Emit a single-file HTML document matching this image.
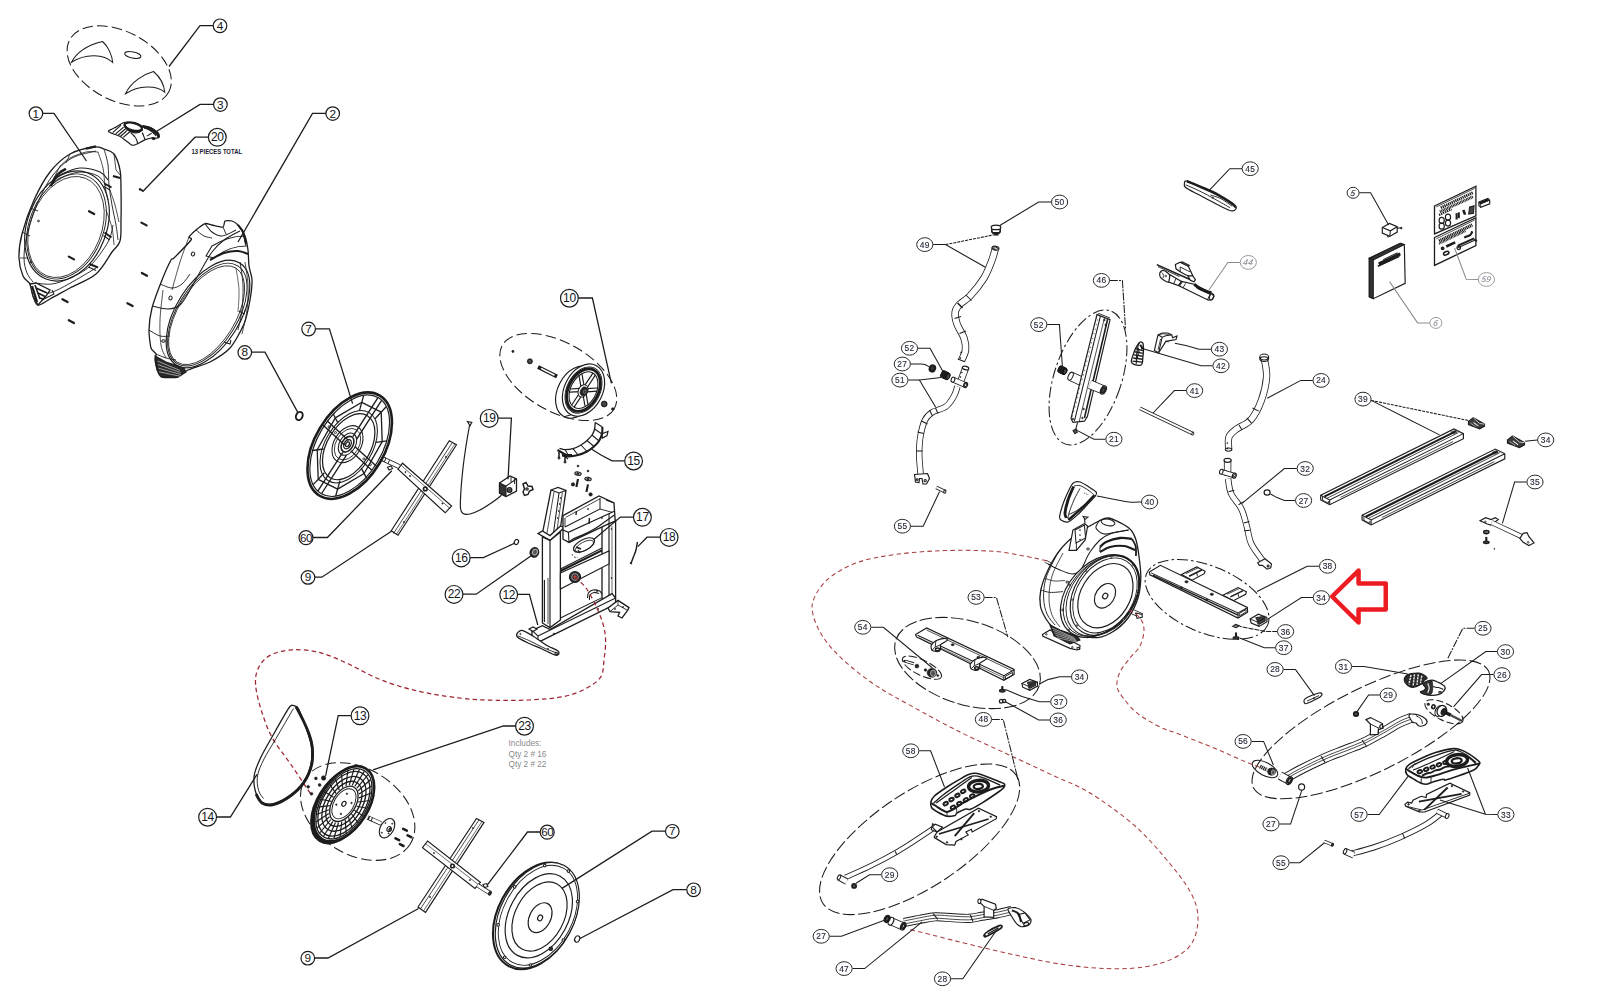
<!DOCTYPE html>
<html><head><meta charset="utf-8"><title>Exploded parts diagram</title>
<style>html,body{margin:0;padding:0;background:#fff;}svg{display:block;font-family:"Liberation Sans",sans-serif;}</style>
</head><body>
<svg width="1600" height="1000" viewBox="0 0 1600 1000">
<defs><filter id="soft" x="0" y="0" width="1600" height="1000" filterUnits="userSpaceOnUse"><feGaussianBlur stdDeviation="0.32"/></filter></defs>
<rect x="0" y="0" width="1600" height="1000" fill="#fff"/>
<g id="left-top">
<ellipse cx="119.2" cy="65.9" rx="56" ry="34.5" transform="rotate(27.5 119.2 65.9)" stroke="#1c1c1c" stroke-width="1.04" fill="none" stroke-dasharray="10.5 4.2"/>
<path d="M71.5 62.2 C78 50 92 44 102.5 41.5 C108 46 112 55 112.7 62.5 C104 54 86 53 71.5 62.2Z" stroke="#1c1c1c" stroke-width="1.04" fill="none"/>
<path d="M125.5 93.7 C131 82 144 74 153.5 71.5 C160 77 164 85 164.75 92.2 C156 85 139 85 125.5 93.7Z" stroke="#1c1c1c" stroke-width="1.04" fill="none"/>
<ellipse cx="132.8" cy="55" rx="8.2" ry="3" transform="rotate(12 132.8 55)" stroke="#1c1c1c" stroke-width="1.04" fill="none"/>
<path d="M108.3 131.5 C107.8 130.5 114.6 127.8 116.2 126.9 C117.8 126 122.2 122.9 124.1 122.5 C125.9 122.1 133.2 122.1 135 122.5 C136.8 122.8 140.5 125.5 142 126 C143.5 126.5 148.7 127 150.3 127.7 C151.9 128.4 157.3 132 158.2 133 C159.1 134 159.3 136.8 159.1 137.4 C158.8 137.9 156.6 138.2 156 138.2 C155.3 138.3 153.5 137.7 152.5 137.8 C151.4 137.9 146.9 139 145.5 139.6 C144.1 140.1 139.2 142.9 138.1 143.5 C136.9 144.1 134.9 145.2 134.1 145.2 C133.4 145.3 131.9 145.2 130.6 144.4 C129.3 143.5 123.2 138.2 121 136.9 C118.8 135.6 108.8 132.5 108.3 131.5Z" stroke="#1c1c1c" stroke-width="1.17" fill="#fff"/>
<ellipse cx="133.2" cy="126.7" rx="9" ry="3.7" transform="rotate(14 133.2 126.7)" stroke="#1c1c1c" stroke-width="2.21" fill="none"/>
<path d="M124.5 125.1 C125.1 125.9 126.4 128.4 128 129.5 C129.6 130.6 132.2 131.4 134.1 131.7 C136 132 138 131.6 139.4 131.2 C140.8 130.9 141.9 129.8 142.4 129.5" stroke="#1c1c1c" stroke-width="2.08" fill="none"/>
<path d="M124.5 126.9 C125.2 127.5 127.1 129.8 128.9 130.8 C130.6 131.8 133.1 132.8 135 133 C136.9 133.2 139.4 132.3 140.2 132.1" stroke="#1c1c1c" stroke-width="1.04" fill="none"/>
<polyline points="121,125.1 112.7,132.6" stroke="#1c1c1c" stroke-width="1.17" fill="none"/>
<polyline points="123.6,127.1 115.7,133.9" stroke="#1c1c1c" stroke-width="1.17" fill="none"/>
<polyline points="125.6,128.8 118.4,135" stroke="#1c1c1c" stroke-width="1.17" fill="none"/>
<polyline points="127.3,130.4 120.6,136.3" stroke="#1c1c1c" stroke-width="1.17" fill="none"/>
<polyline points="130.2,131.5 123.2,137.4" stroke="#1c1c1c" stroke-width="1.17" fill="none"/>
<path d="M130.6 132.6 C131.3 133.2 133.5 135.3 134.6 136.5 C135.6 137.7 136.2 138.8 136.7 140 C137.3 141.2 137.5 143.1 137.7 143.7" stroke="#1c1c1c" stroke-width="1.17" fill="none"/>
<path d="M142.2 132.6 C142.5 133.1 143.3 134.9 143.7 136.1 C144.2 137.3 144.8 139.2 145.1 139.8" stroke="#1c1c1c" stroke-width="1.17" fill="none"/>
<path d="M142.4 126.2 C143.7 126.6 147.8 127.2 150.3 128.4 C152.8 129.6 155.9 131.9 157.3 133.4 C158.7 134.9 158.4 136.7 158.6 137.4" stroke="#1c1c1c" stroke-width="2.86" fill="none"/>
<path d="M144.2 127.7 C145.2 128.2 148.3 129.1 150.3 130.4 C152.3 131.7 155.4 134.7 156.4 135.6" stroke="#1c1c1c" stroke-width="1.56" fill="none"/>
<polyline points="146.8,136.1 151.6,133.2" stroke="#1c1c1c" stroke-width="1.04" fill="none"/>
<ellipse cx="153.6" cy="138.6" rx="1.6" ry="0.9" stroke="#1c1c1c" stroke-width="1.04" fill="#1c1c1c"/>
<path d="M94 147 C88.3 147.8 77.3 149.8 70 154 C62.7 158.2 56 164.3 50 172 C44 179.7 38.7 189.7 34 200 C29.3 210.3 24.5 224.3 22 234 C19.5 243.7 18.8 251 19 258 C19.2 265 21.2 271.7 23 276 C24.8 280.3 28.3 280.7 30 284 C31.7 287.3 31.7 292.5 33 296 C34.3 299.5 35.2 304.5 38 305 C40.8 305.5 44.7 301.8 50 299 C55.3 296.2 62.3 292.2 70 288 C77.7 283.8 89 280 96 274 C103 268 108 257.5 112 252 C116 246.5 118.5 246.3 120 241 C121.5 235.7 120.8 228.5 121 220 C121.2 211.5 121.2 198.3 121 190 C120.8 181.7 121.2 176 120 170 C118.8 164 116.7 157.5 114 154 C111.3 150.5 107.3 150.2 104 149 C100.7 147.8 99.7 146.2 94 147Z" stroke="#1c1c1c" stroke-width="1.30" fill="none"/>
<path d="M96 151 C92 152.2 79.2 154 72 158 C64.8 162 58.7 167.7 53 175 C47.3 182.3 42.3 192 38 202 C33.7 212 29.3 225.7 27 235 C24.7 244.3 24 251.7 24 258 C24 264.3 25.5 269 27 273 C28.5 277 32 280.5 33 282" stroke="#1c1c1c" stroke-width="0.91" fill="none"/>
<path d="M35 283 C37.8 283.2 46.2 284.8 52 284 C57.8 283.2 63.7 281 70 278 C76.3 275 83.7 272 90 266 C96.3 260 104.2 248.8 108 242 C111.8 235.2 112.2 227.8 113 225" stroke="#1c1c1c" stroke-width="0.91" fill="none"/>
<path d="M38 296 C40.8 295.2 49 293.5 55 291 C61 288.5 67.2 284.8 74 281 C80.8 277.2 92.3 270.2 96 268" stroke="#1c1c1c" stroke-width="0.91" fill="none"/>
<ellipse cx="67" cy="226" rx="57" ry="39.5" transform="rotate(-68.4 67 226)" stroke="#1c1c1c" stroke-width="1.17" fill="none"/>
<ellipse cx="66.5" cy="226.5" rx="54.5" ry="37" transform="rotate(-68.4 66.5 226.5)" stroke="#1c1c1c" stroke-width="0.91" fill="none"/>
<ellipse cx="66" cy="227" rx="52.5" ry="35.5" transform="rotate(-68.4 66 227)" stroke="#1c1c1c" stroke-width="0.78" fill="none"/>
<path d="M52 182 C53.7 180.7 57.3 176.3 62 174 C66.7 171.7 73.7 168.3 80 168 C86.3 167.7 95.3 170 100 172 C104.7 174 106.7 178.7 108 180" stroke="#1c1c1c" stroke-width="1.04" fill="none"/>
<path d="M49 186 C50.8 184.7 54.8 180.3 60 178 C65.2 175.7 73.7 172.3 80 172 C86.3 171.7 93.7 173.7 98 176 C102.3 178.3 104.7 184.3 106 186" stroke="#1c1c1c" stroke-width="0.91" fill="none"/>
<path d="M60 166 C61.7 164.7 65.7 160.3 70 158 C74.3 155.7 81.3 153 86 152 C90.7 151 96 152 98 152" stroke="#1c1c1c" stroke-width="0.78" fill="none"/>
<polyline points="60,166 52,182" stroke="#1c1c1c" stroke-width="0.91" fill="none"/>
<polyline points="70,154 66,163" stroke="#1c1c1c" stroke-width="0.78" fill="none"/>
<path d="M104 149 C104.7 151.7 107.2 159 108 165 C108.8 171 108.3 178.3 109 185 C109.7 191.7 110.8 198.3 112 205 C113.2 211.7 115 219.2 116 225 C117 230.8 117.7 237.5 118 240" stroke="#1c1c1c" stroke-width="0.91" fill="none"/>
<path d="M98 152 C98.8 154.7 101.8 162.3 103 168 C104.2 173.7 104.2 180.7 105 186 C105.8 191.3 107.5 197.7 108 200" stroke="#1c1c1c" stroke-width="0.78" fill="none"/>
<path d="M110 190 C110.8 192.5 113.5 199.7 115 205 C116.5 210.3 118.3 219.2 119 222" stroke="#1c1c1c" stroke-width="0.78" fill="none"/>
<path d="M106 210 C107 213 110.7 222.2 112 228 C113.3 233.8 113.7 242.2 114 245" stroke="#1c1c1c" stroke-width="0.78" fill="none"/>
<polyline points="113,176 120,178" stroke="#1c1c1c" stroke-width="2.08" fill="none"/>
<polyline points="114,154 116,170 121,176" stroke="#1c1c1c" stroke-width="0.78" fill="none"/>
<polyline points="30,208 38,211" stroke="#1c1c1c" stroke-width="0.91" fill="none"/>
<polyline points="22,232 30,236" stroke="#1c1c1c" stroke-width="0.91" fill="none"/>
<polyline points="20,258 28,258" stroke="#1c1c1c" stroke-width="0.78" fill="none"/>
<polyline points="104.5,183.5 111.5,187.5" stroke="#1c1c1c" stroke-width="1.95" fill="none"/>
<polyline points="104,186.5 110,190" stroke="#1c1c1c" stroke-width="1.04" fill="none"/>
<polyline points="104.5,232.5 111.5,237.5" stroke="#1c1c1c" stroke-width="1.95" fill="none"/>
<polyline points="103.5,235.5 109.5,240" stroke="#1c1c1c" stroke-width="1.04" fill="none"/>
<polyline points="89.5,264 98,267.5" stroke="#1c1c1c" stroke-width="1.95" fill="none"/>
<polyline points="88.5,267 96,270.5" stroke="#1c1c1c" stroke-width="1.04" fill="none"/>
<path d="M50.8 186 C51.5 184.7 53.5 180.2 55 178 C56.5 175.8 58.2 174 60 172.5 C61.8 171 65 169.4 66 168.8" stroke="#1c1c1c" stroke-width="2.47" fill="none"/>
<polyline points="86,148.6 96,146.4" stroke="#1c1c1c" stroke-width="2.21" fill="none"/>
<ellipse cx="38.5" cy="221" rx="0.9" ry="0.9" stroke="#1c1c1c" stroke-width="0.91" fill="none"/>
<ellipse cx="31" cy="262" rx="0.9" ry="0.9" stroke="#1c1c1c" stroke-width="0.91" fill="none"/>
<polygon points="30,284 36,283 50,290 46,296 38,305 33,296" stroke="#1c1c1c" stroke-width="1.30" fill="#fff"/>
<polyline points="32,286 37,302" stroke="#1c1c1c" stroke-width="2.34" fill="none"/>
<polyline points="35,285 40,299" stroke="#1c1c1c" stroke-width="1.56" fill="none"/>
<polyline points="36,288 47,293" stroke="#1c1c1c" stroke-width="1.82" fill="none"/>
<polyline points="38,293 45,296.5" stroke="#1c1c1c" stroke-width="1.56" fill="none"/>
<polyline points="40,298 44,299.5" stroke="#1c1c1c" stroke-width="1.82" fill="none"/>
<polyline points="42,300 54,294 52,290" stroke="#1c1c1c" stroke-width="1.04" fill="none"/>
<polyline points="89,211.2 94.2,214" stroke="#1c1c1c" stroke-width="2.21" fill="none" stroke-linecap="round"/>
<polyline points="68.8,256.6 74,259.4" stroke="#1c1c1c" stroke-width="2.21" fill="none" stroke-linecap="round"/>
<polyline points="62.4,299.2 67.6,302" stroke="#1c1c1c" stroke-width="2.21" fill="none" stroke-linecap="round"/>
<polyline points="68.8,320.2 74,323" stroke="#1c1c1c" stroke-width="2.21" fill="none" stroke-linecap="round"/>
<polyline points="141.4,222.6 146.6,225.4" stroke="#1c1c1c" stroke-width="2.21" fill="none" stroke-linecap="round"/>
<polyline points="141.8,273 147,275.8" stroke="#1c1c1c" stroke-width="2.21" fill="none" stroke-linecap="round"/>
<polyline points="127.4,303.2 132.6,306" stroke="#1c1c1c" stroke-width="2.21" fill="none" stroke-linecap="round"/>
<polyline points="139.5,189 143.8,191.3" stroke="#1c1c1c" stroke-width="1.95" fill="none"/>
<polyline points="139.2,190.2 140.2,188" stroke="#1c1c1c" stroke-width="1.30" fill="none"/>
<path d="M238 225 C236.5 223.2 233.5 221.5 232 221 C230.5 220.5 226.1 220.3 225 221 C223.9 221.7 224.5 226.5 223 227 C221.5 227.5 214.1 225.4 212 225 C209.9 224.6 206.9 223 205 223.6 C203.1 224.2 197.9 228.4 196 230 C194.1 231.6 189.6 235.8 189 237 C188.4 238.2 192.8 237.6 191 240 C189.2 242.4 176.3 255.7 174 258 C171.7 260.3 172.4 257.4 171 260 C169.6 262.6 164.2 274.4 162 280 C159.8 285.6 153.5 302.2 152 308 C150.5 313.8 149.1 325.3 149 330 C148.9 334.7 150.2 345.2 151 348 C151.8 350.8 155.5 352.6 156 354 C156.5 355.4 154.8 357.9 155 360 C155.2 362.1 157.2 370 158 372 C158.8 374 159.7 376.4 162 377 C164.3 377.6 175 377.8 178 377 C181 376.2 184.3 371.8 188 370 C191.7 368.2 205.1 364.6 210 362 C214.9 359.4 226 352.4 230 348 C234 343.6 241.7 329.6 244 324 C246.3 318.4 249.1 305.1 250 300 C250.9 294.9 252.1 284 252 280 C251.9 276 249.5 269.5 249 266 C248.5 262.5 248.5 253.5 248 250 C247.5 246.5 246.2 238.9 245 236 C243.8 233.1 239.5 226.8 238 225Z" stroke="#1c1c1c" stroke-width="1.30" fill="none"/>
<ellipse cx="208" cy="314" rx="60" ry="32" transform="rotate(-58 208 314)" stroke="#1c1c1c" stroke-width="1.17" fill="none"/>
<ellipse cx="207.3" cy="314.6" rx="57.5" ry="30" transform="rotate(-58 207.3 314.6)" stroke="#1c1c1c" stroke-width="0.91" fill="none"/>
<ellipse cx="206.6" cy="315.2" rx="55.5" ry="28.5" transform="rotate(-58 206.6 315.2)" stroke="#1c1c1c" stroke-width="0.78" fill="none"/>
<path d="M152 306 C154.7 306.5 163.3 309.2 168 309 C172.7 308.8 176.3 308.2 180 305 C183.7 301.8 186.7 295.5 190 290 C193.3 284.5 196.3 278.3 200 272 C203.7 265.7 208 257.3 212 252 C216 246.7 219.3 243.5 224 240 C228.7 236.5 237.3 232.5 240 231" stroke="#1c1c1c" stroke-width="1.04" fill="none"/>
<path d="M160 284 C162 284.7 168.3 288 172 288 C175.7 288 179 286.3 182 284 C185 281.7 188.7 275.7 190 274" stroke="#1c1c1c" stroke-width="0.91" fill="none"/>
<path d="M149 330 C150.8 331 156.5 335 160 336 C163.5 337 168.3 336 170 336" stroke="#1c1c1c" stroke-width="0.91" fill="none"/>
<path d="M156 354 C157.7 354.7 162.7 357 166 358 C169.3 359 174.3 359.7 176 360" stroke="#1c1c1c" stroke-width="0.91" fill="none"/>
<path d="M163 290 C162.5 295 160.3 310.8 160 320 C159.7 329.2 160 338.7 161 345 C162 351.3 165.2 355.8 166 358" stroke="#1c1c1c" stroke-width="0.78" fill="none"/>
<path d="M189 237 C187.5 241.2 182.8 253.2 180 262 C177.2 270.8 173.3 285.3 172 290" stroke="#1c1c1c" stroke-width="0.78" fill="none"/>
<path d="M205 223.6 C206.2 225 209.2 229.9 212 232 C214.8 234.1 218 236.3 222 236 C226 235.7 233.7 231 236 230" stroke="#1c1c1c" stroke-width="1.04" fill="none"/>
<path d="M196 230 C197.3 231 201.3 234.7 204 236 C206.7 237.3 210.7 237.7 212 238" stroke="#1c1c1c" stroke-width="0.91" fill="none"/>
<polyline points="223,227 226,234" stroke="#1c1c1c" stroke-width="0.91" fill="none"/>
<path d="M206 256 L212 246 C222 240 234 236 244 236 L246 246 C236 246 224 250 214 258 Z" stroke="#1c1c1c" stroke-width="1.04" fill="none"/>
<path d="M210 260 C212.3 258.8 219.3 254.5 224 253 C228.7 251.5 234 250.8 238 251 C242 251.2 246.3 253.5 248 254" stroke="#1c1c1c" stroke-width="2.08" fill="none"/>
<path d="M238 225 C238.8 226.2 241.7 228.8 243 232 C244.3 235.2 245.5 242 246 244" stroke="#1c1c1c" stroke-width="2.08" fill="none"/>
<path d="M240 262 C240.5 265.8 242.7 277 243 285 C243.3 293 242.8 302.5 242 310 C241.2 317.5 238.7 326.7 238 330" stroke="#1c1c1c" stroke-width="0.91" fill="none"/>
<path d="M245 262 C245.5 265.8 247.7 277 248 285 C248.3 293 248 301.8 247 310 C246 318.2 242.8 330 242 334" stroke="#1c1c1c" stroke-width="0.78" fill="none"/>
<path d="M236 268 C236.5 271.7 238.7 282.7 239 290 C239.3 297.3 238.2 308.3 238 312" stroke="#1c1c1c" stroke-width="0.65" fill="none"/>
<polyline points="239,311 244,314 245,310" stroke="#1c1c1c" stroke-width="1.04" fill="none"/>
<polyline points="224,342 230,344 231,340" stroke="#1c1c1c" stroke-width="1.04" fill="none"/>
<ellipse cx="193" cy="254" rx="1.6" ry="2" transform="rotate(20 193 254)" stroke="#1c1c1c" stroke-width="1.04" fill="none"/>
<ellipse cx="170.5" cy="298" rx="1.6" ry="2" transform="rotate(20 170.5 298)" stroke="#1c1c1c" stroke-width="1.04" fill="none"/>
<ellipse cx="163.5" cy="341" rx="1.8" ry="1.2" stroke="#1c1c1c" stroke-width="1.04" fill="none"/>
<polygon points="155,356 166,362 184,368 186,372 178,377 162,377 157,370" stroke="#1c1c1c" stroke-width="1.04" fill="#2a2a2a"/>
<polyline points="157.5,361 180,370.5" stroke="#ddd" stroke-width="0.65" fill="none"/>
<polyline points="158,364.6 180.5,372.5" stroke="#ddd" stroke-width="0.65" fill="none"/>
<polyline points="158.5,368.2 181,374.5" stroke="#ddd" stroke-width="0.65" fill="none"/>
<polyline points="159,371.8 181.5,376.5" stroke="#ddd" stroke-width="0.65" fill="none"/>
</g>
<g id="left-mid">
<ellipse cx="299.3" cy="416" rx="3.2" ry="4.2" transform="rotate(25 299.3 416)" stroke="#1c1c1c" stroke-width="1.95" fill="none"/>
<ellipse cx="349.7" cy="445.7" rx="58.4" ry="34.6" transform="rotate(-59 349.7 445.7)" stroke="#1c1c1c" stroke-width="2.60" fill="none"/>
<ellipse cx="349.7" cy="445.7" rx="55.8" ry="32.2" transform="rotate(-59 349.7 445.7)" stroke="#1c1c1c" stroke-width="1.17" fill="none"/>
<ellipse cx="348.7" cy="446.7" rx="36.2" ry="21.5" transform="rotate(-59 348.7 446.7)" stroke="#1c1c1c" stroke-width="1.23" fill="none"/>
<ellipse cx="348.7" cy="446.7" rx="39.7" ry="23.5" transform="rotate(-59 348.7 446.7)" stroke="#1c1c1c" stroke-width="1.04" fill="none"/>
<ellipse cx="347.5" cy="444.2" rx="20" ry="13.5" transform="rotate(-59 347.5 444.2)" stroke="#1c1c1c" stroke-width="1.04" fill="none"/>
<ellipse cx="347.5" cy="444.2" rx="17" ry="11.5" transform="rotate(-59 347.5 444.2)" stroke="#1c1c1c" stroke-width="0.78" fill="none"/>
<ellipse cx="347.5" cy="444.2" rx="12" ry="8" transform="rotate(-59 347.5 444.2)" stroke="#1c1c1c" stroke-width="1.04" fill="none"/>
<ellipse cx="347.5" cy="444.2" rx="8.5" ry="5.5" transform="rotate(-59 347.5 444.2)" stroke="#1c1c1c" stroke-width="1.56" fill="none"/>
<ellipse cx="347.5" cy="444.2" rx="5" ry="3.3" transform="rotate(-59 347.5 444.2)" stroke="#1c1c1c" stroke-width="1.30" fill="none"/>
<ellipse cx="347.5" cy="444.2" rx="2.6" ry="1.7" transform="rotate(-59 347.5 444.2)" stroke="#1c1c1c" stroke-width="1.30" fill="none"/>
<polyline points="356.7,439.1 381.6,400.3" stroke="#1c1c1c" stroke-width="1.37" fill="none"/>
<polyline points="352.8,436.6 377.8,397.9" stroke="#1c1c1c" stroke-width="1.37" fill="none"/>
<polyline points="342.7,452.3 317.8,491.1" stroke="#1c1c1c" stroke-width="1.37" fill="none"/>
<polyline points="346.6,454.8 321.6,493.5" stroke="#1c1c1c" stroke-width="1.37" fill="none"/>
<polyline points="350.8,450.8 372.1,470.5" stroke="#1c1c1c" stroke-width="1.37" fill="none"/>
<polyline points="354.8,446.4 376.2,466.1" stroke="#1c1c1c" stroke-width="1.37" fill="none"/>
<polyline points="348.6,440.6 327.3,420.9" stroke="#1c1c1c" stroke-width="1.37" fill="none"/>
<polyline points="344.6,445 323.2,425.3" stroke="#1c1c1c" stroke-width="1.37" fill="none"/>
<polyline points="375,418.7 386.2,406.8" stroke="#1c1c1c" stroke-width="1.30" fill="none"/>
<polyline points="375.8,442.4 387.3,440.9" stroke="#1c1c1c" stroke-width="1.30" fill="none"/>
<polyline points="361.3,468.1 366.4,477.9" stroke="#1c1c1c" stroke-width="1.30" fill="none"/>
<polyline points="340,480.6 335.7,496" stroke="#1c1c1c" stroke-width="1.30" fill="none"/>
<polyline points="324.4,472.7 313.2,484.6" stroke="#1c1c1c" stroke-width="1.30" fill="none"/>
<polyline points="323.6,449 312.1,450.5" stroke="#1c1c1c" stroke-width="1.30" fill="none"/>
<polyline points="338.1,423.3 333,413.5" stroke="#1c1c1c" stroke-width="1.30" fill="none"/>
<polyline points="359.4,410.8 363.7,395.4" stroke="#1c1c1c" stroke-width="1.30" fill="none"/>
<polyline points="381.2,412.1 382.2,441.6" stroke="#1c1c1c" stroke-width="1.30" fill="none"/>
<polyline points="382.2,441.6 364.1,473.5" stroke="#1c1c1c" stroke-width="1.30" fill="none"/>
<polyline points="364.1,473.5 337.6,489.1" stroke="#1c1c1c" stroke-width="1.30" fill="none"/>
<polyline points="337.6,489.1 318.2,479.3" stroke="#1c1c1c" stroke-width="1.30" fill="none"/>
<polyline points="318.2,479.3 317.2,449.8" stroke="#1c1c1c" stroke-width="1.30" fill="none"/>
<polyline points="317.2,449.8 335.3,417.9" stroke="#1c1c1c" stroke-width="1.30" fill="none"/>
<polyline points="335.3,417.9 361.8,402.3" stroke="#1c1c1c" stroke-width="1.30" fill="none"/>
<polyline points="361.8,402.3 381.2,412.1" stroke="#1c1c1c" stroke-width="1.30" fill="none"/>
<ellipse cx="363.9" cy="458.8" rx="1" ry="1" stroke="#1c1c1c" stroke-width="0.91" fill="none"/>
<ellipse cx="370.3" cy="464.7" rx="1" ry="1" stroke="#1c1c1c" stroke-width="0.91" fill="none"/>
<ellipse cx="335.5" cy="432.6" rx="1" ry="1" stroke="#1c1c1c" stroke-width="0.91" fill="none"/>
<ellipse cx="329.1" cy="426.7" rx="1" ry="1" stroke="#1c1c1c" stroke-width="0.91" fill="none"/>
<polygon points="449.3,440.8 456.5,444.8 398,535.2 391.2,530.8" stroke="#1c1c1c" stroke-width="1.17" fill="#fff"/>
<polyline points="452,443 393.5,533.5" stroke="#1c1c1c" stroke-width="0.78" fill="none"/>
<polyline points="454.8,444 396.4,534.3" stroke="#1c1c1c" stroke-width="0.65" fill="none"/>
<polygon points="398,469.1 402.5,463.2 451.6,506 445.2,512.8" stroke="#1c1c1c" stroke-width="1.17" fill="#fff"/>
<polyline points="400.5,464.8 449.5,508" stroke="#1c1c1c" stroke-width="0.65" fill="none"/>
<path d="M384 459.5 L399 466.5" stroke="#1c1c1c" stroke-width="5.1" fill="none" stroke-linecap="butt" stroke-linejoin="round"/>
<path d="M384 459.5 L399 466.5" stroke="#fff" stroke-width="3.5" fill="none" stroke-linecap="butt" stroke-linejoin="round"/>
<ellipse cx="384" cy="459.5" rx="1.3" ry="2.2" transform="rotate(25 384 459.5)" stroke="#1c1c1c" stroke-width="0.91" fill="#fff"/>
<polyline points="389.5,460.2 388,463.6" stroke="#1c1c1c" stroke-width="0.91" fill="none"/>
<polygon points="387.5,467.2 391,466 392.6,468.6 389,470" stroke="#1c1c1c" stroke-width="1.04" fill="none"/>
<ellipse cx="425.3" cy="488.9" rx="1.8" ry="1.8" stroke="#1c1c1c" stroke-width="1.56" fill="none"/>
<ellipse cx="405.5" cy="472" rx="0.6" ry="0.6" stroke="#1c1c1c" stroke-width="0.78" fill="#1c1c1c"/>
<ellipse cx="410" cy="476" rx="0.6" ry="0.6" stroke="#1c1c1c" stroke-width="0.78" fill="#1c1c1c"/>
<ellipse cx="442.5" cy="503.5" rx="0.6" ry="0.6" stroke="#1c1c1c" stroke-width="0.78" fill="#1c1c1c"/>
<ellipse cx="446" cy="457" rx="0.6" ry="0.6" stroke="#1c1c1c" stroke-width="0.78" fill="#1c1c1c"/>
<ellipse cx="404" cy="522" rx="0.6" ry="0.6" stroke="#1c1c1c" stroke-width="0.78" fill="#1c1c1c"/>
<path d="M469.6 425 C469 428.5 467.1 438.8 466 446 C464.9 453.2 463.8 460.7 463 468 C462.2 475.3 461.4 483.4 461 490 C460.6 496.6 460.1 503.6 460.4 507.5 C460.7 511.4 461.4 512.4 463 513.5 C464.6 514.6 467.2 514.6 470 514 C472.8 513.4 476.3 511.9 480 510 C483.7 508.1 488.6 504.8 492 502.5 C495.4 500.2 498.5 498 500.5 496 C502.5 494 503.2 491.3 503.8 490.4" stroke="#1c1c1c" stroke-width="1.17" fill="none"/>
<polygon points="467.4,421.5 471.8,422.5 470,425.8" stroke="#1c1c1c" stroke-width="1.17" fill="none"/>
<polygon points="499.5,483 510,476 516.5,479 516.5,491 506,496.5 499.5,493" stroke="#1c1c1c" stroke-width="1.30" fill="#fff"/>
<polygon points="499.5,483 506,486 506,496.5 499.5,493" stroke="#1c1c1c" stroke-width="1.04" fill="#333"/>
<polyline points="506,486 516.5,479" stroke="#1c1c1c" stroke-width="1.04" fill="none"/>
<ellipse cx="509.5" cy="490" rx="2.2" ry="2.2" stroke="#1c1c1c" stroke-width="1.56" fill="none"/>
<ellipse cx="509.5" cy="490" rx="0.8" ry="0.8" stroke="#1c1c1c" stroke-width="1.04" fill="none"/>
<polyline points="511,477 511,482" stroke="#1c1c1c" stroke-width="0.91" fill="none"/>
<polyline points="514.5,478.5 514.5,484" stroke="#1c1c1c" stroke-width="0.91" fill="none"/>
<polygon points="523,484 526,482.5 528,486 532,486.5 533,489.5 529.5,491 528,494.5 524.5,495.5 523,492 524.5,489" stroke="#1c1c1c" stroke-width="1.43" fill="#fff"/>
<ellipse cx="527" cy="489" rx="1.2" ry="1.2" stroke="#1c1c1c" stroke-width="1.17" fill="none"/>
<ellipse cx="558.3" cy="377" rx="64.3" ry="34.4" transform="rotate(29.5 558.3 377)" stroke="#1c1c1c" stroke-width="1.04" fill="none" stroke-dasharray="10.5 4.2"/>
<ellipse cx="512.9" cy="351.4" rx="1.1" ry="1.1" stroke="#1c1c1c" stroke-width="0.65" fill="#1c1c1c"/>
<ellipse cx="529.9" cy="361.3" rx="2.6" ry="2.6" stroke="#1c1c1c" stroke-width="0.65" fill="#222"/>
<ellipse cx="529.9" cy="361.3" rx="1" ry="1" stroke="#888" stroke-width="0.65" fill="none"/>
<polyline points="538,366.9 557,376.4" stroke="#1c1c1c" stroke-width="3.90" fill="none"/>
<polyline points="541,368.4 554.5,375.2" stroke="#fff" stroke-width="1.56" fill="none"/>
<ellipse cx="604.2" cy="404" rx="3" ry="3" stroke="#1c1c1c" stroke-width="0.65" fill="#222"/>
<ellipse cx="604.2" cy="404" rx="1.2" ry="1.2" stroke="#888" stroke-width="0.65" fill="none"/>
<ellipse cx="612.8" cy="409" rx="1.3" ry="1.3" stroke="#1c1c1c" stroke-width="0.65" fill="#1c1c1c"/>
<ellipse cx="576.7" cy="392.1" rx="27.6" ry="19.1" transform="rotate(-63 576.7 392.1)" stroke="#1c1c1c" stroke-width="1.17" fill="#fff"/>
<path d="M589.2 367.5 L596 365.5" stroke="#1c1c1c" stroke-width="1.17" fill="none"/>
<path d="M564.2 416.7 L571 414.7" stroke="#1c1c1c" stroke-width="1.17" fill="none"/>
<ellipse cx="583.5" cy="390.1" rx="27.6" ry="19.1" transform="rotate(-63 583.5 390.1)" stroke="#1c1c1c" stroke-width="1.17" fill="#fff"/>
<ellipse cx="583.5" cy="390.1" rx="24.6" ry="16.6" transform="rotate(-63 583.5 390.1)" stroke="#1c1c1c" stroke-width="0.91" fill="none"/>
<ellipse cx="583.5" cy="390.1" rx="22.6" ry="15" transform="rotate(-63 583.5 390.1)" stroke="#1c1c1c" stroke-width="2.86" fill="none"/>
<ellipse cx="583.5" cy="390.1" rx="19.5" ry="12.8" transform="rotate(-63 583.5 390.1)" stroke="#1c1c1c" stroke-width="1.04" fill="none"/>
<polyline points="584.4,385.9 592.9,373.1" stroke="#1c1c1c" stroke-width="1.17" fill="none"/>
<polyline points="587.1,387.7 595.5,374.9" stroke="#1c1c1c" stroke-width="1.17" fill="none"/>
<polyline points="586.6,388.6 597.2,388" stroke="#1c1c1c" stroke-width="1.17" fill="none"/>
<polyline points="586.7,391.8 597.3,391.2" stroke="#1c1c1c" stroke-width="1.17" fill="none"/>
<polyline points="586,393.2 588.1,405.4" stroke="#1c1c1c" stroke-width="1.17" fill="none"/>
<polyline points="582.8,393.7 585,406" stroke="#1c1c1c" stroke-width="1.17" fill="none"/>
<polyline points="582.6,394.3 574.1,407.1" stroke="#1c1c1c" stroke-width="1.17" fill="none"/>
<polyline points="579.9,392.5 571.5,405.3" stroke="#1c1c1c" stroke-width="1.17" fill="none"/>
<polyline points="580.4,391.6 569.8,392.2" stroke="#1c1c1c" stroke-width="1.17" fill="none"/>
<polyline points="580.3,388.4 569.7,389" stroke="#1c1c1c" stroke-width="1.17" fill="none"/>
<polyline points="581,387 578.9,374.8" stroke="#1c1c1c" stroke-width="1.17" fill="none"/>
<polyline points="584.2,386.5 582,374.2" stroke="#1c1c1c" stroke-width="1.17" fill="none"/>
<ellipse cx="583" cy="390.9" rx="6.5" ry="4.6" transform="rotate(-63 583 390.9)" stroke="#1c1c1c" stroke-width="1.04" fill="#fff"/>
<ellipse cx="583.8" cy="391.3" rx="4.6" ry="3.3" transform="rotate(-63 583.8 391.3)" stroke="#1c1c1c" stroke-width="0.65" fill="#222"/>
<ellipse cx="584.7" cy="391.7" rx="1.8" ry="1.3" transform="rotate(-63 584.7 391.7)" stroke="#999" stroke-width="0.65" fill="none"/>
<path d="M595.2 422.5 C595.1 423.6 595.1 426.9 594.6 429 C594.1 431.1 593.3 433.1 592 435 C590.7 436.9 588.8 438.8 587 440.5 C585.2 442.2 583.3 443.6 581 445 C578.7 446.4 575.7 447.8 573 448.6 C570.3 449.4 567.2 449.6 565 449.6 C562.8 449.6 560.4 448.6 559.5 448.4" stroke="#1c1c1c" stroke-width="1.30" fill="none"/>
<path d="M602.4 427 C602.3 428.2 602.6 431.7 602 434 C601.4 436.3 600.3 438.9 599 441 C597.7 443.1 596 444.8 594 446.5 C592 448.2 589.7 450.1 587 451.5 C584.3 452.9 581 454.2 578 455 C575 455.8 571.7 456.3 569 456.4 C566.3 456.5 563.2 455.6 562 455.4" stroke="#1c1c1c" stroke-width="2.08" fill="none"/>
<polyline points="595.2,422.5 602.4,427" stroke="#1c1c1c" stroke-width="1.17" fill="none"/>
<polyline points="594.6,429 602,434" stroke="#1c1c1c" stroke-width="1.04" fill="none"/>
<polyline points="592,435 599,441" stroke="#1c1c1c" stroke-width="1.04" fill="none"/>
<polyline points="587,440.5 594,446.5" stroke="#1c1c1c" stroke-width="1.04" fill="none"/>
<polyline points="581,445 587,451.5" stroke="#1c1c1c" stroke-width="1.04" fill="none"/>
<polyline points="573,448.6 578,455" stroke="#1c1c1c" stroke-width="1.04" fill="none"/>
<polyline points="565,449.6 569,456.4" stroke="#1c1c1c" stroke-width="1.04" fill="none"/>
<polygon points="601.5,434 608,431.5 607,435.5 602.5,438" stroke="#1c1c1c" stroke-width="1.17" fill="none"/>
<polyline points="557.5,450 566,455 572,455" stroke="#1c1c1c" stroke-width="2.08" fill="none"/>
<polyline points="559,452 559,457" stroke="#1c1c1c" stroke-width="1.56" fill="none"/>
<polyline points="565,455.5 565,461" stroke="#1c1c1c" stroke-width="1.56" fill="none"/>
<polyline points="562,454 568,459" stroke="#1c1c1c" stroke-width="1.17" fill="none"/>
<ellipse cx="559" cy="458" rx="0.9" ry="0.9" stroke="#1c1c1c" stroke-width="1.04" fill="none"/>
<ellipse cx="565" cy="462" rx="0.9" ry="0.9" stroke="#1c1c1c" stroke-width="1.04" fill="none"/>
</g>
<g id="left-frame">
<ellipse cx="578" cy="466" rx="0.9" ry="0.9" stroke="#1c1c1c" stroke-width="0.65" fill="#1c1c1c"/>
<ellipse cx="588" cy="471" rx="0.9" ry="0.9" stroke="#1c1c1c" stroke-width="0.65" fill="#1c1c1c"/>
<ellipse cx="578" cy="473.6" rx="3.2" ry="1.6" transform="rotate(10 578 473.6)" stroke="#1c1c1c" stroke-width="1.17" fill="#fff"/>
<ellipse cx="578" cy="473.6" rx="1.4" ry="0.7" transform="rotate(10 578 473.6)" stroke="#1c1c1c" stroke-width="0.65" fill="#1c1c1c"/>
<ellipse cx="588" cy="479" rx="3.2" ry="1.6" transform="rotate(10 588 479)" stroke="#1c1c1c" stroke-width="1.17" fill="#fff"/>
<ellipse cx="588" cy="479" rx="1.4" ry="0.7" transform="rotate(10 588 479)" stroke="#1c1c1c" stroke-width="0.65" fill="#1c1c1c"/>
<polyline points="578,479 576.4,487" stroke="#1c1c1c" stroke-width="2.08" fill="none"/>
<polyline points="588,484.4 586.4,492" stroke="#1c1c1c" stroke-width="2.08" fill="none"/>
<ellipse cx="573" cy="484.4" rx="1.7" ry="1.7" stroke="#1c1c1c" stroke-width="0.65" fill="#1c1c1c"/>
<ellipse cx="590.6" cy="494.4" rx="1.7" ry="1.7" stroke="#1c1c1c" stroke-width="0.65" fill="#1c1c1c"/>
<ellipse cx="516.4" cy="542" rx="2" ry="2.6" transform="rotate(30 516.4 542)" stroke="#1c1c1c" stroke-width="1.17" fill="none"/>
<ellipse cx="534.4" cy="552.4" rx="4.2" ry="4.8" transform="rotate(20 534.4 552.4)" stroke="#1c1c1c" stroke-width="1.30" fill="#333"/>
<ellipse cx="535" cy="552.1" rx="2.4" ry="2.9" transform="rotate(20 535 552.1)" stroke="#bbb" stroke-width="0.91" fill="#555"/>
<polygon points="551,490 558,487.4 566,490.4 560.4,528 550,538.4 542.4,533.6" stroke="#1c1c1c" stroke-width="1.30" fill="#fff"/>
<polyline points="551,490 559,493 566,490.4" stroke="#1c1c1c" stroke-width="1.04" fill="none"/>
<polyline points="559,493 553.6,532" stroke="#1c1c1c" stroke-width="1.04" fill="none"/>
<polyline points="554,492 547,533" stroke="#1c1c1c" stroke-width="0.78" fill="none"/>
<polyline points="562.4,492.4 557,530" stroke="#1c1c1c" stroke-width="0.78" fill="none"/>
<ellipse cx="560.4" cy="498" rx="0.5" ry="0.5" stroke="#1c1c1c" stroke-width="0.65" fill="#1c1c1c"/>
<ellipse cx="559.6" cy="504" rx="0.5" ry="0.5" stroke="#1c1c1c" stroke-width="0.65" fill="#1c1c1c"/>
<ellipse cx="558.6" cy="511" rx="0.5" ry="0.5" stroke="#1c1c1c" stroke-width="0.65" fill="#1c1c1c"/>
<ellipse cx="557.6" cy="518" rx="0.5" ry="0.5" stroke="#1c1c1c" stroke-width="0.65" fill="#1c1c1c"/>
<polygon points="538,533.6 542.4,531 550,535.6 560.4,526 564.4,527.6 550,540.4" stroke="#1c1c1c" stroke-width="1.30" fill="#fff"/>
<polygon points="542.4,537 550,540.4 560.4,532 560.4,620 550,627.6 542.4,623" stroke="#1c1c1c" stroke-width="1.30" fill="#fff"/>
<polyline points="550,540.4 550,627.6" stroke="#1c1c1c" stroke-width="1.17" fill="none"/>
<polyline points="544.4,580 544.4,622" stroke="#1c1c1c" stroke-width="1.17" fill="none"/>
<polyline points="548,578 548,624" stroke="#1c1c1c" stroke-width="0.78" fill="none"/>
<polygon points="602,520 609,523.6 615.6,520 615.6,598 609,602.4 602,598" stroke="#1c1c1c" stroke-width="1.30" fill="#fff"/>
<polyline points="609,523.6 609,602.4" stroke="#1c1c1c" stroke-width="1.17" fill="none"/>
<polyline points="612,526 612,600" stroke="#1c1c1c" stroke-width="0.65" fill="none"/>
<ellipse cx="611.4" cy="529" rx="0.5" ry="0.5" stroke="#1c1c1c" stroke-width="0.65" fill="#1c1c1c"/>
<ellipse cx="611.4" cy="578" rx="0.5" ry="0.5" stroke="#1c1c1c" stroke-width="0.65" fill="#1c1c1c"/>
<polygon points="563,515.6 599,496 614,503 615.2,521 609,523.6 569,542.4 563,539.2" stroke="#1c1c1c" stroke-width="1.30" fill="#fff"/>
<polyline points="565,527 600,509 600,498" stroke="#1c1c1c" stroke-width="1.04" fill="none"/>
<polyline points="565,527 565,518" stroke="#1c1c1c" stroke-width="0.91" fill="none"/>
<polyline points="600,509 612.4,512.4" stroke="#1c1c1c" stroke-width="0.91" fill="none"/>
<polyline points="606,500 614,503" stroke="#1c1c1c" stroke-width="1.04" fill="none"/>
<polyline points="565.6,517.4 600.4,498.6" stroke="#1c1c1c" stroke-width="0.78" fill="none"/>
<polyline points="563,530 568.4,532.4 614.8,511" stroke="#1c1c1c" stroke-width="1.17" fill="none"/>
<polyline points="609,513.6 609,523.6" stroke="#1c1c1c" stroke-width="1.04" fill="none"/>
<polyline points="568.4,532.4 569,542.4" stroke="#1c1c1c" stroke-width="1.04" fill="none"/>
<polyline points="576.4,511 576,515" stroke="#1c1c1c" stroke-width="1.43" fill="none"/>
<polyline points="589.4,518 589,524" stroke="#1c1c1c" stroke-width="1.43" fill="none"/>
<ellipse cx="588" cy="509" rx="0.6" ry="0.6" stroke="#1c1c1c" stroke-width="0.65" fill="#1c1c1c"/>
<ellipse cx="602" cy="518" rx="0.6" ry="0.6" stroke="#1c1c1c" stroke-width="0.65" fill="#1c1c1c"/>
<path d="M569 542.4 C569.7 541.8 570.5 540.3 573 539 C575.5 537.7 580.2 536.2 584 534.4 C587.8 532.6 592.3 530.2 596 528 C599.7 525.8 602.9 523.2 606 521 C609.1 518.8 613 516 614.4 515" stroke="#1c1c1c" stroke-width="1.17" fill="none"/>
<ellipse cx="584" cy="545" rx="11.5" ry="5.5" transform="rotate(-28 584 545)" stroke="#1c1c1c" stroke-width="1.17" fill="none"/>
<ellipse cx="584.5" cy="546.2" rx="10" ry="4.2" transform="rotate(-28 584.5 546.2)" stroke="#1c1c1c" stroke-width="0.78" fill="none"/>
<polyline points="576,547 581,549" stroke="#1c1c1c" stroke-width="1.82" fill="none"/>
<polyline points="578,550 580,553" stroke="#1c1c1c" stroke-width="1.30" fill="none"/>
<path d="M572 554 C572.3 554.5 573 556.4 574 557 C575 557.6 577.3 557.5 578 557.6" stroke="#1c1c1c" stroke-width="0.78" fill="none" stroke-dasharray="2 1.5"/>
<polyline points="560.4,569 602,548" stroke="#1c1c1c" stroke-width="1.04" fill="none"/>
<polyline points="560.4,571 602,550.4" stroke="#1c1c1c" stroke-width="2.08" fill="none"/>
<polygon points="560.4,573 609,551 609,564 560.4,589" stroke="#1c1c1c" stroke-width="1.17" fill="#fff"/>
<ellipse cx="575" cy="577" rx="5.6" ry="5.6" stroke="#1c1c1c" stroke-width="1.04" fill="#2a2a2a"/>
<ellipse cx="575" cy="577" rx="3.3" ry="3.3" stroke="#aaa" stroke-width="0.91" fill="none"/>
<ellipse cx="575" cy="577" rx="1.2" ry="1.2" stroke="#c44" stroke-width="0.78" fill="#c44"/>
<polygon points="532,630.4 542.4,625.6 550,629.6 612,593.6 615.6,598 615.6,604 538,642.4 532,636.4" stroke="#1c1c1c" stroke-width="1.30" fill="#fff"/>
<polyline points="538,636 615.6,598" stroke="#1c1c1c" stroke-width="1.04" fill="none"/>
<polyline points="532,630.4 538,636 538,642.4" stroke="#1c1c1c" stroke-width="1.04" fill="none"/>
<polyline points="560.4,618 602,597.6" stroke="#1c1c1c" stroke-width="1.04" fill="none"/>
<ellipse cx="554" cy="633.6" rx="0.6" ry="0.6" stroke="#1c1c1c" stroke-width="0.65" fill="#1c1c1c"/>
<ellipse cx="598" cy="609" rx="0.6" ry="0.6" stroke="#1c1c1c" stroke-width="0.65" fill="#1c1c1c"/>
<polygon points="529,629 533,627 537,629 533,631.6" stroke="#1c1c1c" stroke-width="1.17" fill="#fff"/>
<path d="M517 633.6 C517.5 632.6 519.9 630.1 522 630.4 C524.1 630.7 529.8 634.1 533 636 C536.2 637.9 542.7 643 546 645 C549.3 647 556.3 649.7 558 651 C559.7 652.3 558.8 653.9 558.4 654.4 C558 654.9 557.2 655.7 555 655 C552.8 654.3 545.6 650.6 542 649 C538.4 647.4 531.2 644.5 528 643 C524.8 641.5 519.5 638.9 518 637.6 C516.5 636.3 516.5 634.6 517 633.6Z" stroke="#1c1c1c" stroke-width="1.30" fill="#fff"/>
<path d="M518 636 C520 636.8 525.7 639 530 641 C534.3 643 539.5 646 544 648 C548.5 650 554.8 652.2 557 653" stroke="#1c1c1c" stroke-width="0.91" fill="none"/>
<ellipse cx="520.4" cy="634" rx="0.7" ry="0.7" stroke="#1c1c1c" stroke-width="0.78" fill="none"/>
<ellipse cx="548" cy="649" rx="0.7" ry="0.7" stroke="#1c1c1c" stroke-width="0.78" fill="none"/>
<ellipse cx="556.4" cy="653.6" rx="1.6" ry="1" transform="rotate(30 556.4 653.6)" stroke="#1c1c1c" stroke-width="1.04" fill="none"/>
<polygon points="608,608 618,600.4 629,607.6 627.6,610.4 622,618 618,616 619.6,612.4 610,611.6" stroke="#1c1c1c" stroke-width="1.30" fill="#fff"/>
<polyline points="610,611.6 618,605 627.6,610.4" stroke="#1c1c1c" stroke-width="0.91" fill="none"/>
<polyline points="618,605 618,600.4" stroke="#1c1c1c" stroke-width="0.78" fill="none"/>
<ellipse cx="623" cy="607" rx="0.6" ry="0.6" stroke="#1c1c1c" stroke-width="0.65" fill="#1c1c1c"/>
<ellipse cx="615" cy="609" rx="0.6" ry="0.6" stroke="#1c1c1c" stroke-width="0.65" fill="#1c1c1c"/>
<path d="M587.6 598 C587.7 597.2 587.5 594.3 588.4 593 C589.3 591.7 591.1 590.3 593 590 C594.9 589.7 598.1 590.3 599.6 591 C601.1 591.7 601.6 593.8 602 594.4" stroke="#1c1c1c" stroke-width="1.17" fill="none"/>
<path d="M589.4 600 C589.5 599.2 589.2 596.3 590 595 C590.8 593.7 592.5 592.6 594 592.4 C595.5 592.2 598.2 593.4 599 593.6" stroke="#1c1c1c" stroke-width="1.04" fill="none"/>
<ellipse cx="597" cy="591" rx="0.7" ry="0.7" stroke="#1c1c1c" stroke-width="0.78" fill="none"/>
<path d="M637.4 542 C637.2 543.3 636.7 547.3 636 550 C635.3 552.7 633.8 555.8 633 558 C632.2 560.2 631.3 562.5 631 563.4" stroke="#1c1c1c" stroke-width="1.43" fill="none"/>
<polyline points="630,562.6 632,564" stroke="#1c1c1c" stroke-width="1.30" fill="none"/>
</g>
<path d="M575 577 C576.8 578.8 582.5 583.2 586 588 C589.5 592.8 593.2 600 596 606 C598.8 612 601.4 618.3 603 624 C604.6 629.7 605.4 634 605.6 640 C605.8 646 604.8 653.9 604 660 C603.2 666.1 603.7 672.1 600.8 676.8 C597.9 681.5 592.9 684.7 586.8 688 C580.7 691.3 574.2 694.4 564.4 696.4 C554.6 698.4 541.1 699.4 528 700 C514.9 700.6 497.7 700.4 486 700 C474.3 699.6 467.3 698.9 458 697.8 C448.7 696.7 439 695.3 430 693.6 C421 691.9 413 690.2 404 687.6 C395 685 385.3 681.8 376 677.8 C366.7 673.8 357.3 668 348 663.8 C338.7 659.6 329.3 654.9 320 652.6 C310.7 650.3 300.3 649.3 292 649.8 C283.7 650.3 275.6 652.4 270 655.4 C264.4 658.4 260.8 663.1 258.4 668 C256 672.9 255.1 677.8 255.6 684.8 C256.1 691.8 258.4 701.1 261.2 710 C264 718.9 267.3 728.7 272.4 738 C277.5 747.3 285.5 756.4 292 766 C298.5 775.6 308.3 790.5 311.6 795.4" stroke="#9c2530" stroke-width="1.25" fill="none" stroke-dasharray="4.5 3.2"/>
<g id="left-bottom">
<path d="M292.8 705.4 C294.3 705.4 296.7 706.4 298.3 708.7 C299.9 711 302 717.2 303.5 721 C305 724.8 307 730.1 308.2 734 C309.4 737.9 311.1 742.6 311.5 747.2 C311.9 751.8 312.1 759.5 310.8 764.8 C309.5 770.1 306.2 777.8 303 782.4 C299.8 787 293.9 792.4 289.5 795.6 C285.1 798.8 277.6 802.6 273.5 803.6 C269.4 804.6 264.7 804.1 262 802.2 C259.3 800.3 256.6 795.3 255.4 791.2 C254.2 787.1 253.5 780.1 254.3 775 C255.1 769.9 258.3 762.7 261 757 C263.7 751.3 267.9 744.2 272 737 C276.1 729.8 285.3 713.4 288.4 708.7 C291.5 704 291.3 705.4 292.8 705.4Z" stroke="#1c1c1c" stroke-width="1.30" fill="none"/>
<path d="M296 706.5 C297.2 708.9 301.3 716.4 303.5 721 C305.7 725.6 307.5 729.6 309 734 C310.5 738.4 311.9 742 312.3 747.2 C312.7 752.4 313.1 759 311.6 765 C310.2 771 307.2 777.8 303.6 783 C300 788.2 295 792.8 290 796.4 C285 800 278.2 803.5 273.5 804.6 C268.8 805.7 264.9 804.8 262 803 C259.1 801.2 257 795.5 256 794" stroke="#1c1c1c" stroke-width="2.86" fill="none"/>
<path d="M293.5 708.5 C290.6 713.5 280.9 730.1 276 738.5 C271.1 746.9 267.1 752.8 264 759 C260.9 765.2 258.4 770.8 257.5 776 C256.6 781.2 257.6 786.7 258.6 790.5 C259.6 794.3 262.7 797.2 263.5 798.6" stroke="#1c1c1c" stroke-width="0.91" fill="none"/>
<ellipse cx="357.7" cy="811.5" rx="61.8" ry="42.9" transform="rotate(31.7 357.7 811.5)" stroke="#1c1c1c" stroke-width="1.04" fill="none" stroke-dasharray="10.5 4.2"/>
<ellipse cx="323.6" cy="778" rx="2.2" ry="2.2" stroke="#1c1c1c" stroke-width="0.65" fill="#1c1c1c"/>
<ellipse cx="315.9" cy="778.4" rx="1.4" ry="1.4" stroke="#1c1c1c" stroke-width="0.52" fill="#1c1c1c"/>
<ellipse cx="319.6" cy="785" rx="1.4" ry="1.4" stroke="#1c1c1c" stroke-width="0.52" fill="#1c1c1c"/>
<ellipse cx="308.2" cy="786.8" rx="1.4" ry="1.4" stroke="#1c1c1c" stroke-width="0.52" fill="#1c1c1c"/>
<ellipse cx="311.5" cy="793.8" rx="1.4" ry="1.4" stroke="#1c1c1c" stroke-width="0.52" fill="#1c1c1c"/>
<ellipse cx="341.5" cy="805.6" rx="41.5" ry="24.5" transform="rotate(-58 341.5 805.6)" stroke="#1c1c1c" stroke-width="2.34" fill="#1c1c1c"/>
<ellipse cx="343.9" cy="803.8" rx="41.5" ry="24.5" transform="rotate(-58 343.9 803.8)" stroke="#1c1c1c" stroke-width="2.60" fill="#fff"/>
<ellipse cx="343.9" cy="803.8" rx="38.9" ry="22.5" transform="rotate(-58 343.9 803.8)" stroke="#1c1c1c" stroke-width="1.30" fill="none"/>
<ellipse cx="343.9" cy="803.8" rx="35.7" ry="21.1" transform="rotate(-58 343.9 803.8)" stroke="#1c1c1c" stroke-width="1.30" fill="none"/>
<ellipse cx="343.9" cy="803.8" rx="30.3" ry="17.9" transform="rotate(-58 343.9 803.8)" stroke="#1c1c1c" stroke-width="1.30" fill="none"/>
<ellipse cx="343.9" cy="803.8" rx="24.9" ry="14.7" transform="rotate(-58 343.9 803.8)" stroke="#1c1c1c" stroke-width="1.30" fill="none"/>
<polyline points="354.9,786.2 364.4,771.1" stroke="#1c1c1c" stroke-width="1.17" fill="none"/>
<polyline points="356.9,788.1 368.1,774.6" stroke="#1c1c1c" stroke-width="1.17" fill="none"/>
<polyline points="358.3,790.8 370.7,779.5" stroke="#1c1c1c" stroke-width="1.17" fill="none"/>
<polyline points="359,794.1 371.9,785.7" stroke="#1c1c1c" stroke-width="1.17" fill="none"/>
<polyline points="358.9,797.9 371.8,792.8" stroke="#1c1c1c" stroke-width="1.17" fill="none"/>
<polyline points="358,802 370.2,800.5" stroke="#1c1c1c" stroke-width="1.17" fill="none"/>
<polyline points="356.5,806.2 367.3,808.3" stroke="#1c1c1c" stroke-width="1.17" fill="none"/>
<polyline points="354.3,810.3 363.2,815.9" stroke="#1c1c1c" stroke-width="1.17" fill="none"/>
<polyline points="351.6,814 358.2,822.9" stroke="#1c1c1c" stroke-width="1.17" fill="none"/>
<polyline points="348.5,817.3 352.4,828.9" stroke="#1c1c1c" stroke-width="1.17" fill="none"/>
<polyline points="345.2,819.8 346.3,833.6" stroke="#1c1c1c" stroke-width="1.17" fill="none"/>
<polyline points="341.8,821.6 340,836.9" stroke="#1c1c1c" stroke-width="1.17" fill="none"/>
<polyline points="338.5,822.5 333.9,838.5" stroke="#1c1c1c" stroke-width="1.17" fill="none"/>
<polyline points="335.5,822.4 328.3,838.4" stroke="#1c1c1c" stroke-width="1.17" fill="none"/>
<polyline points="332.9,821.4 323.4,836.5" stroke="#1c1c1c" stroke-width="1.17" fill="none"/>
<polyline points="330.9,819.5 319.7,833" stroke="#1c1c1c" stroke-width="1.17" fill="none"/>
<polyline points="329.5,816.8 317.1,828.1" stroke="#1c1c1c" stroke-width="1.17" fill="none"/>
<polyline points="328.8,813.5 315.9,821.9" stroke="#1c1c1c" stroke-width="1.17" fill="none"/>
<polyline points="328.9,809.7 316,814.8" stroke="#1c1c1c" stroke-width="1.17" fill="none"/>
<polyline points="329.8,805.6 317.6,807.1" stroke="#1c1c1c" stroke-width="1.17" fill="none"/>
<polyline points="331.3,801.4 320.5,799.3" stroke="#1c1c1c" stroke-width="1.17" fill="none"/>
<polyline points="333.5,797.3 324.6,791.7" stroke="#1c1c1c" stroke-width="1.17" fill="none"/>
<polyline points="336.2,793.6 329.6,784.7" stroke="#1c1c1c" stroke-width="1.17" fill="none"/>
<polyline points="339.3,790.3 335.4,778.7" stroke="#1c1c1c" stroke-width="1.17" fill="none"/>
<polyline points="342.6,787.8 341.5,774" stroke="#1c1c1c" stroke-width="1.17" fill="none"/>
<polyline points="346,786 347.8,770.7" stroke="#1c1c1c" stroke-width="1.17" fill="none"/>
<polyline points="349.3,785.1 353.9,769.1" stroke="#1c1c1c" stroke-width="1.17" fill="none"/>
<polyline points="352.3,785.2 359.5,769.2" stroke="#1c1c1c" stroke-width="1.17" fill="none"/>
<ellipse cx="343.9" cy="803.8" rx="19.5" ry="11.5" transform="rotate(-58 343.9 803.8)" stroke="#1c1c1c" stroke-width="1.30" fill="#fff"/>
<ellipse cx="343.9" cy="803.8" rx="16.6" ry="9.8" transform="rotate(-58 343.9 803.8)" stroke="#1c1c1c" stroke-width="0.91" fill="none"/>
<ellipse cx="343.9" cy="803.8" rx="2.6" ry="1.9" transform="rotate(-58 343.9 803.8)" stroke="#1c1c1c" stroke-width="1.17" fill="none"/>
<ellipse cx="351.5" cy="803" rx="0.8" ry="0.8" stroke="#1c1c1c" stroke-width="0.52" fill="#1c1c1c"/>
<ellipse cx="340.9" cy="813.9" rx="0.8" ry="0.8" stroke="#1c1c1c" stroke-width="0.52" fill="#1c1c1c"/>
<ellipse cx="336.3" cy="804.6" rx="0.8" ry="0.8" stroke="#1c1c1c" stroke-width="0.52" fill="#1c1c1c"/>
<ellipse cx="346.9" cy="793.7" rx="0.8" ry="0.8" stroke="#1c1c1c" stroke-width="0.52" fill="#1c1c1c"/>
<path d="M367.6 817.4 L381 823.4" stroke="#1c1c1c" stroke-width="4.4" fill="none" stroke-linecap="butt" stroke-linejoin="round"/>
<path d="M367.6 817.4 L381 823.4" stroke="#fff" stroke-width="2.8" fill="none" stroke-linecap="butt" stroke-linejoin="round"/>
<polyline points="369.5,816.2 368,819.8" stroke="#1c1c1c" stroke-width="1.56" fill="none"/>
<polyline points="372.5,817.6 371,821.2" stroke="#1c1c1c" stroke-width="1.04" fill="none"/>
<ellipse cx="387" cy="828.2" rx="10.5" ry="6.6" transform="rotate(-60 387 828.2)" stroke="#1c1c1c" stroke-width="1.17" fill="#fff"/>
<ellipse cx="389" cy="829" rx="2.6" ry="1.9" transform="rotate(-60 389 829)" stroke="#1c1c1c" stroke-width="1.04" fill="#fff"/>
<ellipse cx="390.2" cy="829.6" rx="1.6" ry="1.2" transform="rotate(-60 390.2 829.6)" stroke="#1c1c1c" stroke-width="1.04" fill="#555"/>
<ellipse cx="392.2" cy="823.7" rx="0.6" ry="0.6" stroke="#1c1c1c" stroke-width="0.52" fill="#1c1c1c"/>
<ellipse cx="388.6" cy="833.4" rx="0.6" ry="0.6" stroke="#1c1c1c" stroke-width="0.52" fill="#1c1c1c"/>
<ellipse cx="381.8" cy="832.7" rx="0.6" ry="0.6" stroke="#1c1c1c" stroke-width="0.52" fill="#1c1c1c"/>
<ellipse cx="385.4" cy="823" rx="0.6" ry="0.6" stroke="#1c1c1c" stroke-width="0.52" fill="#1c1c1c"/>
<polyline points="403.2,828.8 406.8,830.6" stroke="#1c1c1c" stroke-width="2.60" fill="none" stroke-linecap="round"/>
<polyline points="407.6,835.4 411.2,837.2" stroke="#1c1c1c" stroke-width="2.60" fill="none" stroke-linecap="round"/>
<polyline points="395.5,838.3 399.1,840.1" stroke="#1c1c1c" stroke-width="2.60" fill="none" stroke-linecap="round"/>
<polyline points="399.9,844.2 403.5,846" stroke="#1c1c1c" stroke-width="2.60" fill="none" stroke-linecap="round"/>
<polygon points="476.5,818.5 484,822.4 425.5,912.4 418,907" stroke="#1c1c1c" stroke-width="1.17" fill="#fff"/>
<polyline points="479,819.8 420.5,908.8" stroke="#1c1c1c" stroke-width="0.78" fill="none"/>
<polyline points="482,821.4 423.5,911" stroke="#1c1c1c" stroke-width="0.65" fill="none"/>
<polygon points="422.5,847.6 427.6,841 480.4,882.4 475,888.4" stroke="#1c1c1c" stroke-width="1.17" fill="#fff"/>
<polyline points="425.6,843.6 478.4,884.6" stroke="#1c1c1c" stroke-width="0.65" fill="none"/>
<path d="M477.5 885.2 L490 893.2" stroke="#1c1c1c" stroke-width="4.4" fill="none" stroke-linecap="butt" stroke-linejoin="round"/>
<path d="M477.5 885.2 L490 893.2" stroke="#fff" stroke-width="2.8" fill="none" stroke-linecap="butt" stroke-linejoin="round"/>
<ellipse cx="490" cy="893.2" rx="1.2" ry="2" transform="rotate(30 490 893.2)" stroke="#1c1c1c" stroke-width="1.04" fill="#333"/>
<polygon points="483,884.6 486.5,883.6 488,886.4 484.6,887.6" stroke="#1c1c1c" stroke-width="1.04" fill="#fff"/>
<ellipse cx="452.5" cy="866" rx="1.8" ry="1.8" stroke="#1c1c1c" stroke-width="1.56" fill="none"/>
<ellipse cx="434" cy="853" rx="0.6" ry="0.6" stroke="#1c1c1c" stroke-width="0.65" fill="#1c1c1c"/>
<ellipse cx="470" cy="880" rx="0.6" ry="0.6" stroke="#1c1c1c" stroke-width="0.65" fill="#1c1c1c"/>
<ellipse cx="473" cy="828" rx="0.6" ry="0.6" stroke="#1c1c1c" stroke-width="0.65" fill="#1c1c1c"/>
<ellipse cx="430" cy="897" rx="0.6" ry="0.6" stroke="#1c1c1c" stroke-width="0.65" fill="#1c1c1c"/>
<ellipse cx="535.7" cy="915.9" rx="57" ry="37.5" transform="rotate(-61.6 535.7 915.9)" stroke="#1c1c1c" stroke-width="2.08" fill="none"/>
<ellipse cx="537.3" cy="915.3" rx="56.5" ry="36.7" transform="rotate(-61.6 537.3 915.3)" stroke="#1c1c1c" stroke-width="1.17" fill="#fff"/>
<ellipse cx="537.9" cy="915.3" rx="53.6" ry="34.5" transform="rotate(-61.6 537.9 915.3)" stroke="#1c1c1c" stroke-width="0.91" fill="none"/>
<ellipse cx="538.8" cy="915.8" rx="45" ry="29.5" transform="rotate(-61.6 538.8 915.8)" stroke="#1c1c1c" stroke-width="1.17" fill="none"/>
<ellipse cx="539.5" cy="916.5" rx="37" ry="24.2" transform="rotate(-61.6 539.5 916.5)" stroke="#1c1c1c" stroke-width="1.17" fill="none"/>
<ellipse cx="540.1" cy="917.7" rx="16" ry="10.5" transform="rotate(-61.6 540.1 917.7)" stroke="#1c1c1c" stroke-width="1.17" fill="none"/>
<ellipse cx="540.1" cy="917.9" rx="3" ry="2.3" transform="rotate(-61.6 540.1 917.9)" stroke="#1c1c1c" stroke-width="1.17" fill="none"/>
<ellipse cx="568.4" cy="871.1" rx="1.3" ry="1.3" stroke="#1c1c1c" stroke-width="1.04" fill="#fff"/>
<ellipse cx="577.6" cy="901.5" rx="1.3" ry="1.3" stroke="#1c1c1c" stroke-width="1.04" fill="#fff"/>
<ellipse cx="563.3" cy="940" rx="1.3" ry="1.3" stroke="#1c1c1c" stroke-width="1.04" fill="#fff"/>
<ellipse cx="530.5" cy="965" rx="1.3" ry="1.3" stroke="#1c1c1c" stroke-width="1.04" fill="#fff"/>
<ellipse cx="504.7" cy="957.2" rx="1.3" ry="1.3" stroke="#1c1c1c" stroke-width="1.04" fill="#fff"/>
<ellipse cx="498.1" cy="924.9" rx="1.3" ry="1.3" stroke="#1c1c1c" stroke-width="1.04" fill="#fff"/>
<ellipse cx="514.6" cy="886.9" rx="1.3" ry="1.3" stroke="#1c1c1c" stroke-width="1.04" fill="#fff"/>
<ellipse cx="544.7" cy="865.6" rx="1.3" ry="1.3" stroke="#1c1c1c" stroke-width="1.04" fill="#fff"/>
<ellipse cx="550.8" cy="948.8" rx="1.7" ry="1.7" stroke="#1c1c1c" stroke-width="1.04" fill="#333"/>
<ellipse cx="577.2" cy="939" rx="2.4" ry="3.3" transform="rotate(25 577.2 939)" stroke="#1c1c1c" stroke-width="1.17" fill="none"/>
</g>
<text x="191.4" y="154" font-size="8" fill="#1a2030" text-anchor="start" textLength="50.6" lengthAdjust="spacingAndGlyphs" font-weight="bold">13 PIECES TOTAL</text>
<text x="508.6" y="746.4" font-size="8.2" fill="#8a8a8a" text-anchor="start" >Includes:</text>
<text x="508.6" y="756.5" font-size="8.2" fill="#8a8a8a" text-anchor="start" >Qty 2 # 16</text>
<text x="508.6" y="766.6" font-size="8.2" fill="#8a8a8a" text-anchor="start" >Qty 2 # 22</text>
<g id="callouts-left">
<polyline points="213,25.6 200,25.6 169,66.5" stroke="#1c1c1c" stroke-width="1.27" fill="none"/>
<ellipse cx="220" cy="25.8" rx="6.8" ry="6.8" stroke="#1c1c1c" stroke-width="1.2" fill="#fff"/>
<text x="220" y="29.7" font-size="11.8" fill="#15161a" text-anchor="middle" >4</text>
<polyline points="213,104.4 200,104.4 154,133" stroke="#1c1c1c" stroke-width="1.27" fill="none"/>
<ellipse cx="220.4" cy="104.6" rx="6.8" ry="6.8" stroke="#1c1c1c" stroke-width="1.2" fill="#fff"/>
<text x="220.4" y="108.5" font-size="11.8" fill="#15161a" text-anchor="middle" >3</text>
<polyline points="209,137.2 195,137.2 143.5,190.8" stroke="#1c1c1c" stroke-width="1.27" fill="none"/>
<ellipse cx="217.3" cy="137.3" rx="8.9" ry="8.9" stroke="#1c1c1c" stroke-width="1.2" fill="#fff"/>
<text x="217.3" y="141.3" font-size="12" fill="#15161a" text-anchor="middle" letter-spacing="-0.4">20</text>
<polyline points="42,113.4 54,113.4 86.5,161" stroke="#1c1c1c" stroke-width="1.27" fill="none"/>
<ellipse cx="35.9" cy="113.6" rx="6.8" ry="6.8" stroke="#1c1c1c" stroke-width="1.2" fill="#fff"/>
<text x="35.9" y="117.5" font-size="11.8" fill="#15161a" text-anchor="middle" >1</text>
<polyline points="326,113.4 312.5,113.4 238,242" stroke="#1c1c1c" stroke-width="1.27" fill="none"/>
<ellipse cx="332.7" cy="113.6" rx="6.8" ry="6.8" stroke="#1c1c1c" stroke-width="1.2" fill="#fff"/>
<text x="332.7" y="117.5" font-size="11.8" fill="#15161a" text-anchor="middle" >2</text>
<polyline points="315,328.8 329.4,328.8 352.6,403.6" stroke="#1c1c1c" stroke-width="1.27" fill="none"/>
<ellipse cx="308.6" cy="329" rx="6.8" ry="6.8" stroke="#1c1c1c" stroke-width="1.2" fill="#fff"/>
<text x="308.6" y="332.9" font-size="11.8" fill="#15161a" text-anchor="middle" >7</text>
<polyline points="251,352.2 265,352.2 297.8,412.4" stroke="#1c1c1c" stroke-width="1.27" fill="none"/>
<ellipse cx="244.8" cy="352.4" rx="6.8" ry="6.8" stroke="#1c1c1c" stroke-width="1.2" fill="#fff"/>
<text x="244.8" y="356.3" font-size="11.8" fill="#15161a" text-anchor="middle" >8</text>
<polyline points="312,537.5 327.4,537.5 391.8,470.8" stroke="#1c1c1c" stroke-width="1.27" fill="none"/>
<ellipse cx="306" cy="537.7" rx="7" ry="7" stroke="#1c1c1c" stroke-width="1.2" fill="#fff"/>
<text x="306" y="541.5" font-size="11.6" fill="#15161a" text-anchor="middle" letter-spacing="-0.4">60</text>
<polyline points="314,577.2 321.8,577.2 391.8,531" stroke="#1c1c1c" stroke-width="1.27" fill="none"/>
<ellipse cx="308" cy="577.4" rx="6.8" ry="6.8" stroke="#1c1c1c" stroke-width="1.2" fill="#fff"/>
<text x="308" y="581.3" font-size="11.8" fill="#15161a" text-anchor="middle" >9</text>
<polyline points="497,418.2 511.4,418.2 508,479.2" stroke="#1c1c1c" stroke-width="1.27" fill="none"/>
<ellipse cx="489.2" cy="418.4" rx="8.9" ry="8.9" stroke="#1c1c1c" stroke-width="1.2" fill="#fff"/>
<text x="489.2" y="422.4" font-size="12" fill="#15161a" text-anchor="middle" letter-spacing="-0.4">19</text>
<polyline points="469,557.7 483.4,557.7 515,543" stroke="#1c1c1c" stroke-width="1.27" fill="none"/>
<ellipse cx="461.2" cy="557.9" rx="8.9" ry="8.9" stroke="#1c1c1c" stroke-width="1.2" fill="#fff"/>
<text x="461.2" y="561.9" font-size="12" fill="#15161a" text-anchor="middle" letter-spacing="-0.4">16</text>
<polyline points="577,298 592.4,298 611.4,383.4" stroke="#1c1c1c" stroke-width="1.27" fill="none"/>
<ellipse cx="569.4" cy="298.2" rx="8.9" ry="8.9" stroke="#1c1c1c" stroke-width="1.2" fill="#fff"/>
<text x="569.4" y="302.2" font-size="12" fill="#15161a" text-anchor="middle" letter-spacing="-0.4">10</text>
<polyline points="625,460.8 612,460.8 601,455 591.8,449.2" stroke="#1c1c1c" stroke-width="1.27" fill="none"/>
<ellipse cx="633.6" cy="461" rx="8.9" ry="8.9" stroke="#1c1c1c" stroke-width="1.2" fill="#fff"/>
<text x="633.6" y="465" font-size="12" fill="#15161a" text-anchor="middle" letter-spacing="-0.4">15</text>
<polyline points="634,517.1 620.4,517.1 593.8,539.6" stroke="#1c1c1c" stroke-width="1.27" fill="none"/>
<ellipse cx="642.4" cy="517.3" rx="8.9" ry="8.9" stroke="#1c1c1c" stroke-width="1.2" fill="#fff"/>
<text x="642.4" y="521.3" font-size="12" fill="#15161a" text-anchor="middle" letter-spacing="-0.4">17</text>
<polyline points="660,537.2 647,537.2 637.8,546.6" stroke="#1c1c1c" stroke-width="1.27" fill="none"/>
<ellipse cx="669.1" cy="537.4" rx="8.9" ry="8.9" stroke="#1c1c1c" stroke-width="1.2" fill="#fff"/>
<text x="669.1" y="541.4" font-size="12" fill="#15161a" text-anchor="middle" letter-spacing="-0.4">18</text>
<polyline points="462,594.2 476.2,594.2 532.2,555" stroke="#1c1c1c" stroke-width="1.27" fill="none"/>
<ellipse cx="454" cy="594.4" rx="8.9" ry="8.9" stroke="#1c1c1c" stroke-width="1.2" fill="#fff"/>
<text x="454" y="598.4" font-size="12" fill="#15161a" text-anchor="middle" letter-spacing="-0.4">22</text>
<polyline points="517,594.4 529.4,594.4 537.8,625" stroke="#1c1c1c" stroke-width="1.27" fill="none"/>
<ellipse cx="508.7" cy="594.6" rx="8.9" ry="8.9" stroke="#1c1c1c" stroke-width="1.2" fill="#fff"/>
<text x="508.7" y="598.6" font-size="12" fill="#15161a" text-anchor="middle" letter-spacing="-0.4">12</text>
<polyline points="516,726 503.5,726 373,769.8" stroke="#1c1c1c" stroke-width="1.27" fill="none"/>
<ellipse cx="524.5" cy="726.2" rx="8.9" ry="8.9" stroke="#1c1c1c" stroke-width="1.2" fill="#fff"/>
<text x="524.5" y="730.2" font-size="12" fill="#15161a" text-anchor="middle" letter-spacing="-0.4">23</text>
<polyline points="351,715.6 338.2,715.6 325.6,775.8" stroke="#1c1c1c" stroke-width="1.27" fill="none"/>
<ellipse cx="360" cy="715.8" rx="8.9" ry="8.9" stroke="#1c1c1c" stroke-width="1.2" fill="#fff"/>
<text x="360" y="719.8" font-size="12" fill="#15161a" text-anchor="middle" letter-spacing="-0.4">13</text>
<polyline points="216,817 230.4,817 257,774.4" stroke="#1c1c1c" stroke-width="1.27" fill="none"/>
<ellipse cx="207.6" cy="817.2" rx="8.9" ry="8.9" stroke="#1c1c1c" stroke-width="1.2" fill="#fff"/>
<text x="207.6" y="821.2" font-size="12" fill="#15161a" text-anchor="middle" letter-spacing="-0.4">14</text>
<polyline points="540,832 527.5,832 487,885.4" stroke="#1c1c1c" stroke-width="1.27" fill="none"/>
<ellipse cx="547.2" cy="832.2" rx="7" ry="7" stroke="#1c1c1c" stroke-width="1.2" fill="#fff"/>
<text x="547.2" y="836" font-size="11.6" fill="#15161a" text-anchor="middle" letter-spacing="-0.4">60</text>
<polyline points="665,831.1 652,831.1 562,888.4" stroke="#1c1c1c" stroke-width="1.27" fill="none"/>
<ellipse cx="672.3" cy="831.3" rx="6.8" ry="6.8" stroke="#1c1c1c" stroke-width="1.2" fill="#fff"/>
<text x="672.3" y="835.2" font-size="11.8" fill="#15161a" text-anchor="middle" >7</text>
<polyline points="686.5,889.6 673,889.6 580,938.5" stroke="#1c1c1c" stroke-width="1.27" fill="none"/>
<ellipse cx="693.6" cy="889.8" rx="6.8" ry="6.8" stroke="#1c1c1c" stroke-width="1.2" fill="#fff"/>
<text x="693.6" y="893.7" font-size="11.8" fill="#15161a" text-anchor="middle" >8</text>
<polyline points="314.5,958 328,958 418.6,908.5" stroke="#1c1c1c" stroke-width="1.27" fill="none"/>
<ellipse cx="307.8" cy="958.2" rx="6.8" ry="6.8" stroke="#1c1c1c" stroke-width="1.2" fill="#fff"/>
<text x="307.8" y="962.1" font-size="11.8" fill="#15161a" text-anchor="middle" >9</text>
</g>
<g filter="url(#soft)">
<g id="right-handles">
<ellipse cx="996" cy="231" rx="4.6" ry="3.4" stroke="#1c1c1c" stroke-width="1.04" fill="#fff"/>
<path d="M991.4 227.6 L992.6 232.5 L999.4 232.5 L1000.6 227.6" stroke="#1c1c1c" stroke-width="1.04" fill="#fff"/>
<ellipse cx="996" cy="227.4" rx="4.8" ry="2.3" stroke="#1c1c1c" stroke-width="1.17" fill="#fff"/>
<polyline points="992.8,233.6 999.2,233.6" stroke="#1c1c1c" stroke-width="1.17" fill="none"/>
<polyline points="993.4,235 998.6,235" stroke="#1c1c1c" stroke-width="1.17" fill="none"/>
<path d="M995.4 248.5 C994.8 250.4 993.9 255.1 992 260 C990.1 264.9 987.7 272 984 278 C980.3 284 974.1 291.6 970 296 C965.9 300.4 962 301.8 959.5 304.5 C957 307.2 955.6 308.8 955.2 312 C954.8 315.2 955.5 319.7 957 324 C958.5 328.3 962.6 333.7 964 338 C965.4 342.3 965.9 346.2 965.5 350 C965.1 353.8 962.2 358.8 961.5 360.5" stroke="#1c1c1c" stroke-width="7.4" fill="none" stroke-linecap="butt" stroke-linejoin="round"/>
<path d="M995.4 248.5 C994.8 250.4 993.9 255.1 992 260 C990.1 264.9 987.7 272 984 278 C980.3 284 974.1 291.6 970 296 C965.9 300.4 962 301.8 959.5 304.5 C957 307.2 955.6 308.8 955.2 312 C954.8 315.2 955.5 319.7 957 324 C958.5 328.3 962.6 333.7 964 338 C965.4 342.3 965.9 346.2 965.5 350 C965.1 353.8 962.2 358.8 961.5 360.5" stroke="#fff" stroke-width="5.8" fill="none" stroke-linecap="butt" stroke-linejoin="round"/>
<ellipse cx="995.5" cy="248.2" rx="3.5" ry="1.9" transform="rotate(12 995.5 248.2)" stroke="#1c1c1c" stroke-width="1.17" fill="#fff"/>
<ellipse cx="995.5" cy="248.2" rx="2.2" ry="1" transform="rotate(12 995.5 248.2)" stroke="#1c1c1c" stroke-width="0.78" fill="none"/>
<polyline points="965.8,295 971.5,300.5" stroke="#1c1c1c" stroke-width="1.04" fill="none"/>
<polyline points="957.6,303 962.5,308" stroke="#1c1c1c" stroke-width="1.56" fill="none"/>
<polyline points="954.5,318.5 961,316.5" stroke="#1c1c1c" stroke-width="1.04" fill="none"/>
<polyline points="959.5,333.5 966,331" stroke="#1c1c1c" stroke-width="1.04" fill="none"/>
<polyline points="957.8,359 964.8,361.8" stroke="#1c1c1c" stroke-width="1.04" fill="none"/>
<ellipse cx="961.3" cy="352.4" rx="0.6" ry="0.6" stroke="#1c1c1c" stroke-width="0.65" fill="#222"/>
<ellipse cx="960.3" cy="358" rx="0.6" ry="0.6" stroke="#1c1c1c" stroke-width="0.65" fill="#222"/>
<g transform="rotate(25 945.2 375.2)">
<rect x="940.9" y="371.5" width="8.6" height="7.4" rx="2" fill="#1e1e1e" stroke="#111" stroke-width="0.8"/>
<ellipse cx="948.3" cy="375.2" rx="1.8" ry="3.1" fill="#444" stroke="#000" stroke-width="0.8"/>
</g>
<ellipse cx="932.4" cy="368.4" rx="2.7" ry="3.2" transform="rotate(20 932.4 368.4)" stroke="#1c1c1c" stroke-width="1.95" fill="#333"/>
<path d="M965.4 368.5 L960.5 382" stroke="#1c1c1c" stroke-width="7" fill="none" stroke-linecap="butt" stroke-linejoin="round"/>
<path d="M965.4 368.5 L960.5 382" stroke="#fff" stroke-width="5.4" fill="none" stroke-linecap="butt" stroke-linejoin="round"/>
<ellipse cx="965.6" cy="368" rx="3.3" ry="1.7" transform="rotate(15 965.6 368)" stroke="#1c1c1c" stroke-width="1.17" fill="#fff"/>
<ellipse cx="961.8" cy="372.5" rx="0.5" ry="0.5" stroke="#1c1c1c" stroke-width="0.65" fill="#222"/>
<ellipse cx="960.4" cy="377" rx="0.5" ry="0.5" stroke="#1c1c1c" stroke-width="0.65" fill="#222"/>
<path d="M953 379.6 L965 384.8" stroke="#1c1c1c" stroke-width="5.8" fill="none" stroke-linecap="butt" stroke-linejoin="round"/>
<path d="M953 379.6 L965 384.8" stroke="#fff" stroke-width="4.2" fill="none" stroke-linecap="butt" stroke-linejoin="round"/>
<ellipse cx="965.6" cy="385" rx="1.9" ry="2.7" transform="rotate(20 965.6 385)" stroke="#1c1c1c" stroke-width="1.17" fill="#fff"/>
<ellipse cx="965.6" cy="385" rx="1" ry="1.6" transform="rotate(20 965.6 385)" stroke="#1c1c1c" stroke-width="0.91" fill="none"/>
<ellipse cx="953" cy="379.6" rx="1.8" ry="2.6" transform="rotate(20 953 379.6)" stroke="#1c1c1c" stroke-width="1.04" fill="#fff"/>
<path d="M957.5 386.5 C956.9 388.1 955.9 392.7 954 396 C952.1 399.3 949.7 403.8 946 406.5 C942.3 409.2 935.5 410.2 932 412.5 C928.5 414.8 926.9 416.1 925 420 C923.1 423.9 921.5 430.3 920.5 436 C919.5 441.7 919.2 447.7 919.2 454 C919.2 460.3 920.4 470.7 920.6 474" stroke="#1c1c1c" stroke-width="6.4" fill="none" stroke-linecap="butt" stroke-linejoin="round"/>
<path d="M957.5 386.5 C956.9 388.1 955.9 392.7 954 396 C952.1 399.3 949.7 403.8 946 406.5 C942.3 409.2 935.5 410.2 932 412.5 C928.5 414.8 926.9 416.1 925 420 C923.1 423.9 921.5 430.3 920.5 436 C919.5 441.7 919.2 447.7 919.2 454 C919.2 460.3 920.4 470.7 920.6 474" stroke="#fff" stroke-width="4.8" fill="none" stroke-linecap="butt" stroke-linejoin="round"/>
<polyline points="929.5,410 932.5,416" stroke="#1c1c1c" stroke-width="1.04" fill="none"/>
<polyline points="935.5,408 938,413.5" stroke="#1c1c1c" stroke-width="1.04" fill="none"/>
<polyline points="921.5,421 927.5,424" stroke="#1c1c1c" stroke-width="1.04" fill="none"/>
<polyline points="917.5,432 923.8,433.5" stroke="#1c1c1c" stroke-width="1.04" fill="none"/>
<polyline points="916.2,451 922.5,451" stroke="#1c1c1c" stroke-width="1.04" fill="none"/>
<path d="M914.5 474.5 L927.5 473.5 L929.5 478.5 L926.5 484 L923 484 L922 478.5 L919.5 478.5 L919 482.5 L915.5 482 Z" stroke="#1c1c1c" stroke-width="1.17" fill="#fff"/>
<ellipse cx="925.2" cy="480.6" rx="1.1" ry="1.1" stroke="#1c1c1c" stroke-width="1.04" fill="none"/>
<ellipse cx="917.2" cy="479.6" rx="0.9" ry="0.9" stroke="#1c1c1c" stroke-width="1.04" fill="none"/>
<path d="M936.3 487.3 L944.5 491.4" stroke="#1c1c1c" stroke-width="3.6" fill="none" stroke-linecap="butt" stroke-linejoin="round"/>
<path d="M936.3 487.3 L944.5 491.4" stroke="#fff" stroke-width="2" fill="none" stroke-linecap="butt" stroke-linejoin="round"/>
<ellipse cx="944.8" cy="491.5" rx="1" ry="1.7" transform="rotate(25 944.8 491.5)" stroke="#1c1c1c" stroke-width="1.04" fill="#fff"/>
</g>
<g id="right-mid-top">
<ellipse cx="1088" cy="377.5" rx="33.6" ry="70.3" transform="rotate(18.6 1088 377.5)" stroke="#1c1c1c" stroke-width="1.04" fill="none" stroke-dasharray="11 3 2.5 3"/>
<path d="M1071 376.4 L1082.4 381.6" stroke="#1c1c1c" stroke-width="9.4" fill="none" stroke-linecap="butt" stroke-linejoin="round"/>
<path d="M1071 376.4 L1082.4 381.6" stroke="#fff" stroke-width="7.8" fill="none" stroke-linecap="butt" stroke-linejoin="round"/>
<ellipse cx="1070.6" cy="376.2" rx="2.2" ry="4.3" transform="rotate(25 1070.6 376.2)" stroke="#1c1c1c" stroke-width="1.04" fill="#fff"/>
<polygon points="1097,314.6 1110,319.6 1087.4,416.4 1084.4,421.2 1073,422.4 1071,418.4" stroke="#1c1c1c" stroke-width="1.17" fill="#fff"/>
<polyline points="1100.4,316 1074.4,421" stroke="#1c1c1c" stroke-width="1.04" fill="none"/>
<polyline points="1104.4,318 1079.2,421.6" stroke="#1c1c1c" stroke-width="0.78" fill="none"/>
<polyline points="1107.6,319.2 1084.4,418" stroke="#1c1c1c" stroke-width="1.56" fill="none"/>
<polyline points="1097,314.6 1099,313.6 1110,318" stroke="#1c1c1c" stroke-width="0.91" fill="none"/>
<ellipse cx="1097.6" cy="320" rx="0.3" ry="0.3" stroke="#1c1c1c" stroke-width="0.39" fill="#222"/>
<ellipse cx="1096.4" cy="324.6" rx="0.3" ry="0.3" stroke="#1c1c1c" stroke-width="0.39" fill="#222"/>
<ellipse cx="1095.2" cy="329.1" rx="0.3" ry="0.3" stroke="#1c1c1c" stroke-width="0.39" fill="#222"/>
<ellipse cx="1094" cy="333.7" rx="0.3" ry="0.3" stroke="#1c1c1c" stroke-width="0.39" fill="#222"/>
<ellipse cx="1092.8" cy="338.3" rx="0.3" ry="0.3" stroke="#1c1c1c" stroke-width="0.39" fill="#222"/>
<ellipse cx="1091.6" cy="342.9" rx="0.3" ry="0.3" stroke="#1c1c1c" stroke-width="0.39" fill="#222"/>
<ellipse cx="1090.5" cy="347.4" rx="0.3" ry="0.3" stroke="#1c1c1c" stroke-width="0.39" fill="#222"/>
<ellipse cx="1089.3" cy="352" rx="0.3" ry="0.3" stroke="#1c1c1c" stroke-width="0.39" fill="#222"/>
<ellipse cx="1088.1" cy="356.6" rx="0.3" ry="0.3" stroke="#1c1c1c" stroke-width="0.39" fill="#222"/>
<ellipse cx="1086.9" cy="361.1" rx="0.3" ry="0.3" stroke="#1c1c1c" stroke-width="0.39" fill="#222"/>
<ellipse cx="1085.7" cy="365.7" rx="0.3" ry="0.3" stroke="#1c1c1c" stroke-width="0.39" fill="#222"/>
<ellipse cx="1084.5" cy="370.3" rx="0.3" ry="0.3" stroke="#1c1c1c" stroke-width="0.39" fill="#222"/>
<ellipse cx="1083.3" cy="374.9" rx="0.3" ry="0.3" stroke="#1c1c1c" stroke-width="0.39" fill="#222"/>
<ellipse cx="1082.1" cy="379.4" rx="0.3" ry="0.3" stroke="#1c1c1c" stroke-width="0.39" fill="#222"/>
<ellipse cx="1080.9" cy="384" rx="0.3" ry="0.3" stroke="#1c1c1c" stroke-width="0.39" fill="#222"/>
<ellipse cx="1079.7" cy="388.6" rx="0.3" ry="0.3" stroke="#1c1c1c" stroke-width="0.39" fill="#222"/>
<ellipse cx="1078.6" cy="393.1" rx="0.3" ry="0.3" stroke="#1c1c1c" stroke-width="0.39" fill="#222"/>
<ellipse cx="1077.4" cy="397.7" rx="0.3" ry="0.3" stroke="#1c1c1c" stroke-width="0.39" fill="#222"/>
<ellipse cx="1076.2" cy="402.3" rx="0.3" ry="0.3" stroke="#1c1c1c" stroke-width="0.39" fill="#222"/>
<ellipse cx="1075" cy="406.9" rx="0.3" ry="0.3" stroke="#1c1c1c" stroke-width="0.39" fill="#222"/>
<ellipse cx="1073.8" cy="411.4" rx="0.3" ry="0.3" stroke="#1c1c1c" stroke-width="0.39" fill="#222"/>
<ellipse cx="1072.6" cy="416" rx="0.3" ry="0.3" stroke="#1c1c1c" stroke-width="0.39" fill="#222"/>
<ellipse cx="1104.4" cy="320" rx="0.8" ry="0.8" stroke="#1c1c1c" stroke-width="0.65" fill="#222"/>
<ellipse cx="1105.6" cy="325" rx="0.8" ry="0.8" stroke="#1c1c1c" stroke-width="0.65" fill="#222"/>
<ellipse cx="1083.6" cy="409" rx="0.8" ry="0.8" stroke="#1c1c1c" stroke-width="0.65" fill="#222"/>
<ellipse cx="1082.4" cy="418" rx="0.8" ry="0.8" stroke="#1c1c1c" stroke-width="0.65" fill="#222"/>
<ellipse cx="1073" cy="419" rx="0.8" ry="0.8" stroke="#1c1c1c" stroke-width="0.65" fill="#222"/>
<path d="M1090 384.4 L1103.6 390" stroke="#1c1c1c" stroke-width="9.4" fill="none" stroke-linecap="butt" stroke-linejoin="round"/>
<path d="M1090 384.4 L1103.6 390" stroke="#fff" stroke-width="7.8" fill="none" stroke-linecap="butt" stroke-linejoin="round"/>
<ellipse cx="1103.4" cy="390" rx="2.6" ry="4.4" transform="rotate(25 1103.4 390)" stroke="#1c1c1c" stroke-width="1.17" fill="#fff"/>
<ellipse cx="1103.4" cy="390" rx="1.6" ry="3" transform="rotate(25 1103.4 390)" stroke="#1c1c1c" stroke-width="1.56" fill="#555"/>
<g transform="rotate(25 1062.3 370.2)">
<rect x="1058.1" y="366.6" width="8.4" height="7.2" rx="2" fill="#1e1e1e" stroke="#111" stroke-width="0.8"/>
<ellipse cx="1065.3" cy="370.2" rx="1.8" ry="3" fill="#444" stroke="#000" stroke-width="0.8"/>
</g>
<polyline points="1077.6,422.4 1075.6,429.6" stroke="#1c1c1c" stroke-width="1.04" fill="none"/>
<polygon points="1073,430.4 1076.4,429 1077.2,432.4 1074.8,433.6" stroke="#1c1c1c" stroke-width="1.04" fill="#555"/>
<path d="M1140 408.4 L1192.8 433.6" stroke="#1c1c1c" stroke-width="3.4" fill="none" stroke-linecap="butt" stroke-linejoin="round"/>
<path d="M1140 408.4 L1192.8 433.6" stroke="#fff" stroke-width="1.8" fill="none" stroke-linecap="butt" stroke-linejoin="round"/>
<ellipse cx="1192.8" cy="433.6" rx="0.9" ry="1.6" transform="rotate(25 1192.8 433.6)" stroke="#1c1c1c" stroke-width="0.91" fill="#fff"/>
<path d="M1139.8 342.2 C1140.8 341.5 1142.3 342.1 1142.8 343.1 C1143.3 344.1 1143.5 347.6 1143.5 349.6 C1143.5 351.6 1143 356.2 1142.8 358 C1142.6 359.8 1142.7 362.1 1142.3 363 C1142 364 1141.3 365.3 1140.2 365.4 C1139 365.6 1134.6 364.8 1133.4 364.2 C1132.3 363.7 1131.3 362.9 1131.3 361.6 C1131.2 360.3 1132.6 356.4 1133.2 354.6 C1133.8 352.9 1134.7 350.1 1135.6 348.4 C1136.5 346.7 1138.8 342.9 1139.8 342.2Z" stroke="#1c1c1c" stroke-width="1.30" fill="#fff"/>
<path d="M1139.8 342.2 C1139.5 342.8 1138.5 344.2 1138 346 C1137.5 347.8 1137.1 350.2 1136.8 353.2 C1136.5 356.2 1136.3 362.2 1136.2 364" stroke="#1c1c1c" stroke-width="1.04" fill="none"/>
<polyline points="1135.4,348.6 1143,350.6" stroke="#1c1c1c" stroke-width="1.43" fill="none"/>
<polyline points="1134.6,351.8 1142.9,353.4" stroke="#1c1c1c" stroke-width="1.43" fill="none"/>
<polyline points="1133.9,354.9 1142.8,356.3" stroke="#1c1c1c" stroke-width="1.43" fill="none"/>
<polyline points="1133.2,358 1142.7,359.2" stroke="#1c1c1c" stroke-width="1.43" fill="none"/>
<polyline points="1132.5,361.1 1142.6,362.1" stroke="#1c1c1c" stroke-width="1.43" fill="none"/>
<polyline points="1138,347.8 1139.2,352" stroke="#1c1c1c" stroke-width="1.17" fill="none"/>
<polyline points="1137.4,351.4 1138.5,355.4" stroke="#1c1c1c" stroke-width="1.17" fill="none"/>
<polyline points="1136.8,355 1137.8,358.7" stroke="#1c1c1c" stroke-width="1.17" fill="none"/>
<polyline points="1136.2,358.6 1137,362.1" stroke="#1c1c1c" stroke-width="1.17" fill="none"/>
<path d="M1140.2 344.8 C1140.4 345.2 1141.5 346.4 1141.8 347.2 C1142.2 348 1142.2 349.2 1142.3 349.6" stroke="#1c1c1c" stroke-width="2.08" fill="none"/>
<polygon points="1158,334.8 1154.4,350.4 1158.6,352.8 1164,344.4 1165.8,341.4 1176,339.6 1177,336 1172.6,337.8 1171.8,334.8 1167.8,333 1162.2,333" stroke="#1c1c1c" stroke-width="1.17" fill="#fff"/>
<polyline points="1158,334.8 1162.2,337.2 1158.6,352.8" stroke="#1c1c1c" stroke-width="1.04" fill="none"/>
<path d="M1162.2 337.2 C1162.8 337 1164.2 336.2 1165.8 335.8 C1167.4 335.4 1170.8 335 1171.8 334.8" stroke="#1c1c1c" stroke-width="1.04" fill="none"/>
<path d="M1159.2 334.8 C1160 334.6 1162.1 333.7 1164 333.8 C1165.9 333.9 1169.5 335.1 1170.6 335.4" stroke="#1c1c1c" stroke-width="0.78" fill="none"/>
<polyline points="1160.6,339 1158,349.8" stroke="#1c1c1c" stroke-width="0.78" fill="none"/>
<polyline points="1165.8,341.4 1168.8,342" stroke="#1c1c1c" stroke-width="0.78" fill="none"/>
<path d="M1184.5 182.7 C1184.7 181.9 1184.7 180.5 1186.8 181 C1188.9 181.5 1195.8 184.6 1200 186.4 C1204.2 188.3 1213.8 192.5 1218 194.7 C1222.2 196.9 1229.1 201.5 1231.5 203.2 C1233.9 205 1236 206.7 1236.3 207.7 C1236.6 208.7 1234.8 210.4 1233.7 210.7 C1232.7 211 1231.4 211.2 1228.5 210 C1225.6 208.8 1216.2 203.9 1212 201.7 C1207.8 199.6 1200.6 195.7 1197 193.8 C1193.4 191.9 1187 188.7 1185.3 187.2 C1183.6 185.7 1184.3 183.5 1184.5 182.7Z" stroke="#1c1c1c" stroke-width="1.17" fill="#fff"/>
<path d="M1186.8 181.2 C1189 182.1 1194.8 184.3 1200 186.6 C1205.2 188.9 1212.7 192 1218 194.8 C1223.3 197.6 1228.8 201.3 1231.8 203.4 C1234.8 205.5 1235.3 206.8 1236 207.4" stroke="#1c1c1c" stroke-width="2.60" fill="none"/>
<path d="M1185.7 184.8 C1188.1 185.9 1195.1 188.8 1200 191.2 C1204.9 193.6 1210 196.4 1215 199.2 C1220 201.9 1227.5 206.3 1230 207.7" stroke="#1c1c1c" stroke-width="0.91" fill="none"/>
<path d="M1210.5 195 C1212.2 195.6 1217.4 196.9 1221 198.7 C1224.6 200.6 1230.4 205 1232.2 206.2" stroke="#1c1c1c" stroke-width="0.91" fill="none"/>
<ellipse cx="1212.7" cy="197.7" rx="0.7" ry="0.7" stroke="#1c1c1c" stroke-width="0.78" fill="none"/>
<polyline points="1156.8,264.6 1192.8,280.8" stroke="#1c1c1c" stroke-width="1.56" fill="none"/>
<polyline points="1158,266.6 1179.6,276.6" stroke="#1c1c1c" stroke-width="0.91" fill="none"/>
<polygon points="1175.4,264.6 1180.2,262.2 1188,265.8 1191,271.8 1192.8,276 1188.6,276 1185.6,274.8 1180.2,271.8 1176,268.8" stroke="#1c1c1c" stroke-width="1.17" fill="#fff"/>
<polygon points="1180.8,262.6 1182.2,261.8 1189.4,265.4 1188.2,266.4" stroke="#1c1c1c" stroke-width="1.04" fill="#777"/>
<polyline points="1180.2,267 1187.4,270.6 1190.4,271.8" stroke="#1c1c1c" stroke-width="0.91" fill="none"/>
<polyline points="1180.2,267 1180.2,271.8" stroke="#1c1c1c" stroke-width="0.91" fill="none"/>
<path d="M1159.8 273 C1160.1 272 1161.3 270.8 1162.2 270.6 C1163.1 270.4 1164.7 270.8 1165.8 271.4 C1166.9 272.1 1168.8 273.6 1169.4 274.8 C1170 276 1170.2 278.5 1170 279.6 C1169.8 280.7 1169.1 282.2 1168.2 282.2 C1167.3 282.3 1165.2 281 1164 280.2 C1162.8 279.4 1161 278.3 1160.4 277.2 C1159.8 276.1 1159.5 274 1159.8 273Z" stroke="#1c1c1c" stroke-width="1.17" fill="#fff"/>
<ellipse cx="1165.8" cy="276" rx="0.8" ry="0.8" stroke="#1c1c1c" stroke-width="0.78" fill="none"/>
<path d="M1161.6 272.4 C1161.9 272.8 1163.2 273.8 1163.4 274.8 C1163.6 275.8 1163.1 277.6 1163 278.2" stroke="#1c1c1c" stroke-width="0.91" fill="none"/>
<polygon points="1181.4,281.4 1194.2,284.2 1212,293.4 1213.8,296.4 1212,299.8 1208.4,300.2 1178.4,285.6" stroke="#1c1c1c" stroke-width="1.17" fill="#fff"/>
<polygon points="1170,274.8 1181.4,281.4 1178.4,285.6 1168.8,282" stroke="#1c1c1c" stroke-width="1.17" fill="#fff"/>
<polyline points="1176,278.4 1173.6,284.2" stroke="#1c1c1c" stroke-width="0.91" fill="none"/>
<polyline points="1182.2,282 1179.6,286.2" stroke="#1c1c1c" stroke-width="0.91" fill="none"/>
<polyline points="1185.6,283.4 1183,287.8" stroke="#1c1c1c" stroke-width="0.91" fill="none"/>
<path d="M1194.2 284.2 C1195.2 284.9 1197.8 287.4 1200 288.6 C1202.2 289.8 1205.3 290.9 1207.2 291.6 C1209.1 292.3 1210.7 292.6 1211.4 292.8" stroke="#1c1c1c" stroke-width="3.12" fill="none"/>
<path d="M1196.4 287.4 C1197.4 287.9 1200.1 289.3 1202.4 290.4 C1204.7 291.5 1208.9 293.6 1210.2 294.2" stroke="#1c1c1c" stroke-width="1.30" fill="none"/>
<polyline points="1210.2,294.2 1207.4,299.8" stroke="#1c1c1c" stroke-width="0.91" fill="none"/>
<ellipse cx="1211.6" cy="296.9" rx="2" ry="3.2" transform="rotate(25 1211.6 296.9)" stroke="#1c1c1c" stroke-width="1.04" fill="none"/>
<polygon points="1188,276 1192.8,276 1195.4,279.6 1194,281.8 1190.4,280.2" stroke="#1c1c1c" stroke-width="1.17" fill="#fff"/>
</g>
<g id="right-top-right">
<polygon points="1382.3,227.6 1389.5,223.5 1397.2,226.7 1397.2,232.1 1389.7,236.4 1382.3,233" stroke="#1c1c1c" stroke-width="1.17" fill="#fff"/>
<polyline points="1382.3,227.6 1390.4,230.8 1397.2,226.7" stroke="#1c1c1c" stroke-width="1.04" fill="none"/>
<polyline points="1390.4,230.8 1389.7,236.4" stroke="#1c1c1c" stroke-width="1.04" fill="none"/>
<polyline points="1397.2,228 1400.8,228" stroke="#1c1c1c" stroke-width="1.04" fill="none"/>
<ellipse cx="1401.2" cy="228.1" rx="0.9" ry="0.9" stroke="#1c1c1c" stroke-width="0.65" fill="#222"/>
<polyline points="1387.2,236.2 1388.6,237.3" stroke="#1c1c1c" stroke-width="1.04" fill="none"/>
<polygon points="1369.3,258.2 1400.3,243.4 1404.3,244.7 1405.2,283.4 1373.3,298.7 1369.3,296.9" stroke="#1c1c1c" stroke-width="1.17" fill="#fff"/>
<polygon points="1369.3,258.2 1400.3,243.4 1404.3,244.7 1373.3,260" stroke="#1c1c1c" stroke-width="1.04" fill="#333"/>
<polygon points="1369.3,258.2 1373.3,260 1373.3,298.7 1369.3,296.9" stroke="#1c1c1c" stroke-width="1.04" fill="#333"/>
<polyline points="1378.7,264 1400.3,253.9" stroke="#1c1c1c" stroke-width="3.12" fill="none"/>
<polyline points="1377.8,266.3 1399.4,256.4" stroke="#1c1c1c" stroke-width="1.56" fill="none"/>
<polyline points="1383.2,259.6 1397.6,252.8" stroke="#1c1c1c" stroke-width="1.04" fill="none"/>
<polygon points="1434.5,206 1475.9,186.2 1475.9,215.9 1434.5,233.9" stroke="#1c1c1c" stroke-width="1.30" fill="#fff"/>
<polygon points="1434.5,237.5 1475.9,217.7 1475.9,245.6 1434.5,265.4" stroke="#1c1c1c" stroke-width="1.30" fill="#fff"/>
<polyline points="1436.3,206.9 1474.6,188.4" stroke="#1c1c1c" stroke-width="0.78" fill="none"/>
<polyline points="1436.3,238.8 1474.6,220" stroke="#1c1c1c" stroke-width="0.78" fill="none"/>
<polyline points="1440.8,207.8 1473.2,192.5" stroke="#1c1c1c" stroke-width="2.86" fill="none" stroke-dasharray="1.3 0.7"/>
<polyline points="1439.9,211.8 1473.2,196.6" stroke="#1c1c1c" stroke-width="2.86" fill="none" stroke-dasharray="1.0 0.6"/>
<polyline points="1439,215 1451.6,209.2" stroke="#1c1c1c" stroke-width="2.08" fill="none" stroke-dasharray="1.4 0.8"/>
<ellipse cx="1441.7" cy="220.4" rx="2.6" ry="3" stroke="#1c1c1c" stroke-width="1.17" fill="none"/>
<ellipse cx="1448" cy="217.2" rx="2.6" ry="3" stroke="#1c1c1c" stroke-width="1.17" fill="none"/>
<ellipse cx="1441.7" cy="226.2" rx="2.6" ry="3" stroke="#1c1c1c" stroke-width="1.17" fill="none"/>
<ellipse cx="1448" cy="223.1" rx="2.6" ry="3" stroke="#1c1c1c" stroke-width="1.17" fill="none"/>
<polyline points="1456.6,213.2 1456.6,219.5" stroke="#1c1c1c" stroke-width="2.08" fill="none"/>
<polyline points="1458.8,212.3 1458.8,218.2" stroke="#1c1c1c" stroke-width="2.08" fill="none"/>
<polyline points="1463.3,210 1465.1,214.6" stroke="#1c1c1c" stroke-width="2.60" fill="none"/>
<polygon points="1469.6,206.9 1474.1,205.6 1473.5,213.2 1468.7,214.1" stroke="#1c1c1c" stroke-width="1.04" fill="#444"/>
<polyline points="1439,241.1 1472.3,224.9" stroke="#1c1c1c" stroke-width="3.38" fill="none" stroke-dasharray="1.2 0.6"/>
<polyline points="1439,243.8 1466,230.8" stroke="#1c1c1c" stroke-width="2.08" fill="none" stroke-dasharray="0.9 0.6"/>
<polyline points="1446.2,246.5 1455.2,242.4" stroke="#1c1c1c" stroke-width="2.60" fill="none"/>
<polyline points="1457.9,245.6 1474.1,238.4" stroke="#1c1c1c" stroke-width="2.08" fill="none"/>
<polyline points="1457.9,247.8 1474.1,240.6" stroke="#1c1c1c" stroke-width="1.04" fill="none"/>
<path d="M1464.2 237.5 C1465.2 237 1469.1 235.8 1470.5 234.8 C1471.8 233.7 1472 231.8 1472.3 231.2" stroke="#1c1c1c" stroke-width="2.08" fill="none"/>
<ellipse cx="1442.6" cy="248.3" rx="1.4" ry="1.4" stroke="#1c1c1c" stroke-width="1.04" fill="#222"/>
<ellipse cx="1446.2" cy="253.2" rx="2.8" ry="1.6" transform="rotate(-25 1446.2 253.2)" stroke="#1c1c1c" stroke-width="1.56" fill="none"/>
<ellipse cx="1458.8" cy="247.8" rx="1.8" ry="1.8" stroke="#1c1c1c" stroke-width="1.30" fill="none"/>
<polyline points="1474.1,239.3 1476.8,241.1" stroke="#1c1c1c" stroke-width="2.08" fill="none"/>
<polygon points="1478.9,202 1487.9,198.4 1489.7,200.2 1489.7,203.8 1480.7,207.4 1478.9,205.6" stroke="#1c1c1c" stroke-width="1.17" fill="#fff"/>
<polyline points="1478.9,202 1480.7,203.8 1489.7,200.2" stroke="#1c1c1c" stroke-width="0.91" fill="none"/>
<polyline points="1480.7,203.8 1480.7,207.4" stroke="#1c1c1c" stroke-width="0.91" fill="none"/>
<polyline points="1479.5,203.3 1488.5,199.7" stroke="#1c1c1c" stroke-width="2.34" fill="none"/>
<polygon points="1320.7,495.2 1453.9,429 1463.4,433.6 1463.4,438.7 1329.7,504.7 1320.7,499.9" stroke="#1c1c1c" stroke-width="1.17" fill="#fff"/>
<polyline points="1320.7,495.2 1329.7,499.9 1463.4,433.6" stroke="#1c1c1c" stroke-width="1.04" fill="none"/>
<polyline points="1329.7,499.9 1329.7,504.7" stroke="#1c1c1c" stroke-width="1.04" fill="none"/>
<polyline points="1324.3,496.6 1456.2,431.1" stroke="#1c1c1c" stroke-width="2.08" fill="none"/>
<polyline points="1327,498.3 1458.4,432.6" stroke="#1c1c1c" stroke-width="0.78" fill="none"/>
<polyline points="1340.5,497.4 1453,441.6" stroke="#1c1c1c" stroke-width="0.78" fill="none"/>
<polyline points="1322.5,497 1322.5,500.2 1328.4,503.3 1328.4,501" stroke="#1c1c1c" stroke-width="0.91" fill="none"/>
<polygon points="1450.8,432.2 1454.4,430.8 1456.9,432.2 1453.3,434" stroke="#1c1c1c" stroke-width="0.78" fill="none"/>
<polygon points="1362.1,515.3 1495.3,449.1 1504.8,453.8 1504.8,458.8 1371.1,524.9 1362.1,520" stroke="#1c1c1c" stroke-width="1.17" fill="#fff"/>
<polyline points="1362.1,515.3 1371.1,520 1504.8,453.8" stroke="#1c1c1c" stroke-width="1.04" fill="none"/>
<polyline points="1371.1,520 1371.1,524.9" stroke="#1c1c1c" stroke-width="1.04" fill="none"/>
<polyline points="1365.7,516.8 1497.6,451.3" stroke="#1c1c1c" stroke-width="2.08" fill="none"/>
<polyline points="1368.4,518.4 1499.8,452.7" stroke="#1c1c1c" stroke-width="0.78" fill="none"/>
<polyline points="1381.9,517.5 1494.4,461.7" stroke="#1c1c1c" stroke-width="0.78" fill="none"/>
<polyline points="1363.9,517.1 1363.9,520.4 1369.8,523.4 1369.8,521.1" stroke="#1c1c1c" stroke-width="0.91" fill="none"/>
<polygon points="1492.2,452.4 1495.8,450.9 1498.3,452.4 1494.7,454.2" stroke="#1c1c1c" stroke-width="0.78" fill="none"/>
<polygon points="1468.5,421.4 1473.3,417.8 1484.5,424.1 1484.5,426.1 1479.7,428.8 1468.5,424.6" stroke="#1c1c1c" stroke-width="1.17" fill="#3a3a3a"/>
<polyline points="1473.3,417.8 1479.7,423.5 1484.5,424.1" stroke="#eee" stroke-width="0.78" fill="none"/>
<polyline points="1473.6,422.5 1478.4,426.1" stroke="#ddd" stroke-width="1.17" fill="none"/>
<polyline points="1470.4,423 1475.7,426.8" stroke="#bbb" stroke-width="0.78" fill="none"/>
<polygon points="1507.5,439.9 1512.6,436 1524.5,442.6 1524.5,444.8 1519.4,447.6 1507.5,443.1" stroke="#1c1c1c" stroke-width="1.17" fill="#3a3a3a"/>
<polyline points="1512.6,436 1519.4,442.1 1524.5,442.6" stroke="#eee" stroke-width="0.78" fill="none"/>
<polyline points="1512.9,440.9 1518,444.8" stroke="#ddd" stroke-width="1.17" fill="none"/>
<polyline points="1509.5,441.5 1515.2,445.5" stroke="#bbb" stroke-width="0.78" fill="none"/>
<polygon points="1480,520.7 1485.7,517.7 1491.1,519.5 1495.3,517.7 1498.3,519.5 1490.8,525.1 1487.2,524" stroke="#1c1c1c" stroke-width="1.17" fill="#fff"/>
<path d="M1491.7 522.5 L1522.3 536.9" stroke="#1c1c1c" stroke-width="5.2" fill="none" stroke-linecap="butt" stroke-linejoin="round"/>
<path d="M1491.7 522.5 L1522.3 536.9" stroke="#fff" stroke-width="3.6" fill="none" stroke-linecap="butt" stroke-linejoin="round"/>
<polygon points="1519.9,538.4 1523.2,533.3 1527.1,532.6 1528.6,536.2 1534,542.9 1528.9,545.6 1523.2,542.3" stroke="#1c1c1c" stroke-width="1.17" fill="#fff"/>
<ellipse cx="1485.4" cy="521.8" rx="0.8" ry="0.8" stroke="#1c1c1c" stroke-width="0.78" fill="none"/>
<ellipse cx="1528.2" cy="542.3" rx="0.8" ry="0.8" stroke="#1c1c1c" stroke-width="0.78" fill="none"/>
<ellipse cx="1486.3" cy="532.1" rx="2.6" ry="1.6" stroke="#1c1c1c" stroke-width="1.56" fill="none"/>
<ellipse cx="1486.3" cy="532.1" rx="1" ry="0.6" stroke="#1c1c1c" stroke-width="0.78" fill="none"/>
<polyline points="1486.3,536.9 1486.3,541.6" stroke="#1c1c1c" stroke-width="2.08" fill="none"/>
<ellipse cx="1486.3" cy="542.3" rx="2.8" ry="1.2" stroke="#1c1c1c" stroke-width="1.30" fill="#555"/>
<ellipse cx="1494.4" cy="548.8" rx="0.5" ry="0.5" stroke="#1c1c1c" stroke-width="0.52" fill="#222"/>
<path d="M1264.2 358.1 C1264.6 361.2 1267 369.8 1266.6 376.8 C1266.1 383.8 1264 393.1 1261.4 400.2 C1258.8 407.4 1255 414.9 1251 419.7 C1246.9 424.5 1240.6 426 1236.9 428.8 C1233.3 431.6 1230.5 433.2 1229.1 436.6 C1227.7 440 1228.7 447 1228.6 449.1" stroke="#1c1c1c" stroke-width="7.2" fill="none" stroke-linecap="butt" stroke-linejoin="round"/>
<path d="M1264.2 358.1 C1264.6 361.2 1267 369.8 1266.6 376.8 C1266.1 383.8 1264 393.1 1261.4 400.2 C1258.8 407.4 1255 414.9 1251 419.7 C1246.9 424.5 1240.6 426 1236.9 428.8 C1233.3 431.6 1230.5 433.2 1229.1 436.6 C1227.7 440 1228.7 447 1228.6 449.1" stroke="#fff" stroke-width="5.6" fill="none" stroke-linecap="butt" stroke-linejoin="round"/>
<ellipse cx="1264.2" cy="357" rx="4.4" ry="3" stroke="#1c1c1c" stroke-width="1.17" fill="#fff"/>
<ellipse cx="1264.2" cy="359.1" rx="4.2" ry="2.4" stroke="#1c1c1c" stroke-width="1.04" fill="none"/>
<path d="M1259.8 357 L1260.1 359.6" stroke="#1c1c1c" stroke-width="1.04" fill="none"/>
<path d="M1268.6 357 L1268.4 359.6" stroke="#1c1c1c" stroke-width="1.04" fill="none"/>
<polyline points="1252.5,408 1258.8,411.1" stroke="#1c1c1c" stroke-width="1.04" fill="none"/>
<polyline points="1246.8,417.9 1251.5,423.1" stroke="#1c1c1c" stroke-width="1.04" fill="none"/>
<polyline points="1239,424.9 1242.1,430.1" stroke="#1c1c1c" stroke-width="1.04" fill="none"/>
<ellipse cx="1227.3" cy="443.1" rx="0.5" ry="0.5" stroke="#1c1c1c" stroke-width="0.65" fill="#222"/>
<ellipse cx="1227.3" cy="448.3" rx="0.5" ry="0.5" stroke="#1c1c1c" stroke-width="0.65" fill="#222"/>
<ellipse cx="1228.6" cy="449.6" rx="3.3" ry="1.6" stroke="#1c1c1c" stroke-width="1.04" fill="none"/>
<path d="M1227.6 460.8 L1227.6 475.6" stroke="#1c1c1c" stroke-width="7.4" fill="none" stroke-linecap="butt" stroke-linejoin="round"/>
<path d="M1227.6 460.8 L1227.6 475.6" stroke="#fff" stroke-width="5.8" fill="none" stroke-linecap="butt" stroke-linejoin="round"/>
<ellipse cx="1227.6" cy="460.3" rx="3.6" ry="2" stroke="#1c1c1c" stroke-width="1.17" fill="#fff"/>
<path d="M1221.3 471.7 L1234.3 475.6" stroke="#1c1c1c" stroke-width="5.4" fill="none" stroke-linecap="butt" stroke-linejoin="round"/>
<path d="M1221.3 471.7 L1234.3 475.6" stroke="#fff" stroke-width="3.7" fill="none" stroke-linecap="butt" stroke-linejoin="round"/>
<ellipse cx="1234.3" cy="475.6" rx="1.9" ry="2.6" transform="rotate(15 1234.3 475.6)" stroke="#1c1c1c" stroke-width="1.17" fill="#fff"/>
<ellipse cx="1234.3" cy="475.6" rx="0.9" ry="1.5" transform="rotate(15 1234.3 475.6)" stroke="#1c1c1c" stroke-width="0.91" fill="none"/>
<ellipse cx="1221.3" cy="471.7" rx="1.7" ry="2.5" transform="rotate(15 1221.3 471.7)" stroke="#1c1c1c" stroke-width="1.04" fill="#fff"/>
<path d="M1228.1 478.7 C1228.6 481.2 1228.9 488.7 1231.2 493.8 C1233.5 498.9 1239 503.8 1241.6 509.4 C1244.2 515 1245.5 522 1247.1 527.6 C1248.6 533.2 1248.6 538 1251 543.2 C1253.3 548.4 1258.9 555.3 1261.4 558.8 C1263.8 562.3 1264.8 563.1 1265.5 564" stroke="#1c1c1c" stroke-width="6.4" fill="none" stroke-linecap="butt" stroke-linejoin="round"/>
<path d="M1228.1 478.7 C1228.6 481.2 1228.9 488.7 1231.2 493.8 C1233.5 498.9 1239 503.8 1241.6 509.4 C1244.2 515 1245.5 522 1247.1 527.6 C1248.6 533.2 1248.6 538 1251 543.2 C1253.3 548.4 1258.9 555.3 1261.4 558.8 C1263.8 562.3 1264.8 563.1 1265.5 564" stroke="#fff" stroke-width="4.8" fill="none" stroke-linecap="butt" stroke-linejoin="round"/>
<polyline points="1228.6,491.7 1234.3,490.2" stroke="#1c1c1c" stroke-width="1.04" fill="none"/>
<polyline points="1238.5,504.7 1243.7,501.6" stroke="#1c1c1c" stroke-width="1.04" fill="none"/>
<polyline points="1243.7,522.9 1249.4,521.4" stroke="#1c1c1c" stroke-width="1.04" fill="none"/>
<polyline points="1244.2,530.7 1249.9,530.2" stroke="#1c1c1c" stroke-width="1.04" fill="none"/>
<polygon points="1257.7,562.7 1265,558.8 1271.5,564 1270.7,567.9 1267.1,569.2 1262.4,565.3 1259.3,565.3" stroke="#1c1c1c" stroke-width="1.17" fill="#fff"/>
<ellipse cx="1268.1" cy="566.1" rx="1" ry="1" stroke="#1c1c1c" stroke-width="1.04" fill="none"/>
<ellipse cx="1267.1" cy="492.5" rx="3" ry="2.6" stroke="#1c1c1c" stroke-width="1.17" fill="#fff"/>
</g>
<g id="right-center">
<path d="M1073 483.2 C1074.6 481.9 1077.9 481.5 1080 482 C1082.1 482.5 1086.8 485.6 1089 487 C1091.2 488.4 1095.6 491.1 1096.4 492.4 C1097.2 493.7 1096.3 494.7 1095 496.4 C1093.7 498.1 1089.3 502.6 1087 505 C1084.7 507.4 1080.5 512.1 1078 514.4 C1075.5 516.7 1070.3 521.3 1068 522 C1065.7 522.7 1062.1 520.7 1061 520 C1059.9 519.3 1059.3 518.5 1059.6 516.4 C1059.9 514.3 1061.9 507.3 1063 504 C1064.1 500.7 1066.7 494.8 1068 492 C1069.3 489.2 1071.4 484.5 1073 483.2Z" stroke="#1c1c1c" stroke-width="1.17" fill="#fff"/>
<path d="M1074 486 C1075 485.9 1077.7 484.9 1080 485.6 C1082.3 486.3 1085.7 488.5 1088 490 C1090.3 491.5 1092.7 493.7 1093.6 494.4" stroke="#1c1c1c" stroke-width="0.91" fill="none"/>
<path d="M1073.6 486.4 C1072.7 488.7 1069.4 495.6 1068 500 C1066.6 504.4 1065.3 510 1065 513 C1064.7 516 1066.2 517.2 1066.4 518" stroke="#1c1c1c" stroke-width="2.86" fill="none"/>
<path d="M1094.4 495 C1093 496.5 1088.9 501.1 1086 504 C1083.1 506.9 1079.9 509.7 1077 512.4 C1074.1 515.1 1069.8 518.7 1068.4 520" stroke="#1c1c1c" stroke-width="2.34" fill="none"/>
<path d="M1080 488.4 C1079 490.3 1075.8 495.9 1074 500 C1072.2 504.1 1070 509.8 1069 513 C1068 516.2 1068.2 518 1068 519" stroke="#1c1c1c" stroke-width="0.91" fill="none"/>
<path d="M1093 496 C1091.5 497.5 1086.8 502.5 1084 505 C1081.2 507.5 1078.5 509.4 1076 511 C1073.5 512.6 1070.2 513.8 1069 514.4" stroke="#1c1c1c" stroke-width="0.91" fill="none"/>
<polyline points="1084,493 1089,495" stroke="#1c1c1c" stroke-width="0.65" fill="none" stroke-dasharray="1.5 1"/>
<path d="M1125.6 608.6 L1142 616" stroke="#1c1c1c" stroke-width="5.4" fill="none" stroke-linecap="butt" stroke-linejoin="round"/>
<path d="M1125.6 608.6 L1142 616" stroke="#fff" stroke-width="3.8" fill="none" stroke-linecap="butt" stroke-linejoin="round"/>
<polyline points="1135,613 1140,615.4" stroke="#1c1c1c" stroke-width="0.91" fill="none"/>
<polygon points="1136,613 1142,614.4 1142.4,617 1137,618.4" stroke="#1c1c1c" stroke-width="1.04" fill="#fff"/>
<path d="M1045.2 561.2 L1050.4 563.8" stroke="#1c1c1c" stroke-width="3.1" fill="none" stroke-linecap="butt" stroke-linejoin="round"/>
<path d="M1045.2 561.2 L1050.4 563.8" stroke="#fff" stroke-width="1.7" fill="none" stroke-linecap="butt" stroke-linejoin="round"/>
<polygon points="1042.4,634.4 1050,630 1080,645.6 1079.6,649 1077,650 1070,648.4 1043,636.4" stroke="#1c1c1c" stroke-width="1.17" fill="#fff"/>
<ellipse cx="1046.4" cy="634.4" rx="0.8" ry="0.8" stroke="#1c1c1c" stroke-width="0.78" fill="none"/>
<ellipse cx="1072.4" cy="647.2" rx="0.8" ry="0.8" stroke="#1c1c1c" stroke-width="0.78" fill="none"/>
<ellipse cx="1078.4" cy="648.4" rx="1.6" ry="1" transform="rotate(25 1078.4 648.4)" stroke="#1c1c1c" stroke-width="0.91" fill="none"/>
<path d="M1099 521 C1102 519.6 1104.8 517.8 1108 518 C1111.2 518.2 1116.6 520.9 1120 522.6 C1123.4 524.3 1128.2 527 1130.6 529.6 C1133 532.2 1134.7 535.7 1136 540 C1137.3 544.3 1138.5 552.3 1139.2 558 C1139.9 563.7 1141 572 1140.8 578 C1140.6 584 1139.9 592 1138 598 C1136.1 604 1131.6 613 1128 618 C1124.4 623 1118.5 628.1 1114 631 C1109.5 633.9 1103.1 636.9 1098 637.6 C1092.9 638.4 1084.2 635.6 1080 636 C1075.8 636.4 1073.9 641.1 1070 640 C1066.1 638.9 1057.6 631.5 1054 628.4 C1050.4 625.2 1048 622.4 1046 619 C1044 615.6 1041.2 610.4 1040.4 606 C1039.6 601.6 1039.7 595.4 1040.8 590 C1041.9 584.6 1045.1 576 1048 570 C1050.9 564 1056.1 555.1 1060 550 C1063.9 544.9 1069.8 539.5 1074 536 C1078.2 532.5 1084.2 529.2 1088 527 C1091.8 524.8 1096 522.4 1099 521Z" stroke="#1c1c1c" stroke-width="1.30" fill="#fff"/>
<polygon points="1050,625 1060,630 1077,636 1080,640 1070,644 1054,636" stroke="#1c1c1c" stroke-width="1.04" fill="#2a2a2a"/>
<polyline points="1052,628 1074,637.6" stroke="#ccc" stroke-width="0.65" fill="none"/>
<polyline points="1053.2,630.4 1075,638.8" stroke="#ccc" stroke-width="0.65" fill="none"/>
<polyline points="1054.4,632.8 1076,640" stroke="#ccc" stroke-width="0.65" fill="none"/>
<polyline points="1055.6,635.2 1077,641.2" stroke="#ccc" stroke-width="0.65" fill="none"/>
<polyline points="1056.8,637.6 1078,642.4" stroke="#ccc" stroke-width="0.65" fill="none"/>
<path d="M1056 556 C1054.3 559.7 1048.1 571 1046 578 C1043.9 585 1043.4 592 1043.6 598 C1043.8 604 1045.1 609.5 1047 614 C1048.9 618.5 1053.7 623.2 1055 625" stroke="#1c1c1c" stroke-width="0.91" fill="none"/>
<path d="M1063 553 C1061.2 556.8 1054.3 568.5 1052 576 C1049.7 583.5 1049 591.5 1049 598 C1049 604.5 1050.2 610.2 1052 615 C1053.8 619.8 1058.7 625 1060 627" stroke="#1c1c1c" stroke-width="0.78" fill="none"/>
<path d="M1041 590 C1042.5 590.4 1046.3 592.1 1050 592.4 C1053.7 592.7 1060.8 591.7 1063 591.6" stroke="#1c1c1c" stroke-width="0.91" fill="none"/>
<path d="M1044 578 C1045.7 578.5 1050.5 580.6 1054 581 C1057.5 581.4 1063.2 580.5 1065 580.4" stroke="#1c1c1c" stroke-width="0.78" fill="none"/>
<path d="M1048 564 C1050 565 1056 568.3 1060 570 C1064 571.7 1068.7 573.8 1072 574 C1075.3 574.2 1078 572.7 1080 571 C1082 569.3 1083.3 565.2 1084 564" stroke="#1c1c1c" stroke-width="1.04" fill="none"/>
<path d="M1084 564 C1085 562 1087.3 556 1090 552 C1092.7 548 1096.7 543 1100 540 C1103.3 537 1105.3 535.7 1110 534 C1114.7 532.3 1125 530.7 1128 530" stroke="#1c1c1c" stroke-width="1.04" fill="none"/>
<path d="M1099 521 C1098.5 522.2 1095.2 525.8 1096 528 C1096.8 530.2 1100.7 533.3 1104 534 C1107.3 534.7 1111.8 532.7 1116 532 C1120.2 531.3 1126.8 530.3 1129 530" stroke="#1c1c1c" stroke-width="1.04" fill="none"/>
<ellipse cx="1108" cy="522.4" rx="7" ry="3.2" transform="rotate(12 1108 522.4)" stroke="#1c1c1c" stroke-width="1.04" fill="none"/>
<path d="M1100 547 C1101 546.2 1102.7 543.5 1106 542 C1109.3 540.5 1115.7 538.5 1120 538 C1124.3 537.5 1130 538.8 1132 539" stroke="#1c1c1c" stroke-width="2.34" fill="none"/>
<path d="M1100 552 C1101.7 551.2 1106 548 1110 547 C1114 546 1119.8 545.5 1124 546 C1128.2 546.5 1133.2 549.3 1135 550" stroke="#1c1c1c" stroke-width="2.08" fill="none"/>
<polyline points="1100,547 1100,552" stroke="#1c1c1c" stroke-width="1.04" fill="none"/>
<path d="M1132 539 C1132.6 540.2 1134.9 543.2 1135.6 546 C1136.3 548.8 1135.9 554.3 1136 556" stroke="#1c1c1c" stroke-width="1.82" fill="none"/>
<ellipse cx="1088" cy="549" rx="1.4" ry="1" stroke="#1c1c1c" stroke-width="0.91" fill="none"/>
<ellipse cx="1067.2" cy="582" rx="1.4" ry="1" stroke="#1c1c1c" stroke-width="0.91" fill="none"/>
<polygon points="1073,530 1084.4,523.6 1087.6,526 1085.2,540 1076.4,550.4 1069,550.4" stroke="#1c1c1c" stroke-width="1.17" fill="#fff"/>
<polygon points="1075,530 1084.4,525 1085.6,538 1076,543" stroke="#1c1c1c" stroke-width="1.04" fill="#fff"/>
<polyline points="1076.4,543 1076.4,550.4" stroke="#1c1c1c" stroke-width="0.91" fill="none"/>
<ellipse cx="1080" cy="530" rx="0.5" ry="0.5" stroke="#1c1c1c" stroke-width="0.52" fill="#222"/>
<ellipse cx="1080" cy="535" rx="0.5" ry="0.5" stroke="#1c1c1c" stroke-width="0.52" fill="#222"/>
<ellipse cx="1080" cy="539.6" rx="0.5" ry="0.5" stroke="#1c1c1c" stroke-width="0.52" fill="#222"/>
<polyline points="1085,523.6 1084.4,518" stroke="#1c1c1c" stroke-width="1.04" fill="none"/>
<polygon points="1083,516.4 1088,517.2 1085,519.6" stroke="#1c1c1c" stroke-width="1.04" fill="none"/>
<ellipse cx="1100" cy="596" rx="47" ry="32.6" transform="rotate(-48.6 1100 596)" stroke="#1c1c1c" stroke-width="1.17" fill="#fff"/>
<ellipse cx="1101.2" cy="596" rx="45.6" ry="31.6" transform="rotate(-50 1101.2 596)" stroke="#1c1c1c" stroke-width="0.91" fill="none"/>
<ellipse cx="1102.6" cy="595.8" rx="44.6" ry="31.2" transform="rotate(-53 1102.6 595.8)" stroke="#1c1c1c" stroke-width="0.91" fill="none"/>
<ellipse cx="1104.6" cy="595.4" rx="43" ry="30.4" transform="rotate(-58 1104.6 595.4)" stroke="#1c1c1c" stroke-width="1.17" fill="none"/>
<ellipse cx="1105" cy="595.4" rx="40.4" ry="28.4" transform="rotate(-58 1105 595.4)" stroke="#1c1c1c" stroke-width="0.91" fill="none"/>
<ellipse cx="1105.4" cy="595.7" rx="34.6" ry="24.4" transform="rotate(-58 1105.4 595.7)" stroke="#1c1c1c" stroke-width="1.17" fill="none"/>
<ellipse cx="1105" cy="595.8" rx="13.2" ry="9.4" transform="rotate(-58 1105 595.8)" stroke="#1c1c1c" stroke-width="1.17" fill="none"/>
<ellipse cx="1105.2" cy="596" rx="3" ry="2.4" transform="rotate(-58 1105.2 596)" stroke="#1c1c1c" stroke-width="1.17" fill="none"/>
<ellipse cx="1132.6" cy="565.3" rx="0.8" ry="0.8" stroke="#1c1c1c" stroke-width="0.78" fill="#fff"/>
<ellipse cx="1137.4" cy="591.2" rx="0.8" ry="0.8" stroke="#1c1c1c" stroke-width="0.78" fill="#fff"/>
<ellipse cx="1123.2" cy="619.6" rx="0.8" ry="0.8" stroke="#1c1c1c" stroke-width="0.78" fill="#fff"/>
<ellipse cx="1098.1" cy="633.8" rx="0.8" ry="0.8" stroke="#1c1c1c" stroke-width="0.78" fill="#fff"/>
<ellipse cx="1077" cy="625.5" rx="0.8" ry="0.8" stroke="#1c1c1c" stroke-width="0.78" fill="#fff"/>
<ellipse cx="1072.2" cy="599.6" rx="0.8" ry="0.8" stroke="#1c1c1c" stroke-width="0.78" fill="#fff"/>
<ellipse cx="1086.4" cy="571.2" rx="0.8" ry="0.8" stroke="#1c1c1c" stroke-width="0.78" fill="#fff"/>
<ellipse cx="1111.5" cy="557" rx="0.8" ry="0.8" stroke="#1c1c1c" stroke-width="0.78" fill="#fff"/>
<ellipse cx="1087.7" cy="637" rx="0.8" ry="0.8" stroke="#1c1c1c" stroke-width="0.91" fill="none"/>
<ellipse cx="1069.4" cy="629.5" rx="0.8" ry="0.8" stroke="#1c1c1c" stroke-width="0.91" fill="none"/>
<ellipse cx="1062.6" cy="609.9" rx="0.8" ry="0.8" stroke="#1c1c1c" stroke-width="0.91" fill="none"/>
<ellipse cx="1069.7" cy="585.2" rx="0.8" ry="0.8" stroke="#1c1c1c" stroke-width="0.91" fill="none"/>
<ellipse cx="967.5" cy="663" rx="75.3" ry="41.6" transform="rotate(17.4 967.5 663)" stroke="#1c1c1c" stroke-width="1.04" fill="none" stroke-dasharray="12.5 3.2"/>
<polygon points="915.6,634.5 926.6,628 1014.1,669.4 1014.1,674.4 1003.9,680.3 916.4,636.9" stroke="#1c1c1c" stroke-width="1.17" fill="#fff"/>
<polyline points="917.5,635.3 1003.9,675.6 1014.1,669.7" stroke="#1c1c1c" stroke-width="1.04" fill="none"/>
<polyline points="1003.9,675.6 1003.9,680.3" stroke="#1c1c1c" stroke-width="1.04" fill="none"/>
<polyline points="926.6,630 1012.5,670.9" stroke="#1c1c1c" stroke-width="0.78" fill="none"/>
<polyline points="918.8,637.7 1003.9,677.8" stroke="#1c1c1c" stroke-width="0.65" fill="none"/>
<polygon points="1005.5,676.2 1012.5,672.5 1012.5,675.2 1005.5,679.1" stroke="#1c1c1c" stroke-width="0.91" fill="none"/>
<path d="M931.2 645.5 C931.7 644.4 934.4 641.6 935.9 640.8 C937.5 640 943.2 638.5 944.5 638.4 C945.9 638.3 948.1 639.3 947.7 640 C947.2 640.7 941.4 643.6 940.6 644.7 C939.8 645.8 941 648.6 940.6 649.4 C940.3 650.2 938.5 651.6 937.5 651.7 C936.5 651.8 932.8 650.9 932 650.2 C931.3 649.4 930.8 646.6 931.2 645.5Z" stroke="#1c1c1c" stroke-width="1.17" fill="#fff"/>
<polyline points="935.9,640.8 935.2,647 932,650.2" stroke="#1c1c1c" stroke-width="0.91" fill="none"/>
<polyline points="940.6,644.7 935.2,647" stroke="#1c1c1c" stroke-width="0.91" fill="none"/>
<ellipse cx="937.5" cy="649.4" rx="2" ry="1.4" stroke="#1c1c1c" stroke-width="1.56" fill="none"/>
<path d="M970.3 664.2 C970.8 663.1 973.5 660.4 975 659.5 C976.5 658.7 982.2 657.3 983.6 657.2 C985 657.1 987.2 658 986.7 658.8 C986.3 659.5 980.5 662.3 979.7 663.4 C978.9 664.5 980.1 667.3 979.7 668.1 C979.3 668.9 977.6 670.4 976.6 670.5 C975.6 670.6 971.8 669.6 971.1 668.9 C970.4 668.2 969.9 665.3 970.3 664.2Z" stroke="#1c1c1c" stroke-width="1.17" fill="#fff"/>
<polyline points="975,659.5 974.2,665.8 971.1,668.9" stroke="#1c1c1c" stroke-width="0.91" fill="none"/>
<polyline points="979.7,663.4 974.2,665.8" stroke="#1c1c1c" stroke-width="0.91" fill="none"/>
<ellipse cx="976.6" cy="668.1" rx="2" ry="1.4" stroke="#1c1c1c" stroke-width="1.56" fill="none"/>
<ellipse cx="952.7" cy="644.7" rx="1.5" ry="1" stroke="#1c1c1c" stroke-width="0.65" fill="#222"/>
<ellipse cx="978.4" cy="657.2" rx="1.5" ry="1" stroke="#1c1c1c" stroke-width="0.65" fill="#222"/>
<ellipse cx="921.9" cy="667.7" rx="21.5" ry="7.6" transform="rotate(26 921.9 667.7)" stroke="#1c1c1c" stroke-width="1.04" fill="none" stroke-dasharray="8 3"/>
<path d="M905 661.1 L913.8 663.8" stroke="#1c1c1c" stroke-width="3" fill="none" stroke-linecap="butt" stroke-linejoin="round"/>
<path d="M905 661.1 L913.8 663.8" stroke="#fff" stroke-width="1.4" fill="none" stroke-linecap="butt" stroke-linejoin="round"/>
<polyline points="904.7,660 904.1,662.2" stroke="#1c1c1c" stroke-width="2.08" fill="none"/>
<ellipse cx="916.9" cy="666.1" rx="1.9" ry="1.9" stroke="#1c1c1c" stroke-width="0.65" fill="#222"/>
<ellipse cx="925.5" cy="670" rx="1.3" ry="1.3" stroke="#1c1c1c" stroke-width="0.65" fill="#222"/>
<ellipse cx="932" cy="672.8" rx="4.8" ry="4.4" stroke="#1c1c1c" stroke-width="0.78" fill="#222"/>
<ellipse cx="933.1" cy="673.3" rx="2.6" ry="3.2" stroke="#aaa" stroke-width="0.91" fill="#555"/>
<ellipse cx="937.8" cy="675.6" rx="1" ry="1" stroke="#1c1c1c" stroke-width="0.52" fill="#222"/>
<polygon points="1021.9,683.4 1029.7,679.4 1037.5,682.2 1037.5,686.1 1029.7,690.3 1022.7,687.2" stroke="#1c1c1c" stroke-width="1.17" fill="#fff"/>
<polygon points="1027.3,682.2 1035.2,681.4 1035.9,685.3 1029.7,688.4" stroke="#1c1c1c" stroke-width="0.91" fill="#3a3a3a"/>
<polyline points="1021.9,683.4 1028.1,686.1 1037.5,682.2" stroke="#1c1c1c" stroke-width="0.91" fill="none"/>
<polyline points="1028.1,686.1 1029.7,690.3" stroke="#1c1c1c" stroke-width="0.91" fill="none"/>
<polyline points="1002.3,686.1 1002.3,690" stroke="#1c1c1c" stroke-width="2.08" fill="none"/>
<ellipse cx="1002.3" cy="690.8" rx="2.8" ry="1.3" stroke="#1c1c1c" stroke-width="1.30" fill="#444"/>
<ellipse cx="1001.1" cy="701.2" rx="1.7" ry="1.9" stroke="#1c1c1c" stroke-width="1.30" fill="none"/>
<ellipse cx="1004.1" cy="700.9" rx="1.6" ry="1.6" stroke="#1c1c1c" stroke-width="1.30" fill="none"/>
<ellipse cx="1207.1" cy="599.4" rx="65.8" ry="33.2" transform="rotate(23 1207.1 599.4)" stroke="#1c1c1c" stroke-width="1.04" fill="none" stroke-dasharray="11 3 2.5 3"/>
<polygon points="1181.5,574.6 1196.7,567 1205.1,571.2 1204.2,573.7 1192.1,580.2" stroke="#1c1c1c" stroke-width="1.17" fill="#fff"/>
<polyline points="1185.7,573.7 1198.3,567.8" stroke="#1c1c1c" stroke-width="0.78" fill="none"/>
<polyline points="1189.1,576.3 1201.7,570" stroke="#1c1c1c" stroke-width="1.56" fill="none"/>
<polyline points="1196.7,572.9 1197.5,576.3" stroke="#1c1c1c" stroke-width="0.91" fill="none"/>
<polygon points="1222.8,595.2 1238,587.6 1246.4,591.8 1245.6,594.3 1233.4,600.7" stroke="#1c1c1c" stroke-width="1.17" fill="#fff"/>
<polyline points="1227,594.3 1239.7,588.4" stroke="#1c1c1c" stroke-width="0.78" fill="none"/>
<polyline points="1230.4,596.9 1243.1,590.6" stroke="#1c1c1c" stroke-width="1.56" fill="none"/>
<polyline points="1238,593.5 1238.8,596.9" stroke="#1c1c1c" stroke-width="0.91" fill="none"/>
<polygon points="1149.4,572.1 1160.4,565.3 1247.3,607.5 1247.6,612.2 1238,618 1149.9,574.9" stroke="#1c1c1c" stroke-width="1.17" fill="#fff"/>
<polyline points="1151.1,572.9 1238,612.9 1247.3,607.8" stroke="#1c1c1c" stroke-width="1.04" fill="none"/>
<polyline points="1238,612.9 1238,618" stroke="#1c1c1c" stroke-width="1.04" fill="none"/>
<polyline points="1152.8,575.1 1238,615.1" stroke="#1c1c1c" stroke-width="1.56" fill="none"/>
<polygon points="1239.3,613.4 1246.1,609.5 1246.1,611.9 1239.3,615.9" stroke="#1c1c1c" stroke-width="0.91" fill="none"/>
<ellipse cx="1186.5" cy="581.8" rx="1.7" ry="1.1" stroke="#1c1c1c" stroke-width="0.65" fill="#222"/>
<ellipse cx="1211.8" cy="594.3" rx="1.7" ry="1.1" stroke="#1c1c1c" stroke-width="0.65" fill="#222"/>
<ellipse cx="1181.5" cy="588.1" rx="1" ry="1" stroke="#1c1c1c" stroke-width="0.65" fill="#222"/>
<ellipse cx="1206.8" cy="599.9" rx="1" ry="1" stroke="#1c1c1c" stroke-width="0.65" fill="#222"/>
<polygon points="1250.1,619 1258.2,614.2 1266.7,617.3 1267,621.8 1259.1,626.4 1251.2,623" stroke="#1c1c1c" stroke-width="1.17" fill="#fff"/>
<polygon points="1255.7,617.6 1264.7,616.3 1265.3,621 1259.1,624.4" stroke="#1c1c1c" stroke-width="0.91" fill="#3a3a3a"/>
<polyline points="1250.1,619 1256.9,621.8 1266.7,617.3" stroke="#1c1c1c" stroke-width="0.91" fill="none"/>
<polyline points="1256.9,621.8 1259.1,626.4" stroke="#1c1c1c" stroke-width="0.91" fill="none"/>
<polygon points="1232.6,626.4 1235.5,624.4 1239.3,625.7 1236.3,627.7" stroke="#1c1c1c" stroke-width="1.04" fill="#888"/>
<polyline points="1236,632.5 1236,637" stroke="#1c1c1c" stroke-width="2.08" fill="none"/>
<ellipse cx="1236" cy="637.9" rx="2.8" ry="1.2" stroke="#1c1c1c" stroke-width="1.30" fill="#444"/>
</g>
<polygon points="1332.1,596.5 1358.55,570.6 1358.55,583.45 1385.75,583.45 1385.75,609.45 1358.55,609.45 1358.55,622.5" fill="#fff" stroke="#ed1c24" stroke-width="4.5" stroke-linejoin="round"/>
<g id="right-lower">
<ellipse cx="1371" cy="729.4" rx="131.2" ry="42" transform="rotate(-26.4 1371 729.4)" stroke="#1c1c1c" stroke-width="1.04" fill="none" stroke-dasharray="12 3.5"/>
<path d="M1285.6 778 C1288 776.7 1293.6 773.3 1300 770 C1306.4 766.7 1316.7 761.7 1324 758.4 C1331.3 755.1 1337.3 753.1 1344 750.4 C1350.7 747.7 1357.3 745.5 1364 742.4 C1370.7 739.3 1378 734.9 1384 731.6 C1390 728.3 1395.3 724.7 1400 722.4 C1404.7 720.1 1410 718.4 1412 717.6" stroke="#1c1c1c" stroke-width="9.9" fill="none" stroke-linecap="butt" stroke-linejoin="round"/>
<path d="M1285.6 778 C1288 776.7 1293.6 773.3 1300 770 C1306.4 766.7 1316.7 761.7 1324 758.4 C1331.3 755.1 1337.3 753.1 1344 750.4 C1350.7 747.7 1357.3 745.5 1364 742.4 C1370.7 739.3 1378 734.9 1384 731.6 C1390 728.3 1395.3 724.7 1400 722.4 C1404.7 720.1 1410 718.4 1412 717.6" stroke="#fff" stroke-width="8.1" fill="none" stroke-linecap="butt" stroke-linejoin="round"/>
<path d="M1285.6 778 C1288 776.7 1293.6 773.3 1300 770 C1306.4 766.7 1316.7 761.7 1324 758.4 C1331.3 755.1 1337.3 753.1 1344 750.4 C1350.7 747.7 1357.3 745.5 1364 742.4 C1370.7 739.3 1378 734.9 1384 731.6 C1390 728.3 1395.3 724.7 1400 722.4 C1404.7 720.1 1410 718.4 1412 717.6" stroke="#1c1c1c" stroke-width="0.8" fill="none" transform="translate(0.6,-1.6)"/>
<path d="M1285.6 778 C1288 776.7 1293.6 773.3 1300 770 C1306.4 766.7 1316.7 761.7 1324 758.4 C1331.3 755.1 1337.3 753.1 1344 750.4 C1350.7 747.7 1357.3 745.5 1364 742.4 C1370.7 739.3 1378 734.9 1384 731.6 C1390 728.3 1395.3 724.7 1400 722.4 C1404.7 720.1 1410 718.4 1412 717.6" stroke="#1c1c1c" stroke-width="0.8" fill="none" transform="translate(-0.4,1.4)"/>
<polyline points="1321,756 1325,762.4" stroke="#1c1c1c" stroke-width="1.04" fill="none"/>
<polyline points="1362,740 1366.4,746" stroke="#1c1c1c" stroke-width="1.04" fill="none"/>
<path d="M1409 715 C1409.5 713.9 1413.9 714.1 1416 714.4 C1418.1 714.7 1421.3 716 1423 717 C1424.7 718 1426.7 719.8 1427 721 C1427.3 722.2 1426.2 724.2 1425 725 C1423.8 725.8 1420.3 726.3 1419 726 C1417.7 725.7 1417 723.6 1416 723 C1415 722.4 1413.5 723.2 1412.4 722 C1411.4 720.8 1408.5 716.1 1409 715Z" stroke="#1c1c1c" stroke-width="1.17" fill="#fff"/>
<path d="M1416 715.6 C1416.8 716.2 1419.9 717.6 1421 719 C1422.1 720.4 1422.2 723.2 1422.4 724" stroke="#1c1c1c" stroke-width="0.91" fill="none"/>
<polygon points="1366,719.6 1370.4,717.6 1382.4,723.6 1383.2,728 1378.4,729.6 1378,734.4 1370.4,734.8 1370.4,724" stroke="#1c1c1c" stroke-width="1.17" fill="#fff"/>
<polyline points="1370.4,724 1378.4,728 1382.4,723.6" stroke="#1c1c1c" stroke-width="0.91" fill="none"/>
<polyline points="1378.4,728 1378.4,734" stroke="#1c1c1c" stroke-width="0.91" fill="none"/>
<ellipse cx="1381.2" cy="726.4" rx="1.4" ry="2" stroke="#1c1c1c" stroke-width="1.04" fill="none"/>
<path d="M1280 775.6 L1289 780.4" stroke="#1c1c1c" stroke-width="8.8" fill="none" stroke-linecap="butt" stroke-linejoin="round"/>
<path d="M1280 775.6 L1289 780.4" stroke="#fff" stroke-width="6.8" fill="none" stroke-linecap="butt" stroke-linejoin="round"/>
<ellipse cx="1289.4" cy="780.6" rx="2.6" ry="4.3" transform="rotate(28 1289.4 780.6)" stroke="#1c1c1c" stroke-width="1.17" fill="#fff"/>
<ellipse cx="1289.5" cy="780.6" rx="1.4" ry="2.7" transform="rotate(28 1289.5 780.6)" stroke="#1c1c1c" stroke-width="1.95" fill="#fff"/>
<ellipse cx="1265" cy="769" rx="14" ry="6.5" transform="rotate(28 1265 769)" stroke="#1c1c1c" stroke-width="1.04" fill="none"/>
<polyline points="1260,766.4 1267,770" stroke="#1c1c1c" stroke-width="3.90" fill="none" stroke-dasharray="1.2 0.7"/>
<ellipse cx="1271.6" cy="771.6" rx="4" ry="3.6" stroke="#1c1c1c" stroke-width="0.78" fill="#222"/>
<ellipse cx="1273.2" cy="772.4" rx="1.8" ry="2.6" stroke="#aaa" stroke-width="0.91" fill="#555"/>
<ellipse cx="1301.6" cy="787" rx="3" ry="3.2" stroke="#1c1c1c" stroke-width="1.17" fill="#fff"/>
<ellipse cx="1356" cy="714" rx="2.2" ry="2" stroke="#1c1c1c" stroke-width="1.82" fill="#555"/>
<path d="M1304 700.4 C1304.3 699.6 1305 698.6 1307 697.6 C1309 696.6 1317 693.5 1319 693 C1321 692.5 1321.9 693.5 1322 694 C1322.1 694.5 1321.9 695.8 1320 697 C1318.1 698.2 1310 702.1 1308 703 C1306 703.9 1305.5 703.9 1305 703.6 C1304.5 703.3 1303.7 701.2 1304 700.4Z" stroke="#1c1c1c" stroke-width="1.17" fill="#fff"/>
<polyline points="1307,701 1319,695.6" stroke="#1c1c1c" stroke-width="0.91" fill="none"/>
<ellipse cx="1314" cy="698.4" rx="0.7" ry="0.7" stroke="#1c1c1c" stroke-width="0.78" fill="none"/>
<path d="M1404.3 680.3 C1404.2 679 1405.2 676.6 1406.1 675.7 C1407 674.9 1409.2 674 1411 673.6 C1412.8 673.3 1417.5 672.9 1419.4 673.2 C1421.3 673.4 1424 675.1 1425 675.7 C1426 676.4 1427.2 677.7 1427.1 678.3 C1427 678.9 1425 679.5 1424.3 680.3 C1423.5 681.1 1423 683.2 1421.5 684.1 C1420 685.1 1415 687.2 1413.1 687.3 C1411.2 687.4 1408.7 686.1 1407.5 685.2 C1406.3 684.3 1404.5 681.6 1404.3 680.3Z" stroke="#1c1c1c" stroke-width="1.17" fill="#2c2c2c"/>
<polyline points="1411,675 1408.9,684.5" stroke="#eee" stroke-width="1.43" fill="none" stroke-dasharray="2.2 0.8"/>
<polyline points="1414.5,674.3 1413.1,685.9" stroke="#eee" stroke-width="1.43" fill="none" stroke-dasharray="2.2 0.8"/>
<polyline points="1418.3,674.3 1416.9,684.8" stroke="#eee" stroke-width="1.43" fill="none" stroke-dasharray="2.2 0.8"/>
<polyline points="1421.8,675.7 1420.4,683.1" stroke="#eee" stroke-width="1.43" fill="none" stroke-dasharray="2.2 0.8"/>
<path d="M1422.9 683.8 C1423.2 682.9 1426.4 681.5 1427.8 681 C1429.2 680.5 1431.7 680 1433.4 680.3 C1435.1 680.6 1438.8 682.6 1440.4 683.4 C1441.9 684.3 1444.5 685.6 1444.9 686.6 C1445.4 687.6 1444.7 689.8 1443.9 690.8 C1443.1 691.8 1440.8 693.7 1439 694.3 C1437.2 694.9 1432.6 695.4 1430.6 695.3 C1428.5 695.3 1424.9 694.4 1423.6 693.9 C1422.2 693.5 1420.4 692.3 1420.4 691.8 C1420.4 691.4 1422.9 691.3 1423.6 690.8 C1424.3 690.3 1425.8 688.9 1425.7 688 C1425.6 687.1 1422.6 684.7 1422.9 683.8Z" stroke="#1c1c1c" stroke-width="1.30" fill="#fff"/>
<path d="M1422.9 683.8 C1423.2 682.9 1426.6 681.5 1427.8 681.1 C1429 680.8 1431.3 680.3 1432 681 C1432.6 681.7 1432.7 685 1432.7 686.6 C1432.7 688.2 1432.5 691.8 1432 692.9 C1431.5 694 1430.3 694.8 1429.2 695 C1428.1 695.1 1424.8 694.4 1423.6 693.9 C1422.4 693.5 1420.4 692.3 1420.4 691.8 C1420.4 691.4 1422.9 691.3 1423.6 690.8 C1424.3 690.3 1425.8 688.9 1425.7 688 C1425.6 687.1 1422.6 684.7 1422.9 683.8Z" stroke="#1c1c1c" stroke-width="0.78" fill="#333"/>
<path d="M1427.8 683.4 C1428 684.2 1429.2 686.4 1429.2 688 C1429.2 689.6 1428 692.1 1427.8 692.9" stroke="#ddd" stroke-width="1.30" fill="none"/>
<path d="M1432.7 686.6 C1433.6 686.8 1436.5 687.2 1438.3 687.6 C1440 688.1 1442.4 689.1 1443.2 689.4" stroke="#1c1c1c" stroke-width="1.04" fill="none"/>
<ellipse cx="1440" cy="692.3" rx="1.3" ry="0.9" stroke="#1c1c1c" stroke-width="1.04" fill="none"/>
<ellipse cx="1444" cy="711.8" rx="21" ry="8.4" transform="rotate(27 1444 711.8)" stroke="#1c1c1c" stroke-width="1.04" fill="none" stroke-dasharray="7 3"/>
<ellipse cx="1428.3" cy="704.2" rx="1.3" ry="1.3" stroke="#1c1c1c" stroke-width="0.52" fill="#222"/>
<ellipse cx="1433.4" cy="706.7" rx="1.6" ry="1.9" transform="rotate(20 1433.4 706.7)" stroke="#1c1c1c" stroke-width="1.56" fill="none"/>
<ellipse cx="1439" cy="711.1" rx="3.6" ry="5.6" transform="rotate(25 1439 711.1)" stroke="#1c1c1c" stroke-width="1.17" fill="#fff"/>
<ellipse cx="1441.8" cy="710.9" rx="4.6" ry="5.6" transform="rotate(25 1441.8 710.9)" stroke="#1c1c1c" stroke-width="1.30" fill="#fff"/>
<ellipse cx="1443.9" cy="711.8" rx="2.6" ry="3.4" transform="rotate(25 1443.9 711.8)" stroke="#1c1c1c" stroke-width="1.04" fill="#222"/>
<polyline points="1446,712.8 1450.9,715.3" stroke="#1c1c1c" stroke-width="3.38" fill="none"/>
<polyline points="1450.9,715.3 1462.1,721" stroke="#444" stroke-width="2.21" fill="none"/>
<path d="M1405.8 768.8 C1406.1 767.6 1407.5 765.6 1409.4 764.3 C1411.3 763 1419 759.4 1422 758 C1425 756.6 1431.9 753.7 1435.5 752.6 C1439.1 751.5 1449.8 748.9 1452.6 748.6 C1455.4 748.2 1457.8 748.8 1459.8 749.5 C1461.8 750.1 1467.4 752.9 1469.7 754.4 C1472 755.9 1478.5 760.9 1479.6 762.1 C1480.7 763.2 1479.4 763.8 1479.2 764.3 C1478.9 764.8 1478.4 765.7 1477.8 766.3 C1477.2 766.9 1476.5 768.6 1474.2 769.7 C1471.9 770.8 1461.4 774.8 1458 776 C1454.6 777.2 1447.1 779.7 1445.4 780.1 C1443.7 780.4 1445.1 778.9 1443.6 779.2 C1442.1 779.4 1434.7 781.3 1432.8 781.9 C1430.9 782.4 1428.8 783.9 1427.4 784.1 C1426 784.3 1422.8 783.8 1421.1 783.2 C1419.4 782.6 1414.7 779.8 1413 778.7 C1411.3 777.7 1407.5 775.4 1406.7 774.2 C1405.9 773 1405.5 770 1405.8 768.8Z" stroke="#1c1c1c" stroke-width="1.56" fill="#fff"/>
<path d="M1405.8 768.8 C1406.4 769.2 1407.5 769.9 1409.4 771.1 C1411.4 772.2 1414.8 774.5 1417.5 775.6 C1420.2 776.6 1422.5 777.7 1425.6 777.6 C1428.8 777.5 1431.9 776.4 1436.4 775.1 C1440.9 773.8 1447.2 771.4 1452.6 769.9 C1458 768.4 1464.4 767 1468.8 765.9 C1473.2 764.9 1477.4 764 1479.2 763.6" stroke="#1c1c1c" stroke-width="1.95" fill="none"/>
<path d="M1408.5 768.8 C1409.6 768.1 1411.1 766.3 1414.8 764.3 C1418.6 762.4 1424.7 759.4 1431 757.1 C1437.3 754.8 1448 751.4 1452.6 750.4 C1457.3 749.3 1456.5 750.2 1458.9 751 C1461.3 751.8 1464.2 753.4 1467 755.3 C1469.9 757.2 1474.5 761.3 1476 762.5" stroke="#1c1c1c" stroke-width="1.30" fill="none"/>
<path d="M1413 770.2 C1416 768.9 1424.1 765.6 1431 762.5 C1437.9 759.4 1450.5 753.4 1454.4 751.5" stroke="#1c1c1c" stroke-width="1.17" fill="none"/>
<polyline points="1421.1,783.2 1421.3,778.3" stroke="#1c1c1c" stroke-width="0.91" fill="none"/>
<polyline points="1431,782.3 1431,776.9" stroke="#1c1c1c" stroke-width="0.91" fill="none"/>
<ellipse cx="1419.8" cy="771.7" rx="2.3" ry="1.5" transform="rotate(-20 1419.8 771.7)" stroke="#1c1c1c" stroke-width="1.95" fill="none"/>
<ellipse cx="1426.2" cy="769.3" rx="2.3" ry="1.5" transform="rotate(-20 1426.2 769.3)" stroke="#1c1c1c" stroke-width="1.95" fill="none"/>
<ellipse cx="1432.6" cy="767" rx="2.3" ry="1.5" transform="rotate(-20 1432.6 767)" stroke="#1c1c1c" stroke-width="1.95" fill="none"/>
<ellipse cx="1439" cy="764.7" rx="2.3" ry="1.5" transform="rotate(-20 1439 764.7)" stroke="#1c1c1c" stroke-width="1.95" fill="none"/>
<ellipse cx="1445.4" cy="762.3" rx="2.3" ry="1.5" transform="rotate(-20 1445.4 762.3)" stroke="#1c1c1c" stroke-width="1.95" fill="none"/>
<path d="M1422 775.6 C1422.8 775.2 1425 774 1426.5 773.5 C1428 773 1429.5 773.1 1431 772.6 C1432.5 772.1 1434 770.9 1435.5 770.4 C1437 769.9 1438.5 770.1 1440 769.5 C1441.5 769 1443 767.7 1444.5 767.2 C1446 766.6 1447.7 766.7 1449 766.3 C1450.4 765.9 1452 765 1452.6 764.8" stroke="#1c1c1c" stroke-width="1.95" fill="none"/>
<ellipse cx="1457.1" cy="760.5" rx="10.5" ry="5.8" transform="rotate(-8 1457.1 760.5)" stroke="#1c1c1c" stroke-width="3.38" fill="#fff"/>
<ellipse cx="1456.7" cy="760.9" rx="5" ry="2.6" transform="rotate(-8 1456.7 760.9)" stroke="#1c1c1c" stroke-width="2.34" fill="none"/>
<path d="M1467 755.8 C1467.9 756.5 1470.9 758.9 1472.4 760.3 C1473.9 761.6 1475.4 763 1476 763.6" stroke="#1c1c1c" stroke-width="1.56" fill="none"/>
<polyline points="1415.3,763 1412.1,767.9" stroke="#1c1c1c" stroke-width="0.91" fill="none"/>
<polygon points="1404.9,804.4 1407.6,802.1 1411.7,803 1413,800.3 1421.1,796.3 1426.1,797.6 1426.5,794.5 1449.9,783.2 1469.7,792.7 1469.7,795.1 1424.7,812 1419.3,811.8 1405.8,806.2" stroke="#1c1c1c" stroke-width="1.17" fill="#fff"/>
<polyline points="1405.8,806.2 1422,810 1469.7,793.1" stroke="#1c1c1c" stroke-width="0.91" fill="none"/>
<polyline points="1418.9,801.7 1461.6,793.8" stroke="#1c1c1c" stroke-width="1.82" fill="none"/>
<polyline points="1447.7,787.5 1424.3,809.8" stroke="#1c1c1c" stroke-width="1.82" fill="none"/>
<ellipse cx="1451.9" cy="786.1" rx="0.8" ry="0.8" stroke="#1c1c1c" stroke-width="0.65" fill="#222"/>
<ellipse cx="1463.1" cy="791.5" rx="0.8" ry="0.8" stroke="#1c1c1c" stroke-width="0.65" fill="#222"/>
<ellipse cx="1408.5" cy="804.4" rx="0.8" ry="0.8" stroke="#1c1c1c" stroke-width="0.65" fill="#222"/>
<ellipse cx="1419.5" cy="810.7" rx="0.8" ry="0.8" stroke="#1c1c1c" stroke-width="0.65" fill="#222"/>
<path d="M1441.9 812.6 C1439.4 814.5 1433.7 819.8 1426.7 824 C1419.8 828.1 1409 833.3 1400.2 837.2 C1391.3 841.2 1381.7 844.8 1373.6 847.5 C1365.5 850.2 1355.2 852.6 1351.5 853.6" stroke="#1c1c1c" stroke-width="6.1" fill="none" stroke-linecap="butt" stroke-linejoin="round"/>
<path d="M1441.9 812.6 C1439.4 814.5 1433.7 819.8 1426.7 824 C1419.8 828.1 1409 833.3 1400.2 837.2 C1391.3 841.2 1381.7 844.8 1373.6 847.5 C1365.5 850.2 1355.2 852.6 1351.5 853.6" stroke="#fff" stroke-width="4.3" fill="none" stroke-linecap="butt" stroke-linejoin="round"/>
<path d="M1437 811.2 L1447 816" stroke="#1c1c1c" stroke-width="5.2" fill="none" stroke-linecap="butt" stroke-linejoin="round"/>
<path d="M1437 811.2 L1447 816" stroke="#fff" stroke-width="3.6" fill="none" stroke-linecap="butt" stroke-linejoin="round"/>
<ellipse cx="1447.2" cy="816" rx="1.6" ry="2.6" transform="rotate(25 1447.2 816)" stroke="#1c1c1c" stroke-width="1.04" fill="#fff"/>
<polyline points="1402.4,833.1 1404.7,838.4" stroke="#1c1c1c" stroke-width="1.04" fill="none"/>
<path d="M1345.1 851.3 L1353.8 855.1" stroke="#1c1c1c" stroke-width="6.9" fill="none" stroke-linecap="butt" stroke-linejoin="round"/>
<path d="M1345.1 851.3 L1353.8 855.1" stroke="#fff" stroke-width="5.1" fill="none" stroke-linecap="butt" stroke-linejoin="round"/>
<ellipse cx="1345.1" cy="851.3" rx="1.5" ry="2.8" transform="rotate(25 1345.1 851.3)" stroke="#1c1c1c" stroke-width="1.04" fill="#fff"/>
<path d="M1324.2 841.4 L1332.5 844.8" stroke="#1c1c1c" stroke-width="3.4" fill="none" stroke-linecap="butt" stroke-linejoin="round"/>
<path d="M1324.2 841.4 L1332.5 844.8" stroke="#fff" stroke-width="1.8" fill="none" stroke-linecap="butt" stroke-linejoin="round"/>
<ellipse cx="1332.5" cy="844.8" rx="0.9" ry="1.6" transform="rotate(25 1332.5 844.8)" stroke="#1c1c1c" stroke-width="1.04" fill="#333"/>
<ellipse cx="919.6" cy="839.3" rx="116" ry="47.3" transform="rotate(-33.6 919.6 839.3)" stroke="#1c1c1c" stroke-width="1.04" fill="none" stroke-dasharray="12 3.5"/>
<path d="M935.2 827.1 C932.2 829.1 923.5 835.1 917 839.3 C910.5 843.5 904 847.9 896.2 852.3 C888.4 856.8 878.7 861.9 870.2 866.1 C861.8 870.3 849.6 875.4 845.5 877.3" stroke="#1c1c1c" stroke-width="5.5" fill="none" stroke-linecap="butt" stroke-linejoin="round"/>
<path d="M935.2 827.1 C932.2 829.1 923.5 835.1 917 839.3 C910.5 843.5 904 847.9 896.2 852.3 C888.4 856.8 878.7 861.9 870.2 866.1 C861.8 870.3 849.6 875.4 845.5 877.3" stroke="#fff" stroke-width="3.7" fill="none" stroke-linecap="butt" stroke-linejoin="round"/>
<polyline points="895.2,851.3 896.7,854.4" stroke="#1c1c1c" stroke-width="1.04" fill="none"/>
<polygon points="932.6,823.7 936.5,825.8 935.7,831.5 931.3,829.7" stroke="#1c1c1c" stroke-width="1.04" fill="#fff"/>
<path d="M839 877.3 L846.8 881.7" stroke="#1c1c1c" stroke-width="6.5" fill="none" stroke-linecap="butt" stroke-linejoin="round"/>
<path d="M839 877.3 L846.8 881.7" stroke="#fff" stroke-width="4.7" fill="none" stroke-linecap="butt" stroke-linejoin="round"/>
<ellipse cx="839" cy="877.3" rx="1.4" ry="2.6" transform="rotate(28 839 877.3)" stroke="#1c1c1c" stroke-width="1.04" fill="#fff"/>
<ellipse cx="854.1" cy="885.9" rx="2" ry="2" stroke="#1c1c1c" stroke-width="1.82" fill="#555"/>
<path d="M930.8 802.3 C931.1 800.9 932.5 797.8 934.4 796 C936.3 794.2 944.1 788.9 947 787 C949.9 785.1 957.1 780.8 959.6 779.4 C962.1 777.9 966.5 775.1 968.6 774.4 C970.7 773.7 975.1 773.1 977.6 773.5 C980.1 773.9 987.2 776.8 990.2 778 C993.3 779.2 1002 782.5 1003.7 783.4 C1005.4 784.3 1004.7 785.5 1004.6 786.1 C1004.5 786.7 1003.4 788 1002.8 788.6 C1002.2 789.3 1001.5 789.9 999.2 791.5 C996.9 793.1 986.4 800.2 983 802.3 C979.6 804.4 972.4 808.5 970.4 809.3 C968.4 810.1 967.5 808.6 965.9 809.1 C964.3 809.5 958.2 812.4 956.9 813.1 C955.6 813.8 956.3 815 955.1 815.4 C953.9 815.7 949 816.6 947 816.3 C945 815.9 939.8 813.2 938 812.2 C936.2 811.2 932.5 808.9 931.7 807.7 C930.9 806.5 930.5 803.7 930.8 802.3Z" stroke="#1c1c1c" stroke-width="1.56" fill="#fff"/>
<path d="M931.3 803.2 C931.8 803.5 932.8 804 934.4 805 C936 806 938.6 807.9 940.7 809.1 C942.8 810.2 944.8 812.1 947 812 C949.3 812 951.7 810.2 954.2 808.8 C956.8 807.3 958.4 805.6 962.3 803.4 C966.2 801.1 972.7 797.7 977.6 795.3 C982.6 792.9 987.6 790.6 992 789 C996.4 787.4 1002.1 786.2 1004.2 785.7" stroke="#1c1c1c" stroke-width="1.95" fill="none"/>
<path d="M933.5 803.2 C935.2 801.8 939.1 798 943.4 794.7 C947.8 791.4 955.1 786.4 959.6 783.4 C964.1 780.4 967.4 777.9 970.4 776.7 C973.4 775.5 974.6 775.7 977.6 776.2 C980.6 776.7 984.7 778.3 988.4 779.8 C992.2 781.3 998.2 784.3 1000.1 785.2" stroke="#1c1c1c" stroke-width="1.30" fill="none"/>
<path d="M936.2 803 C939.2 800.9 948.3 794.4 954.2 790.2 C960.1 785.9 968.8 779.7 971.8 777.6" stroke="#1c1c1c" stroke-width="1.17" fill="none"/>
<polyline points="947,816.3 947,812" stroke="#1c1c1c" stroke-width="0.91" fill="none"/>
<polyline points="956.9,813.1 956.5,807.7" stroke="#1c1c1c" stroke-width="0.91" fill="none"/>
<ellipse cx="945.7" cy="803.7" rx="2.3" ry="1.5" transform="rotate(-30 945.7 803.7)" stroke="#1c1c1c" stroke-width="1.95" fill="none"/>
<ellipse cx="951.5" cy="799.5" rx="2.3" ry="1.5" transform="rotate(-30 951.5 799.5)" stroke="#1c1c1c" stroke-width="1.95" fill="none"/>
<ellipse cx="957.4" cy="795.4" rx="2.3" ry="1.5" transform="rotate(-30 957.4 795.4)" stroke="#1c1c1c" stroke-width="1.95" fill="none"/>
<ellipse cx="963.2" cy="791.3" rx="2.3" ry="1.5" transform="rotate(-30 963.2 791.3)" stroke="#1c1c1c" stroke-width="1.95" fill="none"/>
<ellipse cx="952.9" cy="807.3" rx="2.3" ry="1.5" transform="rotate(-30 952.9 807.3)" stroke="#1c1c1c" stroke-width="1.95" fill="none"/>
<ellipse cx="959.3" cy="803.5" rx="2.3" ry="1.5" transform="rotate(-30 959.3 803.5)" stroke="#1c1c1c" stroke-width="1.95" fill="none"/>
<ellipse cx="965.8" cy="799.8" rx="2.3" ry="1.5" transform="rotate(-30 965.8 799.8)" stroke="#1c1c1c" stroke-width="1.95" fill="none"/>
<ellipse cx="972.2" cy="796" rx="2.3" ry="1.5" transform="rotate(-30 972.2 796)" stroke="#1c1c1c" stroke-width="1.95" fill="none"/>
<ellipse cx="978.5" cy="786.1" rx="10" ry="5.8" transform="rotate(-5 978.5 786.1)" stroke="#1c1c1c" stroke-width="3.38" fill="#fff"/>
<ellipse cx="978.3" cy="786.4" rx="4.6" ry="2.6" transform="rotate(-5 978.3 786.4)" stroke="#1c1c1c" stroke-width="2.34" fill="none"/>
<polygon points="934.4,836.5 937.1,832 978.5,808.2 996.5,816.7 996.3,818.7 972.2,832 971.3,829.3 965.9,832 968.2,834.9 956,841.5 954.7,845.1 946.1,844.6 934.4,837.6" stroke="#1c1c1c" stroke-width="1.17" fill="#fff"/>
<polyline points="938.9,834 988.6,819" stroke="#1c1c1c" stroke-width="1.82" fill="none"/>
<polyline points="974.2,813.1 954.7,836.1" stroke="#1c1c1c" stroke-width="1.82" fill="none"/>
<ellipse cx="979" cy="811.1" rx="0.8" ry="0.8" stroke="#1c1c1c" stroke-width="0.65" fill="#222"/>
<ellipse cx="990.7" cy="816.7" rx="0.8" ry="0.8" stroke="#1c1c1c" stroke-width="0.65" fill="#222"/>
<ellipse cx="936.7" cy="836.7" rx="0.8" ry="0.8" stroke="#1c1c1c" stroke-width="0.65" fill="#222"/>
<ellipse cx="947" cy="842.4" rx="0.8" ry="0.8" stroke="#1c1c1c" stroke-width="0.65" fill="#222"/>
<ellipse cx="961.4" cy="839.2" rx="0.8" ry="0.8" stroke="#1c1c1c" stroke-width="0.65" fill="#222"/>
<polygon points="932.2,827.1 935.3,824.1 942.5,827.1 937.1,832" stroke="#1c1c1c" stroke-width="1.17" fill="#fff"/>
<path d="M904 922.5 C906.6 922 914.4 920.4 919.6 919.4 C924.8 918.5 929.6 917.1 935.2 916.8 C940.8 916.5 947.8 917.6 953.4 917.8 C959 918.1 964.2 918.6 969 918.4 C973.8 918.1 977.2 917.1 982 916.3 C986.8 915.5 992.6 914.7 997.6 913.7 C1002.6 912.7 1009.5 910.9 1011.9 910.3" stroke="#1c1c1c" stroke-width="9.1" fill="none" stroke-linecap="butt" stroke-linejoin="round"/>
<path d="M904 922.5 C906.6 922 914.4 920.4 919.6 919.4 C924.8 918.5 929.6 917.1 935.2 916.8 C940.8 916.5 947.8 917.6 953.4 917.8 C959 918.1 964.2 918.6 969 918.4 C973.8 918.1 977.2 917.1 982 916.3 C986.8 915.5 992.6 914.7 997.6 913.7 C1002.6 912.7 1009.5 910.9 1011.9 910.3" stroke="#fff" stroke-width="7.2" fill="none" stroke-linecap="butt" stroke-linejoin="round"/>
<path d="M904 922.5 C906.6 922 914.4 920.4 919.6 919.4 C924.8 918.5 929.6 917.1 935.2 916.8 C940.8 916.5 947.8 917.6 953.4 917.8 C959 918.1 964.2 918.6 969 918.4 C973.8 918.1 977.2 917.1 982 916.3 C986.8 915.5 992.6 914.7 997.6 913.7 C1002.6 912.7 1009.5 910.9 1011.9 910.3" stroke="#1c1c1c" stroke-width="0.8" fill="none" transform="translate(0.3,-1.6)"/>
<path d="M904 922.5 C906.6 922 914.4 920.4 919.6 919.4 C924.8 918.5 929.6 917.1 935.2 916.8 C940.8 916.5 947.8 917.6 953.4 917.8 C959 918.1 964.2 918.6 969 918.4 C973.8 918.1 977.2 917.1 982 916.3 C986.8 915.5 992.6 914.7 997.6 913.7 C1002.6 912.7 1009.5 910.9 1011.9 910.3" stroke="#1c1c1c" stroke-width="0.8" fill="none" transform="translate(-0.2,1.5)"/>
<polyline points="933.1,913.7 937.8,919.4" stroke="#1c1c1c" stroke-width="1.04" fill="none"/>
<polyline points="970.3,914.7 972.9,921.5" stroke="#1c1c1c" stroke-width="1.04" fill="none"/>
<polygon points="978.9,901.7 982,899.1 995.5,904.3 996.3,908.5 993.7,910.3 993.7,917.3 984.1,916.8 984.1,906.4" stroke="#1c1c1c" stroke-width="1.17" fill="#fff"/>
<polyline points="984.1,906.4 993.7,910.3" stroke="#1c1c1c" stroke-width="0.91" fill="none"/>
<ellipse cx="979.4" cy="901.2" rx="1.5" ry="2.3" stroke="#1c1c1c" stroke-width="1.04" fill="#fff"/>
<path d="M1008 909 C1008.5 907.8 1013.7 907.4 1015.8 907.7 C1017.9 908.1 1021.6 910 1023.6 911.6 C1025.6 913.2 1030.2 917.6 1030.9 919.4 C1031.6 921.2 1030.1 924.2 1028.8 925.1 C1027.5 926.1 1022.7 926.9 1021 926.7 C1019.3 926.4 1017.5 924.6 1016.3 923.3 C1015.1 922 1013 918.7 1011.9 916.8 C1010.8 914.9 1007.5 910.2 1008 909Z" stroke="#1c1c1c" stroke-width="1.17" fill="#fff"/>
<polygon points="1017.9,914.7 1024.9,912.9 1030.1,919.9 1023.1,923.3" stroke="#1c1c1c" stroke-width="1.04" fill="#fff"/>
<path d="M1011.9 910.3 C1013 910.9 1016.9 911.7 1018.4 913.7 C1019.9 915.6 1020.6 920.6 1021 922" stroke="#1c1c1c" stroke-width="2.08" fill="none"/>
<ellipse cx="1026.2" cy="924.1" rx="2.6" ry="1.4" transform="rotate(-20 1026.2 924.1)" stroke="#1c1c1c" stroke-width="1.04" fill="none"/>
<path d="M891 921.2 L902.7 926.2" stroke="#1c1c1c" stroke-width="8.3" fill="none" stroke-linecap="butt" stroke-linejoin="round"/>
<path d="M891 921.2 L902.7 926.2" stroke="#fff" stroke-width="6.5" fill="none" stroke-linecap="butt" stroke-linejoin="round"/>
<ellipse cx="891" cy="921.2" rx="2.4" ry="4.1" transform="rotate(25 891 921.2)" stroke="#1c1c1c" stroke-width="1.17" fill="#fff"/>
<ellipse cx="903.2" cy="926.2" rx="2.4" ry="4" transform="rotate(25 903.2 926.2)" stroke="#1c1c1c" stroke-width="1.17" fill="#fff"/>
<ellipse cx="903.4" cy="926.2" rx="1.3" ry="2.5" transform="rotate(25 903.4 926.2)" stroke="#1c1c1c" stroke-width="1.95" fill="#fff"/>
<ellipse cx="887.1" cy="918.9" rx="2" ry="3" transform="rotate(25 887.1 918.9)" stroke="#1c1c1c" stroke-width="2.60" fill="#555"/>
<path d="M984.1 935 C984.4 934.3 985.2 933.1 987.2 931.9 C989.2 930.6 997.2 926.4 999.2 925.6 C1001.1 924.9 1001.9 925.8 1002 926.2 C1002.2 926.6 1002 927.5 1000.2 928.8 C998.4 930 990.3 934.5 988.2 935.5 C986.2 936.6 985.4 936.9 984.9 936.8 C984.3 936.8 983.8 935.7 984.1 935Z" stroke="#1c1c1c" stroke-width="1.69" fill="#fff"/>
<polyline points="987.7,934 998.6,927.7" stroke="#1c1c1c" stroke-width="1.30" fill="none"/>
<ellipse cx="985.1" cy="935.8" rx="0.9" ry="0.9" stroke="#1c1c1c" stroke-width="0.65" fill="#222"/>
</g>
<path d="M1046.4 560.8 C1042.7 560 1033.1 557.6 1024 556 C1014.9 554.4 1005.3 552.1 992 551.2 C978.7 550.3 960 550.1 944 550.6 C928 551.1 910.4 552.4 896 554.4 C881.6 556.4 868.8 558.4 857.6 562.4 C846.4 566.4 836 572.5 828.8 578.4 C821.6 584.3 817.1 591.7 814.4 597.6 C811.7 603.5 811.5 607.2 812.8 613.6 C814.1 620 817.6 628.5 822.4 636 C827.2 643.5 833.1 650.4 841.6 658.4 C850.1 666.4 861.9 676 873.6 684 C885.3 692 897.6 698.4 912 706.4 C926.4 714.4 944 724 960 732 C976 740 992 746.9 1008 754.4 C1024 761.9 1042.3 770.4 1056 776.8 C1069.7 783.2 1076.8 784.8 1090 793 C1103.2 801.2 1121.5 814 1135 826 C1148.5 838 1161.5 853.5 1171 865 C1180.5 876.5 1187.5 886 1192 895 C1196.5 904 1198 911 1198 919 C1198 927 1196 936.5 1192 943 C1188 949.5 1182 954 1174 958 C1166 962 1155.5 965.2 1144 967 C1132.5 968.8 1119 969 1105 968.5 C1091 968 1075 966.2 1060 964 C1045 961.8 1030 958.2 1015 955 C1000 951.8 983.5 947.8 970 944.5 C956.5 941.2 944.3 938.1 934 935.5 C923.7 932.9 912.3 930.1 908 929" stroke="#a83c40" stroke-width="1.05" fill="none" stroke-dasharray="4.5 3.2"/>
<path d="M1129 610 C1130.8 611.3 1137.5 614.7 1140 618 C1142.5 621.3 1144 625.3 1144 630 C1144 634.7 1142.3 641.3 1140 646 C1137.7 650.7 1133.3 653.7 1130 658 C1126.7 662.3 1122.2 667.3 1120 672 C1117.8 676.7 1116.5 681.7 1117 686 C1117.5 690.3 1119.7 693.4 1123.2 698 C1126.7 702.6 1131.9 709 1138 713.8 C1144.1 718.6 1153.7 723.8 1160 727 C1166.3 730.2 1167 729.5 1176 733 C1185 736.5 1202.6 743.3 1214 748 C1225.4 752.7 1236.4 758 1244.4 761.3 C1252.4 764.6 1259.1 766.9 1262 768" stroke="#a83c40" stroke-width="1.05" fill="none" stroke-dasharray="4.5 3.2"/>
<g id="callouts-right">
<polyline points="1242,168.7 1229.8,168.7 1208.8,190.8" stroke="#1c1c1c" stroke-width="1.04" fill="none"/>
<ellipse cx="1250.2" cy="168.7" rx="8.1" ry="6.9" stroke="#2a2a2a" stroke-width="1" fill="#fff"/>
<text x="1250.2" y="171.7" font-size="8.4" fill="#1d2233" text-anchor="middle" letter-spacing="0.3" stroke="#1d2233" stroke-width="0.12">45</text>
<polyline points="1051,202 1038.6,202 999.8,225.5" stroke="#1c1c1c" stroke-width="1.04" fill="none"/>
<ellipse cx="1059.6" cy="202" rx="8.1" ry="6.9" stroke="#2a2a2a" stroke-width="1" fill="#fff"/>
<text x="1059.6" y="205" font-size="8.4" fill="#1d2233" text-anchor="middle" letter-spacing="0.3" stroke="#1d2233" stroke-width="0.12">50</text>
<polyline points="933,244.6 945.5,244.6 985.4,267.3" stroke="#1c1c1c" stroke-width="1.04" fill="none"/>
<polyline points="945.5,244.6 993,235" stroke="#1c1c1c" stroke-width="1.04" fill="none" stroke-dasharray="3 1"/>
<ellipse cx="924.8" cy="244.6" rx="8.1" ry="6.9" stroke="#2a2a2a" stroke-width="1" fill="#fff"/>
<text x="924.8" y="247.6" font-size="8.4" fill="#1d2233" text-anchor="middle" letter-spacing="0.3" stroke="#1d2233" stroke-width="0.12">49</text>
<polyline points="1109.8,280.4 1122.4,280.4 1125.6,330" stroke="#1c1c1c" stroke-width="1.04" fill="none" stroke-dasharray="8 1.2 2 1.2"/>
<ellipse cx="1101.4" cy="280.4" rx="8.1" ry="6.9" stroke="#2a2a2a" stroke-width="1" fill="#fff"/>
<text x="1101.4" y="283.4" font-size="8.4" fill="#1d2233" text-anchor="middle" letter-spacing="0.3" stroke="#1d2233" stroke-width="0.12">46</text>
<polyline points="1240,262.4 1227.8,262.4 1208.3,291" stroke="#8c8c8c" stroke-width="1.04" fill="none"/>
<ellipse cx="1248.3" cy="262.4" rx="8.1" ry="6.9" stroke="#9a9a9a" stroke-width="1" fill="#fff"/>
<text x="1248.3" y="265.4" font-size="8.4" fill="#8a8f98" text-anchor="middle" letter-spacing="0.3" stroke="#8a8f98" stroke-width="0.12" font-style="italic" transform="translate(1248.3 262.4) skewX(-10) translate(-1248.3 -262.4)">44</text>
<polyline points="1047,324.6 1059.4,324.6 1062.4,366.5" stroke="#1c1c1c" stroke-width="1.04" fill="none"/>
<ellipse cx="1038.8" cy="324.6" rx="8.1" ry="6.9" stroke="#2a2a2a" stroke-width="1" fill="#fff"/>
<text x="1038.8" y="327.6" font-size="8.4" fill="#1d2233" text-anchor="middle" letter-spacing="0.3" stroke="#1d2233" stroke-width="0.12">52</text>
<polyline points="918,348.3 930,348.3 943.5,372.5" stroke="#1c1c1c" stroke-width="1.04" fill="none"/>
<ellipse cx="909.5" cy="348.3" rx="8.1" ry="6.9" stroke="#2a2a2a" stroke-width="1" fill="#fff"/>
<text x="909.5" y="351.3" font-size="8.4" fill="#1d2233" text-anchor="middle" letter-spacing="0.3" stroke="#1d2233" stroke-width="0.12">52</text>
<polyline points="910.6,364 921,364 925,364.6 930.3,367.4" stroke="#1c1c1c" stroke-width="1.04" fill="none"/>
<ellipse cx="902.3" cy="364" rx="8.1" ry="6.9" stroke="#2a2a2a" stroke-width="1" fill="#fff"/>
<text x="902.3" y="367" font-size="8.4" fill="#1d2233" text-anchor="middle" letter-spacing="0.3" stroke="#1d2233" stroke-width="0.12">27</text>
<polyline points="908.3,380.1 919.4,380.1 935.6,407" stroke="#1c1c1c" stroke-width="1.04" fill="none"/>
<polyline points="919.4,380.1 941,377.4" stroke="#1c1c1c" stroke-width="1.04" fill="none"/>
<ellipse cx="899.9" cy="380.1" rx="8.1" ry="6.9" stroke="#2a2a2a" stroke-width="1" fill="#fff"/>
<text x="899.9" y="383.1" font-size="8.4" fill="#1d2233" text-anchor="middle" letter-spacing="0.3" stroke="#1d2233" stroke-width="0.12">51</text>
<polyline points="1211,349.2 1199,349.2 1186,345.6 1174.8,343.2" stroke="#1c1c1c" stroke-width="1.04" fill="none"/>
<ellipse cx="1219.4" cy="349.2" rx="8.1" ry="6.9" stroke="#2a2a2a" stroke-width="1" fill="#fff"/>
<text x="1219.4" y="352.2" font-size="8.4" fill="#1d2233" text-anchor="middle" letter-spacing="0.3" stroke="#1d2233" stroke-width="0.12">43</text>
<polyline points="1212.5,365.8 1201,365.8 1144,349" stroke="#1c1c1c" stroke-width="1.04" fill="none"/>
<ellipse cx="1221" cy="365.8" rx="8.1" ry="6.9" stroke="#2a2a2a" stroke-width="1" fill="#fff"/>
<text x="1221" y="368.8" font-size="8.4" fill="#1d2233" text-anchor="middle" letter-spacing="0.3" stroke="#1d2233" stroke-width="0.12">42</text>
<polyline points="1186.2,390.6 1174.4,390.6 1153,413" stroke="#1c1c1c" stroke-width="1.04" fill="none"/>
<ellipse cx="1194.6" cy="390.6" rx="8.1" ry="6.9" stroke="#2a2a2a" stroke-width="1" fill="#fff"/>
<text x="1194.6" y="393.6" font-size="8.4" fill="#1d2233" text-anchor="middle" letter-spacing="0.3" stroke="#1d2233" stroke-width="0.12">41</text>
<polyline points="1105.5,439.2 1094,439.2 1077,430.4" stroke="#1c1c1c" stroke-width="1.04" fill="none"/>
<ellipse cx="1113.9" cy="439.2" rx="8.1" ry="6.9" stroke="#2a2a2a" stroke-width="1" fill="#fff"/>
<text x="1113.9" y="442.2" font-size="8.4" fill="#1d2233" text-anchor="middle" letter-spacing="0.3" stroke="#1d2233" stroke-width="0.12">21</text>
<path d="M1141.2 502 C1139.2 502 1133.9 502.5 1129 502 C1124.1 501.5 1117.3 500 1112 499 C1106.7 498 1099.5 496.5 1097 496" stroke="#1c1c1c" stroke-width="1.04" fill="none"/>
<ellipse cx="1149.6" cy="502" rx="8.1" ry="6.9" stroke="#2a2a2a" stroke-width="1" fill="#fff"/>
<text x="1149.6" y="505" font-size="8.4" fill="#1d2233" text-anchor="middle" letter-spacing="0.3" stroke="#1d2233" stroke-width="0.12">40</text>
<polyline points="910.8,526.2 923.2,526.2 939.6,491.5" stroke="#1c1c1c" stroke-width="1.04" fill="none"/>
<ellipse cx="902.4" cy="526.2" rx="8.1" ry="6.9" stroke="#2a2a2a" stroke-width="1" fill="#fff"/>
<text x="902.4" y="529.2" font-size="8.4" fill="#1d2233" text-anchor="middle" letter-spacing="0.3" stroke="#1d2233" stroke-width="0.12">55</text>
<polyline points="984.5,597.4 996.4,597.4 1007.8,637" stroke="#1c1c1c" stroke-width="1.04" fill="none" stroke-dasharray="8 1.2 2 1.2"/>
<ellipse cx="976.1" cy="597.4" rx="8.1" ry="6.9" stroke="#2a2a2a" stroke-width="1" fill="#fff"/>
<text x="976.1" y="600.4" font-size="8.4" fill="#1d2233" text-anchor="middle" letter-spacing="0.3" stroke="#1d2233" stroke-width="0.12">53</text>
<polyline points="871.2,627.3 883.4,627.3 932.5,668" stroke="#1c1c1c" stroke-width="1.04" fill="none"/>
<ellipse cx="862.8" cy="627.3" rx="8.1" ry="6.9" stroke="#2a2a2a" stroke-width="1" fill="#fff"/>
<text x="862.8" y="630.3" font-size="8.4" fill="#1d2233" text-anchor="middle" letter-spacing="0.3" stroke="#1d2233" stroke-width="0.12">54</text>
<polyline points="1071.2,676.8 1059.6,676.8 1048,679.6 1039.8,683.8" stroke="#1c1c1c" stroke-width="1.04" fill="none"/>
<ellipse cx="1079.6" cy="676.8" rx="8.1" ry="6.9" stroke="#2a2a2a" stroke-width="1" fill="#fff"/>
<text x="1079.6" y="679.8" font-size="8.4" fill="#1d2233" text-anchor="middle" letter-spacing="0.3" stroke="#1d2233" stroke-width="0.12">34</text>
<polyline points="1050.4,701.7 1039.4,701.7 1022,696.5 1005.5,689.6" stroke="#1c1c1c" stroke-width="1.04" fill="none"/>
<ellipse cx="1058.8" cy="701.7" rx="8.1" ry="6.9" stroke="#2a2a2a" stroke-width="1" fill="#fff"/>
<text x="1058.8" y="704.7" font-size="8.4" fill="#1d2233" text-anchor="middle" letter-spacing="0.3" stroke="#1d2233" stroke-width="0.12">37</text>
<polyline points="1049.8,719.9 1038.6,719.9 1005.5,701.7" stroke="#1c1c1c" stroke-width="1.04" fill="none"/>
<ellipse cx="1058.2" cy="719.9" rx="8.1" ry="6.9" stroke="#2a2a2a" stroke-width="1" fill="#fff"/>
<text x="1058.2" y="722.9" font-size="8.4" fill="#1d2233" text-anchor="middle" letter-spacing="0.3" stroke="#1d2233" stroke-width="0.12">36</text>
<polyline points="991.8,719.4 1003.2,719.4 1018,779.5" stroke="#1c1c1c" stroke-width="1.04" fill="none" stroke-dasharray="8 1.2 2 1.2"/>
<ellipse cx="983.4" cy="719.4" rx="8.1" ry="6.9" stroke="#2a2a2a" stroke-width="1" fill="#fff"/>
<text x="983.4" y="722.4" font-size="8.4" fill="#1d2233" text-anchor="middle" letter-spacing="0.3" stroke="#1d2233" stroke-width="0.12">48</text>
<polyline points="919.2,750.8 930.6,750.8 944.5,787" stroke="#1c1c1c" stroke-width="1.04" fill="none"/>
<ellipse cx="910.8" cy="750.8" rx="8.1" ry="6.9" stroke="#2a2a2a" stroke-width="1" fill="#fff"/>
<text x="910.8" y="753.8" font-size="8.4" fill="#1d2233" text-anchor="middle" letter-spacing="0.3" stroke="#1d2233" stroke-width="0.12">58</text>
<polyline points="881.3,874.7 869.5,874.7 856,883.2" stroke="#1c1c1c" stroke-width="1.04" fill="none"/>
<ellipse cx="889.7" cy="874.7" rx="8.1" ry="6.9" stroke="#2a2a2a" stroke-width="1" fill="#fff"/>
<text x="889.7" y="877.7" font-size="8.4" fill="#1d2233" text-anchor="middle" letter-spacing="0.3" stroke="#1d2233" stroke-width="0.12">29</text>
<polyline points="829.6,936.3 841.4,936.3 885,920" stroke="#1c1c1c" stroke-width="1.04" fill="none"/>
<ellipse cx="821.2" cy="936.3" rx="8.1" ry="6.9" stroke="#2a2a2a" stroke-width="1" fill="#fff"/>
<text x="821.2" y="939.3" font-size="8.4" fill="#1d2233" text-anchor="middle" letter-spacing="0.3" stroke="#1d2233" stroke-width="0.12">27</text>
<polyline points="852.5,968.6 864.6,968.6 922,922" stroke="#1c1c1c" stroke-width="1.04" fill="none"/>
<ellipse cx="844.1" cy="968.6" rx="8.1" ry="6.9" stroke="#2a2a2a" stroke-width="1" fill="#fff"/>
<text x="844.1" y="971.6" font-size="8.4" fill="#1d2233" text-anchor="middle" letter-spacing="0.3" stroke="#1d2233" stroke-width="0.12">47</text>
<polyline points="950.9,978.8 962.8,978.8 997,929.5" stroke="#1c1c1c" stroke-width="1.04" fill="none"/>
<ellipse cx="942.5" cy="978.8" rx="8.1" ry="6.9" stroke="#2a2a2a" stroke-width="1" fill="#fff"/>
<text x="942.5" y="981.8" font-size="8.4" fill="#1d2233" text-anchor="middle" letter-spacing="0.3" stroke="#1d2233" stroke-width="0.12">28</text>
<polyline points="1319.2,566.3 1307.2,566.3 1257,591.5" stroke="#1c1c1c" stroke-width="1.04" fill="none"/>
<ellipse cx="1327.6" cy="566.3" rx="8.1" ry="6.9" stroke="#2a2a2a" stroke-width="1" fill="#fff"/>
<text x="1327.6" y="569.3" font-size="8.4" fill="#1d2233" text-anchor="middle" letter-spacing="0.3" stroke="#1d2233" stroke-width="0.12">38</text>
<polyline points="1313,597.6 1301.4,597.6 1267.4,619.4" stroke="#1c1c1c" stroke-width="1.04" fill="none"/>
<ellipse cx="1321.3" cy="597.6" rx="8.1" ry="6.9" stroke="#2a2a2a" stroke-width="1" fill="#fff"/>
<text x="1321.3" y="600.6" font-size="8.4" fill="#1d2233" text-anchor="middle" letter-spacing="0.3" stroke="#1d2233" stroke-width="0.12">34</text>
<polyline points="1277.2,631.5 1265.4,631.5 1239.7,626.4" stroke="#1c1c1c" stroke-width="1.04" fill="none" stroke-dasharray="5 1"/>
<ellipse cx="1285.6" cy="631.5" rx="8.1" ry="6.9" stroke="#2a2a2a" stroke-width="1" fill="#fff"/>
<text x="1285.6" y="634.5" font-size="8.4" fill="#1d2233" text-anchor="middle" letter-spacing="0.3" stroke="#1d2233" stroke-width="0.12">36</text>
<polyline points="1275.3,647.7 1264.2,647.7 1239.7,637.9" stroke="#1c1c1c" stroke-width="1.04" fill="none"/>
<ellipse cx="1283.7" cy="647.7" rx="8.1" ry="6.9" stroke="#2a2a2a" stroke-width="1" fill="#fff"/>
<text x="1283.7" y="650.7" font-size="8.4" fill="#1d2233" text-anchor="middle" letter-spacing="0.3" stroke="#1d2233" stroke-width="0.12">37</text>
<polyline points="1283.5,669.4 1295.4,669.4 1314.4,695.6" stroke="#1c1c1c" stroke-width="1.04" fill="none"/>
<ellipse cx="1275.1" cy="669.4" rx="8.1" ry="6.9" stroke="#2a2a2a" stroke-width="1" fill="#fff"/>
<text x="1275.1" y="672.4" font-size="8.4" fill="#1d2233" text-anchor="middle" letter-spacing="0.3" stroke="#1d2233" stroke-width="0.12">28</text>
<polyline points="1351.9,666.5 1364,666.5 1407.8,673.9" stroke="#1c1c1c" stroke-width="1.04" fill="none"/>
<ellipse cx="1343.5" cy="666.5" rx="8.1" ry="6.9" stroke="#2a2a2a" stroke-width="1" fill="#fff"/>
<text x="1343.5" y="669.5" font-size="8.4" fill="#1d2233" text-anchor="middle" letter-spacing="0.3" stroke="#1d2233" stroke-width="0.12">31</text>
<polyline points="1379.8,695 1368.6,695 1357,711.6" stroke="#1c1c1c" stroke-width="1.04" fill="none"/>
<ellipse cx="1388.2" cy="695" rx="8.1" ry="6.9" stroke="#2a2a2a" stroke-width="1" fill="#fff"/>
<text x="1388.2" y="698" font-size="8.4" fill="#1d2233" text-anchor="middle" letter-spacing="0.3" stroke="#1d2233" stroke-width="0.12">29</text>
<polyline points="1474.6,628.3 1462.8,628.3 1447.6,658.7" stroke="#1c1c1c" stroke-width="1.04" fill="none" stroke-dasharray="8 1.2 2 1.2"/>
<ellipse cx="1483" cy="628.3" rx="8.1" ry="6.9" stroke="#2a2a2a" stroke-width="1" fill="#fff"/>
<text x="1483" y="631.3" font-size="8.4" fill="#1d2233" text-anchor="middle" letter-spacing="0.3" stroke="#1d2233" stroke-width="0.12">25</text>
<polyline points="1497,651.6 1485.8,651.6 1441,683.4" stroke="#1c1c1c" stroke-width="1.04" fill="none"/>
<ellipse cx="1505.5" cy="651.6" rx="8.1" ry="6.9" stroke="#2a2a2a" stroke-width="1" fill="#fff"/>
<text x="1505.5" y="654.6" font-size="8.4" fill="#1d2233" text-anchor="middle" letter-spacing="0.3" stroke="#1d2233" stroke-width="0.12">30</text>
<polyline points="1493.6,674.6 1481.6,674.6 1453.5,706.8" stroke="#1c1c1c" stroke-width="1.04" fill="none"/>
<ellipse cx="1502" cy="674.6" rx="8.1" ry="6.9" stroke="#2a2a2a" stroke-width="1" fill="#fff"/>
<text x="1502" y="677.6" font-size="8.4" fill="#1d2233" text-anchor="middle" letter-spacing="0.3" stroke="#1d2233" stroke-width="0.12">26</text>
<polyline points="1251.5,741.4 1263.6,741.4 1273.4,765" stroke="#1c1c1c" stroke-width="1.04" fill="none"/>
<ellipse cx="1243.1" cy="741.4" rx="8.1" ry="6.9" stroke="#2a2a2a" stroke-width="1" fill="#fff"/>
<text x="1243.1" y="744.4" font-size="8.4" fill="#1d2233" text-anchor="middle" letter-spacing="0.3" stroke="#1d2233" stroke-width="0.12">56</text>
<polyline points="1279.4,824 1290.6,824 1301.8,790.4" stroke="#1c1c1c" stroke-width="1.04" fill="none"/>
<ellipse cx="1271" cy="824" rx="8.1" ry="6.9" stroke="#2a2a2a" stroke-width="1" fill="#fff"/>
<text x="1271" y="827" font-size="8.4" fill="#1d2233" text-anchor="middle" letter-spacing="0.3" stroke="#1d2233" stroke-width="0.12">27</text>
<polyline points="1367.5,814.5 1379.2,814.5 1408,776.4" stroke="#1c1c1c" stroke-width="1.04" fill="none"/>
<ellipse cx="1359.1" cy="814.5" rx="8.1" ry="6.9" stroke="#2a2a2a" stroke-width="1" fill="#fff"/>
<text x="1359.1" y="817.5" font-size="8.4" fill="#1d2233" text-anchor="middle" letter-spacing="0.3" stroke="#1d2233" stroke-width="0.12">57</text>
<polyline points="1497.5,814.5 1485.4,814.2 1467.6,768" stroke="#1c1c1c" stroke-width="1.04" fill="none"/>
<polyline points="1485.4,814.2 1440,800" stroke="#1c1c1c" stroke-width="1.04" fill="none"/>
<ellipse cx="1505.9" cy="814.5" rx="8.1" ry="6.9" stroke="#2a2a2a" stroke-width="1" fill="#fff"/>
<text x="1505.9" y="817.5" font-size="8.4" fill="#1d2233" text-anchor="middle" letter-spacing="0.3" stroke="#1d2233" stroke-width="0.12">33</text>
<polyline points="1289.4,862.7 1299.8,862.7 1324.2,843" stroke="#1c1c1c" stroke-width="1.04" fill="none"/>
<ellipse cx="1281" cy="862.7" rx="8.1" ry="6.9" stroke="#2a2a2a" stroke-width="1" fill="#fff"/>
<text x="1281" y="865.7" font-size="8.4" fill="#1d2233" text-anchor="middle" letter-spacing="0.3" stroke="#1d2233" stroke-width="0.12">55</text>
<polyline points="1359.2,192.8 1370.6,192.8 1388.6,225" stroke="#1c1c1c" stroke-width="1.04" fill="none"/>
<ellipse cx="1353.1" cy="192.8" rx="6" ry="5.5" stroke="#2a2a2a" stroke-width="1" fill="#fff"/>
<text x="1353.1" y="195.8" font-size="8.4" fill="#1d2233" text-anchor="middle" letter-spacing="0.3" stroke="#1d2233" stroke-width="0.12" font-style="italic" transform="translate(1353.1 192.8) skewX(-10) translate(-1353.1 -192.8)">5</text>
<polyline points="1478.4,279.4 1466.2,279.2 1454.6,248" stroke="#8c8c8c" stroke-width="1.04" fill="none"/>
<ellipse cx="1486.4" cy="279.5" rx="8.1" ry="6.9" stroke="#9a9a9a" stroke-width="1" fill="#fff"/>
<text x="1486.4" y="282.5" font-size="8.4" fill="#8a8f98" text-anchor="middle" letter-spacing="0.3" stroke="#8a8f98" stroke-width="0.12" font-style="italic" transform="translate(1486.4 279.5) skewX(-10) translate(-1486.4 -279.5)">59</text>
<polyline points="1429.8,322.9 1417.6,322.9 1389.5,281.6" stroke="#8c8c8c" stroke-width="1.04" fill="none"/>
<ellipse cx="1435.9" cy="322.9" rx="6" ry="5.5" stroke="#9a9a9a" stroke-width="1" fill="#fff"/>
<text x="1435.9" y="325.9" font-size="8.4" fill="#8a8f98" text-anchor="middle" letter-spacing="0.3" stroke="#8a8f98" stroke-width="0.12" font-style="italic" transform="translate(1435.9 322.9) skewX(-10) translate(-1435.9 -322.9)">6</text>
<polyline points="1312.7,380.4 1300.8,380.4 1267.2,398.3" stroke="#1c1c1c" stroke-width="1.04" fill="none"/>
<ellipse cx="1321.1" cy="380.4" rx="8.1" ry="6.9" stroke="#2a2a2a" stroke-width="1" fill="#fff"/>
<text x="1321.1" y="383.4" font-size="8.4" fill="#1d2233" text-anchor="middle" letter-spacing="0.3" stroke="#1d2233" stroke-width="0.12">24</text>
<polyline points="1371.2,400.4 1439.5,434.9" stroke="#1c1c1c" stroke-width="1.04" fill="none"/>
<polyline points="1371.2,400.4 1468.3,420.5" stroke="#1c1c1c" stroke-width="1.04" fill="none" stroke-dasharray="3 1"/>
<ellipse cx="1363" cy="399.1" rx="8.1" ry="6.9" stroke="#2a2a2a" stroke-width="1" fill="#fff"/>
<text x="1363" y="402.1" font-size="8.4" fill="#1d2233" text-anchor="middle" letter-spacing="0.3" stroke="#1d2233" stroke-width="0.12">39</text>
<polyline points="1537.3,439.9 1525,441.2" stroke="#1c1c1c" stroke-width="1.04" fill="none"/>
<ellipse cx="1545.7" cy="439.9" rx="8.1" ry="6.9" stroke="#2a2a2a" stroke-width="1" fill="#fff"/>
<text x="1545.7" y="442.9" font-size="8.4" fill="#1d2233" text-anchor="middle" letter-spacing="0.3" stroke="#1d2233" stroke-width="0.12">34</text>
<polyline points="1296.8,468.5 1284.4,468.5 1242,503.3" stroke="#1c1c1c" stroke-width="1.04" fill="none"/>
<ellipse cx="1305.2" cy="468.5" rx="8.1" ry="6.9" stroke="#2a2a2a" stroke-width="1" fill="#fff"/>
<text x="1305.2" y="471.5" font-size="8.4" fill="#1d2233" text-anchor="middle" letter-spacing="0.3" stroke="#1d2233" stroke-width="0.12">32</text>
<polyline points="1295.2,500.5 1284.4,500.5 1277,497.6 1270.6,494" stroke="#1c1c1c" stroke-width="1.04" fill="none"/>
<ellipse cx="1303.6" cy="500.5" rx="8.1" ry="6.9" stroke="#2a2a2a" stroke-width="1" fill="#fff"/>
<text x="1303.6" y="503.5" font-size="8.4" fill="#1d2233" text-anchor="middle" letter-spacing="0.3" stroke="#1d2233" stroke-width="0.12">27</text>
<polyline points="1526.6,482 1514.6,482 1502.4,523.4" stroke="#1c1c1c" stroke-width="1.04" fill="none"/>
<ellipse cx="1535" cy="482" rx="8.1" ry="6.9" stroke="#2a2a2a" stroke-width="1" fill="#fff"/>
<text x="1535" y="485" font-size="8.4" fill="#1d2233" text-anchor="middle" letter-spacing="0.3" stroke="#1d2233" stroke-width="0.12">35</text>
</g>
</g>
</svg>
</body></html>
